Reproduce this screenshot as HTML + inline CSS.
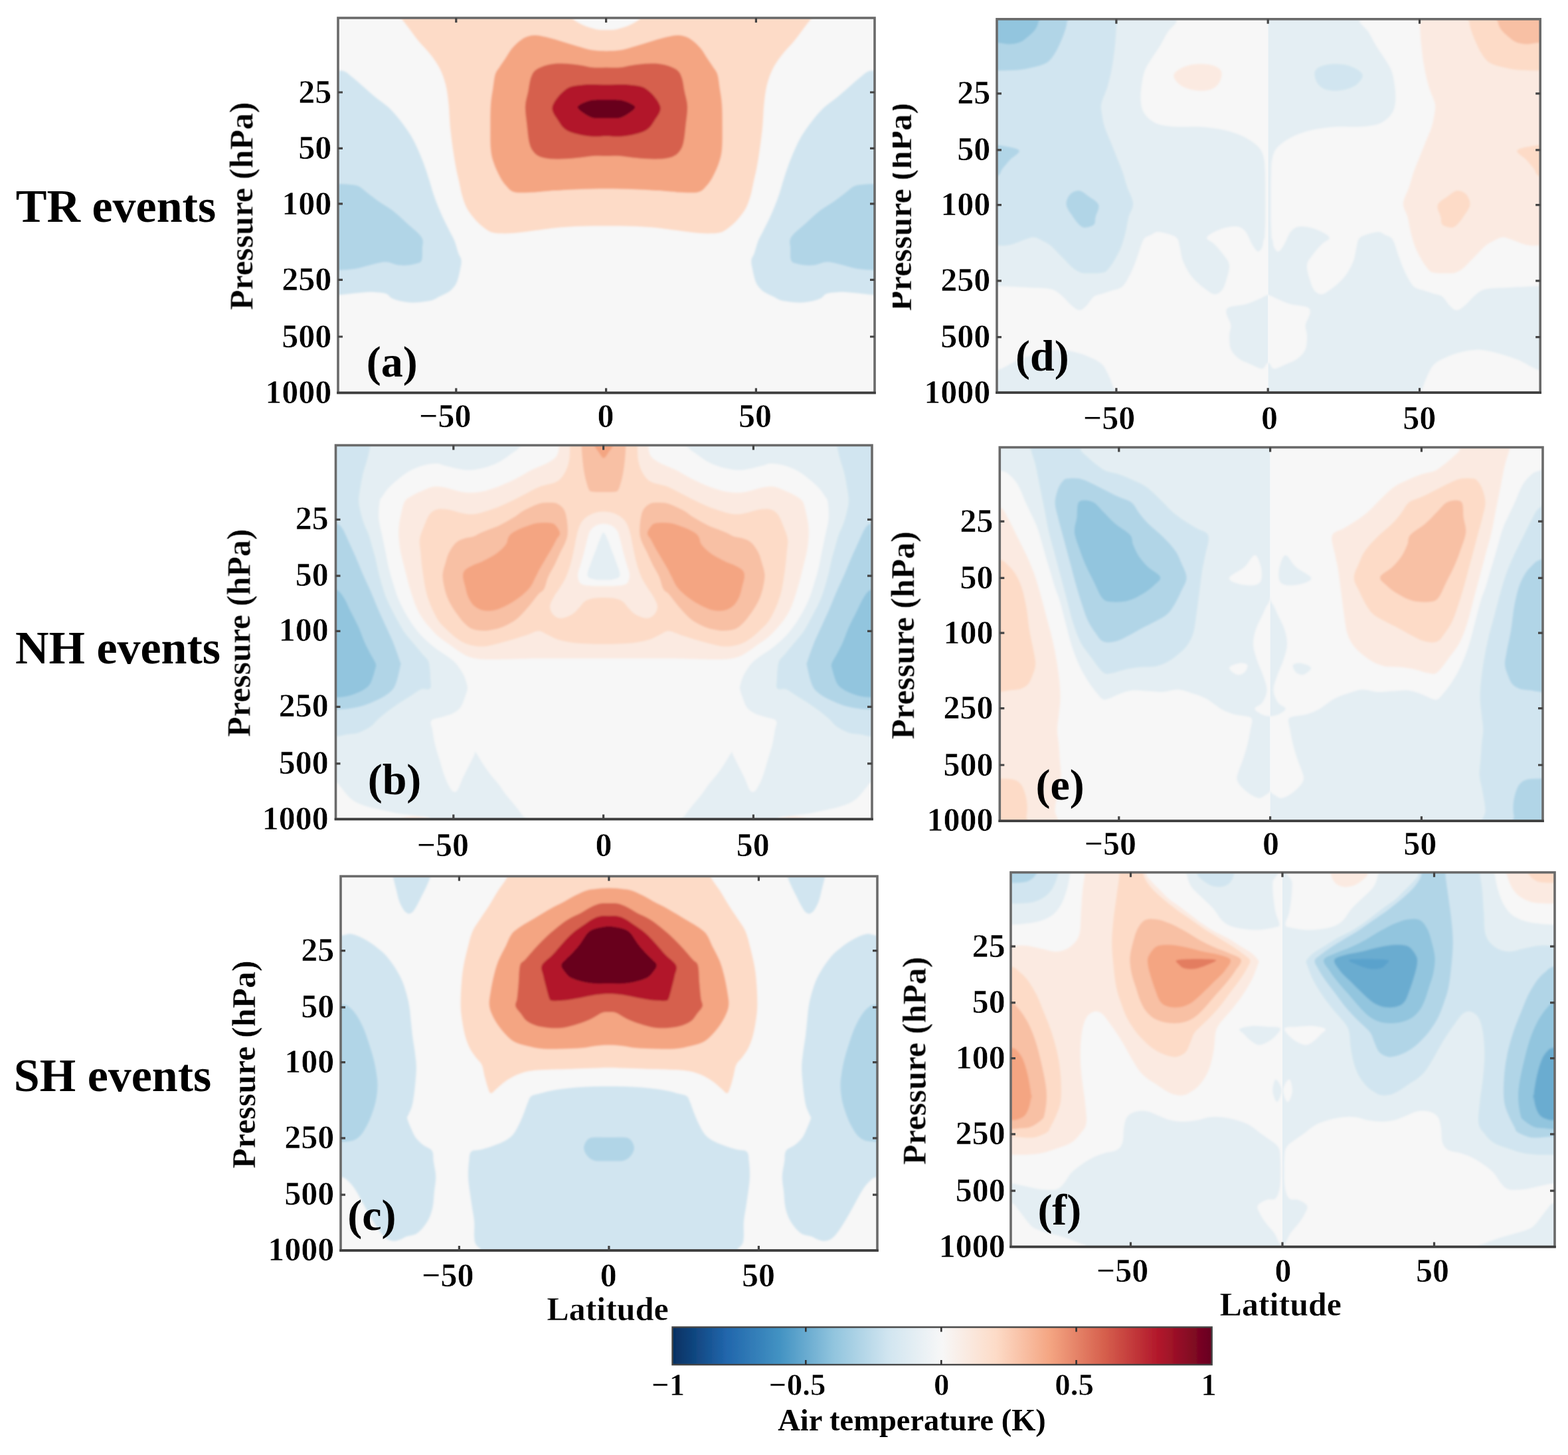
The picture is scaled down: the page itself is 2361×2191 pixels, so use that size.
<!DOCTYPE html>
<html lang="en"><head><meta charset="utf-8"><title>Figure</title>
<style>
html,body{margin:0;padding:0;background:#fff;}
body{width:2361px;height:2191px;overflow:hidden;}
svg{display:block;}
text{font-family:"Liberation Serif","DejaVu Serif",serif;font-weight:bold;fill:#000;}
.tk{font-size:50px;stroke:#fff;stroke-width:0.6px;}
.row{font-size:70px;}
.ax{font-size:50px;stroke:#fff;stroke-width:0.4px;}
.pl{font-size:66px;}
.cb{font-size:46.5px;}
.cbt{font-size:47px;stroke:#fff;stroke-width:0.6px;}
.axp{font-size:50px;stroke:#fff;stroke-width:0.4px;}
</style></head><body>
<svg width="2361" height="2191" viewBox="0 0 2361 2191">
<defs><filter id="soft" x="-5%" y="-5%" width="110%" height="110%"><feGaussianBlur stdDeviation="1.5"/></filter><filter id="tsoft" x="-5%" y="-5%" width="110%" height="110%"><feGaussianBlur stdDeviation="0.55"/></filter></defs>
<rect width="2361" height="2191" fill="#fff"/>
<g id="panel-a">
<clipPath id="cpa"><rect x="509" y="27" width="808" height="564.5"/></clipPath>
<g clip-path="url(#cpa)"><g filter="url(#soft)">
<rect x="489" y="7" width="848" height="604.5" fill="#f7f7f7"/>
<path d="M913.1,45.1C907.8,45.1 902.9,45.0 897.2,43.9C891.5,42.8 884.8,40.8 879.1,38.3C873.5,35.8 867.8,32.4 863.3,29.2C858.8,26.0 876.5,22.2 852,19C827.5,15.8 758.4,10.0 716.2,10C674.0,10.0 617.1,15.8 598.6,19C580.1,22.2 602.4,25.1 605.4,29.2C608.4,33.4 612.6,38.4 616.7,43.9C620.9,49.4 625.0,55.6 630.3,62C635.6,68.4 643.1,75.6 648.4,82.4C653.7,89.2 658.1,95.3 661.9,102.8C665.7,110.3 668.7,118.5 671,127.6C673.3,136.7 674.4,146.5 675.5,157.1C676.6,167.7 676.7,179.3 677.8,191C678.9,202.7 680.8,216.6 682.3,227.2C683.8,237.8 685.3,246.4 686.8,254.3C688.3,262.2 689.9,267.9 691.4,274.7C692.9,281.5 694.0,288.7 695.9,295.1C697.8,301.5 699.7,307.6 702.7,313.2C705.7,318.8 710.2,324.5 714,329C717.8,333.5 721.1,336.9 725.3,340.3C729.4,343.7 733.6,347.5 738.9,349.4C744.2,351.3 750.2,351.4 757,351.6C763.8,351.8 771.3,351.2 779.6,350.5C787.9,349.8 796.2,348.4 806.7,347.1C817.2,345.8 831.6,343.7 842.9,342.6C854.2,341.6 862.9,341.2 874.6,340.8C886.3,340.4 900.3,340.3 913.1,340.3C925.9,340.3 939.7,340.4 951.4,340.8C963.1,341.2 971.8,341.6 983.1,342.6C994.4,343.7 1008.8,345.8 1019.3,347.1C1029.8,348.4 1038.1,349.8 1046.4,350.5C1054.7,351.2 1062.2,351.8 1069,351.6C1075.8,351.4 1081.8,351.3 1087.1,349.4C1092.4,347.5 1096.5,343.7 1100.7,340.3C1104.9,336.9 1108.2,333.5 1112,329C1115.8,324.5 1120.3,318.8 1123.3,313.2C1126.3,307.6 1128.2,301.5 1130.1,295.1C1132.0,288.7 1133.1,281.5 1134.6,274.7C1136.1,267.9 1137.7,262.2 1139.2,254.3C1140.7,246.4 1142.2,237.8 1143.7,227.2C1145.2,216.6 1147.1,202.7 1148.2,191C1149.3,179.3 1149.4,167.7 1150.5,157.1C1151.6,146.5 1152.7,136.7 1155,127.6C1157.3,118.5 1160.3,110.3 1164.1,102.8C1167.9,95.3 1172.3,89.2 1177.6,82.4C1182.9,75.6 1190.4,68.4 1195.7,62C1201.0,55.6 1205.2,49.4 1209.3,43.9C1213.4,38.4 1217.6,33.4 1220.6,29.2C1223.6,25.1 1245.9,22.2 1227.4,19C1208.9,15.8 1152.0,10.0 1109.8,10C1067.6,10.0 998.5,15.8 974,19C949.5,22.2 967.2,26.0 962.7,29.2C958.2,32.4 952.5,35.8 946.9,38.3C941.2,40.8 934.4,42.8 928.8,43.9C923.2,45.0 918.4,45.1 913.1,45.1Z" fill="#fddbc7"/>
<path d="M913.1,76.7C906.3,76.7 899.1,76.5 892.7,75.6C886.3,74.7 881.4,73.0 874.6,71.1C867.8,69.2 859.5,66.6 852,64.3C844.5,62.0 836.9,59.4 829.4,57.5C821.9,55.6 812.7,53.4 806.7,53C800.7,52.6 797.3,53.7 793.2,55.2C789.1,56.7 785.7,59.0 781.9,62C778.1,65.0 773.9,69.1 770.5,73.3C767.1,77.5 764.5,82.4 761.5,86.9C758.5,91.4 755.0,96.3 752.4,100.5C749.8,104.7 747.4,106.5 745.7,111.8C744.0,117.1 743.4,124.6 742.3,132.2C741.2,139.8 739.6,147.3 738.9,157.1C738.2,166.9 738.2,179.7 738.2,191C738.2,202.3 738.0,215.8 738.9,224.9C739.8,234.0 741.1,238.5 743.4,245.3C745.6,252.1 749.4,260.1 752.4,265.7C755.4,271.3 757.7,275.2 761.5,279.2C765.3,283.1 767.6,287.7 775.1,289.4C782.6,291.1 796.9,289.8 806.7,289.4C816.5,289.0 822.6,287.9 833.9,287.1C845.2,286.4 861.4,285.4 874.6,284.9C887.8,284.4 900.3,284.2 913.1,284.2C925.9,284.2 938.2,284.4 951.4,284.9C964.6,285.4 980.8,286.4 992.1,287.1C1003.4,287.9 1009.5,289.0 1019.3,289.4C1029.1,289.8 1043.4,291.1 1050.9,289.4C1058.4,287.7 1060.7,283.1 1064.5,279.2C1068.3,275.2 1070.6,271.3 1073.6,265.7C1076.6,260.1 1080.3,252.1 1082.6,245.3C1084.8,238.5 1086.2,234.0 1087.1,224.9C1088.0,215.8 1087.8,202.3 1087.8,191C1087.8,179.7 1087.8,166.9 1087.1,157.1C1086.4,147.3 1084.8,139.8 1083.7,132.2C1082.6,124.6 1082.0,117.1 1080.3,111.8C1078.6,106.5 1076.2,104.7 1073.6,100.5C1071.0,96.3 1067.5,91.4 1064.5,86.9C1061.5,82.4 1058.9,77.5 1055.5,73.3C1052.1,69.1 1047.9,65.0 1044.1,62C1040.3,59.0 1036.9,56.7 1032.8,55.2C1028.7,53.7 1025.3,52.6 1019.3,53C1013.3,53.4 1004.1,55.6 996.6,57.5C989.1,59.4 981.5,62.0 974,64.3C966.5,66.6 958.2,69.2 951.4,71.1C944.6,73.0 939.7,74.7 933.3,75.6C926.9,76.5 919.9,76.7 913.1,76.7Z" fill="#f4a582"/>
<path d="M913.1,101.6C906.3,101.6 899.1,102.2 892.7,101.6C886.3,101.0 880.6,99.1 874.6,98.2C868.6,97.3 863.3,96.4 856.5,96C849.7,95.6 840.7,95.2 833.9,96C827.1,96.8 820.7,98.6 815.8,100.5C810.9,102.4 807.3,104.3 804.5,107.3C801.7,110.3 800.3,113.7 798.8,118.6C797.3,123.5 796.7,129.9 795.4,136.7C794.1,143.5 791.3,151.0 790.9,159.3C790.5,167.6 792.2,177.4 793.2,186.5C794.2,195.6 795.1,206.8 796.6,213.6C798.1,220.4 799.4,223.4 802.2,227.2C805.0,231.0 808.2,234.1 813.5,236.2C818.8,238.3 825.6,239.2 833.9,239.6C842.2,240.0 853.5,239.2 863.3,238.5C873.1,237.8 884.4,235.7 892.7,235.1C901.0,234.5 906.3,235.1 913.1,235.1C919.9,235.1 925.0,234.5 933.3,235.1C941.6,235.7 952.9,237.8 962.7,238.5C972.5,239.2 983.8,240.0 992.1,239.6C1000.4,239.2 1007.2,238.3 1012.5,236.2C1017.8,234.1 1021.0,231.0 1023.8,227.2C1026.6,223.4 1027.9,220.4 1029.4,213.6C1030.9,206.8 1031.8,195.6 1032.8,186.5C1033.8,177.4 1035.5,167.6 1035.1,159.3C1034.7,151.0 1031.9,143.5 1030.6,136.7C1029.3,129.9 1028.7,123.5 1027.2,118.6C1025.7,113.7 1024.3,110.3 1021.5,107.3C1018.7,104.3 1015.1,102.4 1010.2,100.5C1005.3,98.6 998.9,96.8 992.1,96C985.3,95.2 976.3,95.6 969.5,96C962.7,96.4 957.4,97.3 951.4,98.2C945.4,99.1 939.7,101.0 933.3,101.6C926.9,102.2 919.9,101.6 913.1,101.6Z" fill="#d6604d"/>
<path d="M913.1,127.6C901.8,127.6 889.3,126.5 879.1,127.6C868.9,128.7 859.9,128.9 852,134.4C844.1,139.9 833.5,152.6 831.6,160.5C829.7,168.4 837.3,176.1 840.7,181.9C844.1,187.7 847.1,192.1 852,195.5C856.9,198.9 863.3,200.6 870.1,202.3C876.9,204.0 885.5,205.2 892.7,205.7C899.9,206.1 906.3,205.0 913.1,205C919.9,205.0 926.2,206.1 933.3,205.7C940.4,205.2 949.1,204.0 955.9,202.3C962.7,200.6 969.1,198.9 974,195.5C978.9,192.1 981.9,187.7 985.3,181.9C988.7,176.1 996.3,168.4 994.4,160.5C992.5,152.6 981.9,139.9 974,134.4C966.1,128.9 957.0,128.7 946.9,127.6C936.8,126.5 924.4,127.6 913.1,127.6Z" fill="#b2182b"/>
<path d="M913.1,150.3C904.8,150.3 895.4,149.7 888.2,151.4C881.0,153.1 871.6,157.3 870.1,160.5C868.6,163.7 875.3,167.8 879.1,170.6C882.9,173.4 887.0,176.2 892.7,177.4C898.4,178.6 906.3,177.9 913.1,177.9C919.9,177.9 927.7,178.6 933.3,177.4C938.9,176.2 943.1,173.4 946.9,170.6C950.7,167.8 957.4,163.7 955.9,160.5C954.4,157.3 944.9,153.1 937.8,151.4C930.7,149.7 921.4,150.3 913.1,150.3Z" fill="#67001f"/>
<path d="M490,106.2C493.2,49.9 504.3,106.0 509.2,106.2C514.1,106.5 515.8,106.0 519.4,107.7C523.0,109.4 526.2,112.6 530.7,116.3C535.2,120.0 540.9,125.0 546.6,129.9C552.3,134.8 558.3,140.4 564.7,145.7C571.1,151.0 578.6,155.6 585,161.6C591.4,167.6 597.4,174.7 603.1,181.9C608.8,189.1 614.5,197.1 619,204.6C623.5,212.1 626.9,219.7 630.3,227.2C633.7,234.7 636.7,242.6 639.3,249.8C641.9,257.0 643.8,263.0 646.1,270.2C648.4,277.4 650.6,286.0 652.9,292.8C655.2,299.6 657.1,304.5 659.7,310.9C662.3,317.3 665.7,324.9 668.7,331.3C671.7,337.7 675.1,344.1 677.8,349.4C680.4,354.7 682.5,357.6 684.6,362.9C686.7,368.2 688.5,376.1 690.2,381C691.9,385.9 694.4,387.9 694.8,392.4C695.2,396.9 693.5,403.2 692.5,408.1C691.5,413.0 690.4,417.9 689.1,421.7C687.8,425.5 686.9,427.8 684.6,430.8C682.3,433.8 679.3,437.2 675.5,439.8C671.7,442.4 666.0,444.5 661.9,446.6C657.8,448.7 654.7,451.0 650.6,452.3C646.5,453.6 642.0,453.9 637.1,454.5C632.2,455.1 626.9,455.9 621.2,455.7C615.5,455.5 608.4,454.5 603.1,453.4C597.8,452.3 593.3,450.8 589.5,448.9C585.7,447.0 585.8,443.6 580.5,442.1C575.2,440.6 565.4,439.9 557.9,439.8C550.4,439.7 543.3,440.9 535.2,441.6C527.1,442.4 516.7,443.9 509.2,444.3C501.7,444.8 493.2,500.7 490,444.3C486.8,387.9 486.8,162.6 490,106.2Z" fill="#d1e5f0"/>
<path d="M1336,444.3C1332.8,500.7 1324.3,444.8 1316.8,444.3C1309.3,443.9 1298.9,442.4 1290.8,441.6C1282.7,440.9 1275.6,439.7 1268.1,439.8C1260.5,439.9 1250.8,440.6 1245.5,442.1C1240.2,443.6 1240.3,447.0 1236.5,448.9C1232.7,450.8 1228.2,452.3 1222.9,453.4C1217.6,454.5 1210.5,455.5 1204.8,455.7C1199.1,455.9 1193.8,455.1 1188.9,454.5C1184.0,453.9 1179.5,453.6 1175.4,452.3C1171.3,451.0 1168.2,448.7 1164.1,446.6C1159.9,444.5 1154.3,442.4 1150.5,439.8C1146.7,437.2 1143.7,433.8 1141.4,430.8C1139.1,427.8 1138.2,425.5 1136.9,421.7C1135.6,417.9 1134.5,413.0 1133.5,408.1C1132.5,403.2 1130.8,396.9 1131.2,392.4C1131.6,387.9 1134.1,385.9 1135.8,381C1137.5,376.1 1139.3,368.2 1141.4,362.9C1143.5,357.6 1145.6,354.7 1148.2,349.4C1150.8,344.1 1154.3,337.7 1157.3,331.3C1160.3,324.9 1163.7,317.3 1166.3,310.9C1168.9,304.5 1170.8,299.6 1173.1,292.8C1175.4,286.0 1177.6,277.4 1179.9,270.2C1182.2,263.0 1184.1,257.0 1186.7,249.8C1189.3,242.6 1192.3,234.7 1195.7,227.2C1199.1,219.7 1202.5,212.1 1207,204.6C1211.5,197.1 1217.2,189.1 1222.9,181.9C1228.6,174.7 1234.6,167.6 1241,161.6C1247.4,155.6 1254.9,151.0 1261.3,145.7C1267.7,140.4 1273.7,134.8 1279.4,129.9C1285.1,125.0 1290.8,120.0 1295.3,116.3C1299.8,112.6 1303.0,109.4 1306.6,107.7C1310.2,106.0 1311.9,106.5 1316.8,106.2C1321.7,106.0 1332.8,49.9 1336,106.2C1339.2,162.6 1339.2,387.9 1336,444.3Z" fill="#d1e5f0"/>
<path d="M490,276.9C493.2,255.2 503.6,276.8 509.2,276.9C514.9,277.0 518.8,276.8 523.9,277.4C529.0,278.0 534.9,278.1 539.8,280.3C544.7,282.5 548.0,286.5 553.3,290.5C558.6,294.5 565.0,299.6 571.4,304.1C577.8,308.6 585.0,312.3 591.8,317.6C598.6,322.9 605.0,329.1 612.2,335.7C619.4,342.3 630.8,350.8 634.8,357.2C638.8,363.6 635.9,368.3 635.9,374.2C635.9,380.1 636.5,388.4 634.8,392.3C633.1,396.2 629.5,396.1 625.7,397.3C621.9,398.5 616.7,399.2 612.2,399.5C607.7,399.8 603.9,399.9 598.6,399.1C593.3,398.3 587.3,394.6 580.5,394.6C573.7,394.6 565.4,397.4 557.9,399.1C550.4,400.8 543.3,403.5 535.2,404.8C527.1,406.1 516.7,406.6 509.2,407C501.7,407.4 493.2,428.7 490,407C486.8,385.3 486.8,298.6 490,276.9Z" fill="#b1d5e7"/>
<path d="M1336,407C1332.8,428.7 1324.3,407.4 1316.8,407C1309.3,406.6 1298.9,406.1 1290.8,404.8C1282.7,403.5 1275.6,400.8 1268.1,399.1C1260.5,397.4 1252.3,394.6 1245.5,394.6C1238.7,394.6 1232.7,398.3 1227.4,399.1C1222.1,399.9 1218.3,399.8 1213.8,399.5C1209.3,399.2 1204.1,398.5 1200.3,397.3C1196.5,396.1 1192.9,396.2 1191.2,392.3C1189.5,388.4 1190.1,380.1 1190.1,374.2C1190.1,368.3 1187.2,363.6 1191.2,357.2C1195.2,350.8 1206.6,342.3 1213.8,335.7C1221.0,329.1 1227.4,322.9 1234.2,317.6C1241.0,312.3 1248.2,308.6 1254.6,304.1C1261.0,299.6 1267.4,294.5 1272.7,290.5C1278.0,286.5 1281.3,282.5 1286.2,280.3C1291.1,278.1 1297.0,278.0 1302.1,277.4C1307.2,276.8 1311.1,277.0 1316.8,276.9C1322.5,276.8 1332.8,255.2 1336,276.9C1339.2,298.6 1339.2,385.3 1336,407Z" fill="#b1d5e7"/>
</g></g>
<g filter="url(#tsoft)">
<rect x="509" y="27" width="808" height="564.5" fill="none" stroke="#6b6b6b" stroke-width="3.6"/>
<path d="M507.2,591.5 H1318.8" stroke="#3c3c3c" stroke-width="3.6" fill="none"/>
<path d="M686.8,591.5 v-7 M686.8,27 v7 M912.6,591.5 v-7 M912.6,27 v7 M1138.4,591.5 v-7 M1138.4,27 v7 M509,139 h7 M1317,139 h-7 M509,223.3 h7 M1317,223.3 h-7 M509,306.8 h7 M1317,306.8 h-7 M509,421.3 h7 M1317,421.3 h-7 M509,507 h7 M1317,507 h-7" stroke="#444" stroke-width="3.2" fill="none"/>
<text x="709.4" y="643.1" text-anchor="end" class="tk">−50</text>
<text x="912.1" y="643.1" text-anchor="middle" class="tk">0</text>
<text x="1137" y="643.1" text-anchor="middle" class="tk">50</text>
<text x="499.2" y="154.7" text-anchor="end" class="tk">25</text>
<text x="499.2" y="239" text-anchor="end" class="tk">50</text>
<text x="499.2" y="322.5" text-anchor="end" class="tk">100</text>
<text x="499.2" y="437" text-anchor="end" class="tk">250</text>
<text x="499.2" y="522.7" text-anchor="end" class="tk">500</text>
<text x="499.2" y="606.7" text-anchor="end" class="tk">1000</text>
<text transform="translate(380.4,310.3) rotate(-90)" text-anchor="middle" class="axp">Pressure (hPa)</text>
<text x="551.8" y="566.8" class="pl">(a)</text>
</g>
</g>
<g id="panel-b">
<clipPath id="cpb"><rect x="505.5" y="670.5" width="807.5" height="563"/></clipPath>
<g clip-path="url(#cpb)"><g filter="url(#soft)">
<rect x="485.5" y="650.5" width="847.5" height="603" fill="#f7f7f7"/>
<path d="M781.6,659C832.5,661.5 783.7,669.6 781.6,673.8C779.5,677.9 774.2,680.1 769,683.9C763.8,687.7 757.5,692.8 750.2,696.4C742.9,700.0 733.5,703.3 725.1,705.2C716.7,707.1 709.0,708.3 700,707.7C691.0,707.1 678.1,703.2 671,701.6C663.9,700.0 663.0,698.1 657.4,698C651.8,697.9 643.9,699.0 637.1,700.9C630.3,702.8 623.1,705.7 616.7,709.3C610.3,712.9 603.9,718.1 598.6,722.4C593.3,726.6 588.8,730.6 585,734.8C581.2,738.9 578.2,743.9 576,747.3C573.8,750.7 572.7,749.9 571.7,755.4C570.8,760.9 569.7,772.1 570.3,780.5C570.9,788.9 573.6,797.3 575.3,805.7C577.0,814.1 578.8,822.4 580.5,830.8C582.2,839.2 583.4,847.5 585.5,855.9C587.6,864.3 590.6,874.0 592.9,881.4C595.2,888.8 596.7,893.9 599.2,900.2C601.7,906.5 604.6,912.8 608,919.1C611.4,925.4 615.3,932.0 619.3,937.9C623.3,943.8 627.6,949.4 631.8,954.2C636.0,959.0 640.0,962.8 644.4,966.8C648.8,970.8 653.4,974.5 658.2,978.1C663.0,981.7 668.7,984.8 673.3,988.1C677.9,991.5 682.4,994.9 685.8,998.2C689.1,1001.6 691.1,1004.7 693.4,1008.2C695.7,1011.8 697.9,1015.5 699.6,1019.5C701.3,1023.5 702.7,1029.0 703.4,1032.1C704.1,1035.1 704.3,1035.0 703.8,1037.8C703.3,1040.6 702.1,1044.6 700.4,1049.1C698.7,1053.6 696.6,1060.8 693.6,1064.9C690.6,1069.1 686.8,1071.5 682.3,1074C677.8,1076.5 672.0,1077.7 666.5,1079.6C661.0,1081.5 652.1,1082.1 649.5,1085.3C646.9,1088.5 650.1,1092.9 651.1,1098.9C652.1,1104.9 653.4,1114.0 655.2,1121.5C657.0,1129.0 659.6,1136.6 661.9,1144.1C664.1,1151.6 666.4,1160.3 668.7,1166.7C671.0,1173.1 673.2,1178.4 675.5,1182.6C677.8,1186.8 680.0,1191.0 682.3,1192.1C684.6,1193.2 686.8,1192.5 689.1,1189.4C691.4,1186.3 693.3,1179.2 695.9,1173.5C698.5,1167.8 701.9,1161.4 704.9,1155.4C707.9,1149.4 712.1,1141.1 714,1137.3C715.9,1133.5 713.9,1130.5 716.2,1132.8C718.5,1135.1 723.8,1145.2 727.6,1150.9C731.4,1156.6 735.1,1161.8 738.9,1166.7C742.7,1171.6 746.4,1175.4 750.2,1180.3C754.0,1185.2 757.7,1191.3 761.5,1196.2C765.3,1201.1 769.4,1205.6 772.8,1209.7C776.2,1213.8 779.3,1217.6 781.9,1221C784.5,1224.4 786.5,1227.8 788.6,1230.1C790.7,1232.4 793.3,1230.1 794.3,1234.6C795.2,1239.1 847.3,1253.4 794.3,1257.2C741.3,1261.0 529.4,1356.9 476.4,1257.2C423.4,1157.5 425.5,758.7 476.4,659C527.3,559.3 730.7,656.5 781.6,659Z" fill="#e4eef3"/>
<path d="M1341.6,659C1392.5,758.7 1394.6,1157.5 1341.6,1257.2C1288.6,1356.9 1076.7,1261.0 1023.7,1257.2C970.7,1253.4 1022.8,1239.1 1023.7,1234.6C1024.7,1230.1 1027.3,1232.4 1029.4,1230.1C1031.5,1227.8 1033.5,1224.4 1036.1,1221C1038.7,1217.6 1041.8,1213.8 1045.2,1209.7C1048.6,1205.6 1052.7,1201.1 1056.5,1196.2C1060.3,1191.3 1064.0,1185.2 1067.8,1180.3C1071.6,1175.4 1075.3,1171.6 1079.1,1166.7C1082.9,1161.8 1086.6,1156.6 1090.4,1150.9C1094.2,1145.2 1099.5,1135.1 1101.8,1132.8C1104.1,1130.5 1102.1,1133.5 1104,1137.3C1105.9,1141.1 1110.1,1149.4 1113.1,1155.4C1116.1,1161.4 1119.5,1167.8 1122.1,1173.5C1124.7,1179.2 1126.6,1186.3 1128.9,1189.4C1131.2,1192.5 1133.4,1193.2 1135.7,1192.1C1138.0,1191.0 1140.2,1186.8 1142.5,1182.6C1144.8,1178.4 1147.0,1173.1 1149.3,1166.7C1151.6,1160.3 1153.8,1151.6 1156.1,1144.1C1158.3,1136.6 1161.0,1129.0 1162.8,1121.5C1164.6,1114.0 1166.0,1104.9 1166.9,1098.9C1167.9,1092.9 1171.1,1088.5 1168.5,1085.3C1165.9,1082.1 1157.0,1081.5 1151.5,1079.6C1146.0,1077.7 1140.2,1076.5 1135.7,1074C1131.2,1071.5 1127.4,1069.1 1124.4,1064.9C1121.4,1060.8 1119.3,1053.6 1117.6,1049.1C1115.9,1044.6 1114.7,1040.6 1114.2,1037.8C1113.7,1035.0 1113.9,1035.1 1114.6,1032.1C1115.3,1029.0 1116.7,1023.5 1118.4,1019.5C1120.1,1015.5 1122.3,1011.8 1124.6,1008.2C1126.9,1004.7 1128.8,1001.6 1132.2,998.2C1135.6,994.9 1140.1,991.5 1144.7,988.1C1149.3,984.8 1155.0,981.7 1159.8,978.1C1164.6,974.5 1169.2,970.8 1173.6,966.8C1178.0,962.8 1182.0,959.0 1186.2,954.2C1190.4,949.4 1194.7,943.8 1198.7,937.9C1202.7,932.0 1206.7,925.4 1210,919.1C1213.3,912.8 1216.3,906.5 1218.8,900.2C1221.3,893.9 1222.8,888.8 1225.1,881.4C1227.4,874.0 1230.4,864.3 1232.5,855.9C1234.6,847.5 1235.8,839.2 1237.5,830.8C1239.2,822.4 1241.0,814.1 1242.7,805.7C1244.4,797.3 1247.1,788.9 1247.7,780.5C1248.3,772.1 1247.2,760.9 1246.3,755.4C1245.3,749.9 1244.2,750.7 1242,747.3C1239.8,743.9 1236.8,738.9 1233,734.8C1229.2,730.6 1224.7,726.6 1219.4,722.4C1214.1,718.1 1207.7,712.9 1201.3,709.3C1194.9,705.7 1187.7,702.8 1180.9,700.9C1174.1,699.0 1166.2,697.9 1160.6,698C1154.9,698.1 1154.1,700.0 1147,701.6C1139.9,703.2 1127.0,707.1 1118,707.7C1109.0,708.3 1101.3,707.1 1092.9,705.2C1084.5,703.3 1075.1,700.0 1067.8,696.4C1060.5,692.8 1054.2,687.7 1049,683.9C1043.8,680.1 1038.5,677.9 1036.4,673.8C1034.3,669.6 985.5,661.5 1036.4,659C1087.3,656.5 1290.7,559.3 1341.6,659Z" fill="#e4eef3"/>
<path d="M481,1175.8C485.1,1162.6 500.1,1176.6 505.4,1178.1C510.7,1179.6 509.5,1181.4 512.6,1184.8C515.7,1188.2 520.1,1194.6 523.9,1198.4C527.7,1202.2 530.3,1204.8 535.2,1207.5C540.1,1210.2 545.8,1212.5 553.3,1214.7C560.8,1217.0 572.2,1219.2 580.5,1221C588.8,1222.8 595.6,1224.4 603.1,1225.6C610.6,1226.8 618.2,1227.0 625.7,1228.3C633.2,1229.6 644.6,1228.7 648.4,1233.5C652.2,1238.3 676.3,1253.2 648.4,1257.2C620.5,1261.2 508.9,1270.8 481,1257.2C453.1,1243.6 476.9,1189.0 481,1175.8Z" fill="#f7f7f7"/>
<path d="M1337,1257.2C1309.1,1270.8 1197.5,1261.2 1169.6,1257.2C1141.7,1253.2 1165.8,1238.3 1169.6,1233.5C1173.4,1228.7 1184.8,1229.6 1192.3,1228.3C1199.8,1227.0 1207.4,1226.8 1214.9,1225.6C1222.4,1224.4 1229.2,1222.8 1237.5,1221C1245.8,1219.2 1257.2,1217.0 1264.7,1214.7C1272.2,1212.5 1277.9,1210.2 1282.8,1207.5C1287.7,1204.8 1290.3,1202.2 1294.1,1198.4C1297.9,1194.6 1302.3,1188.2 1305.4,1184.8C1308.5,1181.4 1307.3,1179.6 1312.6,1178.1C1317.9,1176.6 1332.9,1162.6 1337,1175.8C1341.1,1189.0 1364.9,1243.6 1337,1257.2Z" fill="#f7f7f7"/>
<path d="M603.1,1234.6C600.9,1232.4 608.4,1231.4 612.2,1230.5C616.0,1229.6 621.6,1229.1 625.7,1229.2C629.9,1229.3 633.7,1230.1 637.1,1231C640.5,1231.9 648.0,1232.5 646.1,1234.6C644.2,1236.7 632.9,1243.7 625.7,1243.7C618.5,1243.7 605.4,1236.8 603.1,1234.6Z" fill="#fbeae1"/>
<path d="M1192.3,1243.7C1185.1,1243.7 1173.8,1236.7 1171.9,1234.6C1170.0,1232.5 1177.5,1231.9 1180.9,1231C1184.3,1230.1 1188.2,1229.3 1192.3,1229.2C1196.4,1229.1 1202.0,1229.6 1205.8,1230.5C1209.6,1231.4 1217.2,1232.4 1214.9,1234.6C1212.7,1236.8 1199.5,1243.7 1192.3,1243.7Z" fill="#fbeae1"/>
<path d="M481,659C493.8,584.0 545.2,656.7 557.9,659C570.6,661.3 558.2,667.3 557.4,672.6C556.6,677.9 555.1,683.9 553.3,690.7C551.5,697.5 548.5,705.0 546.6,713.3C544.7,721.6 542.7,733.5 541.6,740.5C540.5,747.5 539.9,750.1 540.2,755.4C540.5,760.7 541.8,766.4 543.2,772.2C544.6,778.0 546.8,784.7 548.8,790.3C550.8,795.9 553.5,800.4 555.4,805.7C557.3,811.0 558.5,816.2 560.1,821.9C561.7,827.6 563.5,833.6 565.1,840C566.7,846.4 567.9,853.5 569.6,860.4C571.3,867.3 573.3,874.8 575.3,881.4C577.3,888.0 579.1,893.9 581.6,900.2C584.1,906.5 587.2,912.8 590.4,919.1C593.5,925.4 597.1,932.0 600.5,937.9C603.9,943.8 606.7,949.0 610.5,954.2C614.3,959.4 618.9,964.3 623.1,969.3C627.3,974.3 632.1,980.2 635.6,984.4C639.1,988.6 642.5,990.6 644.4,994.4C646.3,998.2 646.5,1001.8 647.2,1007C647.9,1012.2 648.1,1021.2 648.4,1025.8C648.7,1030.4 649.5,1032.5 648.8,1034.6C648.1,1036.7 646.7,1037.8 644.4,1038.3C642.1,1038.8 639.4,1036.0 634.8,1037.8C630.2,1039.6 622.7,1045.3 616.7,1049.1C610.7,1052.9 604.2,1056.6 598.6,1060.4C593.0,1064.2 587.7,1067.9 582.8,1071.7C577.9,1075.5 573.4,1079.2 569.2,1083C565.1,1086.8 562.8,1090.9 557.9,1094.3C553.0,1097.7 545.5,1101.5 539.8,1103.4C534.1,1105.3 529.6,1104.8 523.9,1105.7C518.2,1106.6 512.5,1108.5 505.4,1109C498.2,1109.5 485.1,1184.0 481,1109C476.9,1034.0 468.2,734.0 481,659Z" fill="#d1e5f0"/>
<path d="M1337,1109C1332.9,1184.0 1319.8,1109.5 1312.6,1109C1305.4,1108.5 1299.8,1106.6 1294.1,1105.7C1288.4,1104.8 1283.9,1105.3 1278.2,1103.4C1272.5,1101.5 1265.0,1097.7 1260.1,1094.3C1255.2,1090.9 1252.9,1086.8 1248.8,1083C1244.7,1079.2 1240.1,1075.5 1235.2,1071.7C1230.3,1067.9 1225.1,1064.2 1219.4,1060.4C1213.8,1056.6 1207.3,1052.9 1201.3,1049.1C1195.3,1045.3 1187.8,1039.6 1183.2,1037.8C1178.6,1036.0 1175.9,1038.8 1173.6,1038.3C1171.3,1037.8 1169.9,1036.7 1169.2,1034.6C1168.5,1032.5 1169.3,1030.4 1169.6,1025.8C1169.9,1021.2 1170.1,1012.2 1170.8,1007C1171.5,1001.8 1171.7,998.2 1173.6,994.4C1175.5,990.6 1178.9,988.6 1182.4,984.4C1186.0,980.2 1190.7,974.3 1194.9,969.3C1199.1,964.3 1203.7,959.4 1207.5,954.2C1211.3,949.0 1214.2,943.8 1217.5,937.9C1220.8,932.0 1224.4,925.4 1227.6,919.1C1230.8,912.8 1233.9,906.5 1236.4,900.2C1238.9,893.9 1240.7,888.0 1242.7,881.4C1244.7,874.8 1246.7,867.3 1248.4,860.4C1250.1,853.5 1251.3,846.4 1252.9,840C1254.5,833.6 1256.3,827.6 1257.9,821.9C1259.5,816.2 1260.7,811.0 1262.6,805.7C1264.5,800.4 1267.2,795.9 1269.2,790.3C1271.2,784.7 1273.4,778.0 1274.8,772.2C1276.2,766.4 1277.5,760.7 1277.8,755.4C1278.1,750.1 1277.5,747.5 1276.4,740.5C1275.3,733.5 1273.4,721.6 1271.4,713.3C1269.5,705.0 1266.5,697.5 1264.7,690.7C1262.9,683.9 1261.4,677.9 1260.6,672.6C1259.8,667.3 1247.4,661.3 1260.1,659C1272.8,656.7 1324.2,584.0 1337,659C1349.8,734.0 1341.1,1034.0 1337,1109Z" fill="#d1e5f0"/>
<path d="M481,785.7C485.1,739.0 499.8,786.5 505.4,788C511.0,789.5 511.8,790.6 514.9,794.8C518.0,798.9 520.5,805.7 523.9,812.9C527.3,820.1 531.4,829.1 535.2,837.8C539.0,846.5 542.8,856.2 546.6,864.9C550.4,873.6 554.1,881.1 557.9,889.8C561.7,898.5 565.4,908.3 569.2,917C573.0,925.7 576.7,933.6 580.5,941.9C584.3,950.2 588.1,957.7 591.8,966.7C595.4,975.8 600.5,990.4 602.4,996.2C604.3,1002.0 604.1,996.2 603.1,1001.6C602.1,1007.0 598.9,1021.9 596.3,1028.7C593.7,1035.5 591.8,1038.2 587.3,1042.3C582.8,1046.4 576.0,1050.2 569.2,1053.6C562.4,1057.0 554.2,1060.4 546.6,1062.7C539.0,1065.0 530.8,1066.3 523.9,1067.2C517.0,1068.1 512.5,1068.1 505.4,1068.3C498.2,1068.5 485.1,1115.4 481,1068.3C476.9,1021.2 476.9,832.4 481,785.7Z" fill="#b1d5e7"/>
<path d="M1337,1068.3C1332.9,1115.4 1319.8,1068.5 1312.6,1068.3C1305.4,1068.1 1301.0,1068.1 1294.1,1067.2C1287.2,1066.3 1279.0,1065.0 1271.4,1062.7C1263.9,1060.4 1255.6,1057.0 1248.8,1053.6C1242.0,1050.2 1235.2,1046.4 1230.7,1042.3C1226.2,1038.2 1224.3,1035.5 1221.7,1028.7C1219.1,1021.9 1215.9,1007.0 1214.9,1001.6C1213.9,996.2 1213.7,1002.0 1215.6,996.2C1217.5,990.4 1222.5,975.8 1226.2,966.7C1229.9,957.7 1233.7,950.2 1237.5,941.9C1241.3,933.6 1245.0,925.7 1248.8,917C1252.6,908.3 1256.3,898.5 1260.1,889.8C1263.9,881.1 1267.6,873.6 1271.4,864.9C1275.2,856.2 1279.0,846.5 1282.8,837.8C1286.6,829.1 1290.7,820.1 1294.1,812.9C1297.5,805.7 1300.0,798.9 1303.1,794.8C1306.2,790.6 1306.9,789.5 1312.6,788C1318.2,786.5 1332.9,739.0 1337,785.7C1341.1,832.4 1341.1,1021.2 1337,1068.3Z" fill="#b1d5e7"/>
<path d="M481,885.3C485.1,858.2 499.4,885.3 505.4,887.6C511.4,889.9 513.2,893.2 517.1,898.9C521.0,904.5 524.7,914.0 528.5,921.5C532.3,929.0 536.4,936.6 539.8,944.1C543.2,951.6 545.8,959.9 548.8,966.7C551.8,973.5 555.1,979.3 557.9,984.8C560.7,990.3 564.7,995.6 565.8,999.5C566.9,1003.4 566.0,1003.5 564.7,1008.4C563.4,1013.3 560.5,1023.8 557.9,1028.7C555.2,1033.6 552.6,1035.2 548.8,1037.8C545.0,1040.4 540.1,1042.7 535.2,1044.6C530.3,1046.5 524.4,1048.2 519.4,1049.1C514.4,1050.0 511.8,1050.0 505.4,1050.2C499.0,1050.4 485.1,1077.7 481,1050.2C476.9,1022.7 476.9,912.4 481,885.3Z" fill="#92c5de"/>
<path d="M1337,1050.2C1332.9,1077.7 1319.0,1050.4 1312.6,1050.2C1306.2,1050.0 1303.6,1050.0 1298.6,1049.1C1293.6,1048.2 1287.7,1046.5 1282.8,1044.6C1277.9,1042.7 1273.0,1040.4 1269.2,1037.8C1265.4,1035.2 1262.8,1033.6 1260.1,1028.7C1257.4,1023.8 1254.6,1013.3 1253.3,1008.4C1252.0,1003.5 1251.1,1003.4 1252.2,999.5C1253.3,995.6 1257.3,990.3 1260.1,984.8C1262.9,979.3 1266.2,973.5 1269.2,966.7C1272.2,959.9 1274.8,951.6 1278.2,944.1C1281.6,936.6 1285.7,929.0 1289.5,921.5C1293.3,914.0 1297.1,904.5 1300.9,898.9C1304.8,893.2 1306.6,889.9 1312.6,887.6C1318.6,885.3 1332.9,858.2 1337,885.3C1341.1,912.4 1341.1,1022.7 1337,1050.2Z" fill="#92c5de"/>
<path d="M908.6,659C886.2,659.0 852.9,656.7 841.8,659C830.7,661.3 842.4,668.0 841.8,672.6C841.2,677.2 840.9,682.4 838.2,686.4C835.5,690.4 831.8,692.8 825.5,696.4C819.2,700.0 808.8,703.5 800.4,707.7C792.0,711.9 783.7,717.3 775.3,721.5C766.9,725.7 758.6,729.7 750.2,732.8C741.8,735.9 733.5,738.8 725.1,740.3C716.7,741.8 709.0,742.6 700,741.6C691.0,740.6 678.8,735.7 671,734.2C663.2,732.7 659.1,731.9 653.1,732.8C647.1,733.7 640.5,737.0 634.8,739.4C629.1,741.8 623.3,744.6 619,747.3C614.7,750.0 611.7,751.2 609.2,755.4C606.8,759.5 605.7,766.4 604.3,772.2C602.9,778.0 601.5,784.3 600.9,790.3C600.2,796.3 600.0,801.6 600.4,808.4C600.8,815.1 601.6,822.9 603.1,830.8C604.6,838.7 607.1,847.6 609.2,855.9C611.3,864.2 613.6,873.6 615.6,880.8C617.6,888.0 619.1,892.9 621.2,898.9C623.3,904.9 625.4,911.4 628,917C630.6,922.6 633.7,927.9 637.1,932.8C640.5,937.7 644.3,941.9 648.4,946.4C652.5,950.9 657.0,955.9 661.9,960C666.8,964.1 672.5,967.5 677.8,971.3C683.1,975.1 688.7,979.6 693.6,982.6C698.5,985.6 701.5,987.7 707.2,989.4C712.9,991.1 718.6,992.2 727.6,992.8C736.6,993.4 748.3,993.0 761.5,992.8C774.7,992.6 791.6,991.8 806.7,991.6C821.8,991.4 835.0,991.6 852,991.6C869.0,991.6 889.6,991.6 908.6,991.6C927.6,991.6 948.9,991.6 966,991.6C983.1,991.6 996.2,991.4 1011.3,991.6C1026.4,991.8 1043.3,992.6 1056.5,992.8C1069.7,993.0 1081.4,993.4 1090.4,992.8C1099.5,992.2 1105.1,991.1 1110.8,989.4C1116.5,987.7 1119.5,985.6 1124.4,982.6C1129.3,979.6 1134.9,975.1 1140.2,971.3C1145.5,967.5 1151.2,964.1 1156.1,960C1161.0,955.9 1165.5,950.9 1169.6,946.4C1173.7,941.9 1177.5,937.7 1180.9,932.8C1184.3,927.9 1187.3,922.6 1190,917C1192.7,911.4 1194.7,904.9 1196.8,898.9C1198.9,892.9 1200.4,888.0 1202.4,880.8C1204.4,873.6 1206.7,864.2 1208.8,855.9C1210.9,847.6 1213.4,838.7 1214.9,830.8C1216.4,822.9 1217.2,815.1 1217.6,808.4C1218.0,801.6 1217.8,796.3 1217.1,790.3C1216.4,784.3 1215.1,778.0 1213.7,772.2C1212.3,766.4 1211.2,759.5 1208.8,755.4C1206.3,751.2 1203.3,750.0 1199,747.3C1194.7,744.6 1188.9,741.8 1183.2,739.4C1177.5,737.0 1170.9,733.7 1164.9,732.8C1158.9,731.9 1154.8,732.7 1147,734.2C1139.2,735.7 1127.0,740.6 1118,741.6C1109.0,742.6 1101.3,741.8 1092.9,740.3C1084.5,738.8 1076.2,735.9 1067.8,732.8C1059.4,729.7 1051.1,725.7 1042.7,721.5C1034.3,717.3 1026.0,711.9 1017.6,707.7C1009.2,703.5 998.8,700.0 992.5,696.4C986.2,692.8 982.5,690.4 979.8,686.4C977.1,682.4 976.8,677.2 976.2,672.6C975.6,668.0 987.5,661.3 976.2,659C964.9,656.7 931.0,659.0 908.6,659Z" fill="#fbeae1"/>
<path d="M908.6,659C891.6,659.0 866.5,656.7 858.1,659C849.7,661.3 858.3,667.0 858.1,672.6C857.9,678.2 858.2,686.3 857,692.8C855.8,699.3 853.7,706.1 850.6,711.5C847.5,716.9 844.5,721.8 838.2,725.3C832.0,728.8 821.5,729.4 813.1,732.8C804.7,736.2 796.1,741.3 787.7,745.5C779.3,749.7 771.0,754.2 762.6,757.9C754.2,761.6 745.9,765.2 737.5,767.9C729.1,770.6 719.7,773.5 712.4,774.2C705.1,774.9 699.3,773.2 693.6,772.2C687.9,771.2 683.9,768.8 678.2,767.9C672.5,767.0 664.7,765.7 659.5,766.7C654.3,767.8 650.5,769.8 647,774.2C643.5,778.6 640.7,786.7 638.2,793C635.7,799.3 632.7,805.7 631.9,812C631.1,818.3 632.6,823.5 633.2,830.8C633.8,838.1 634.5,846.5 635.7,855.9C637.0,865.3 639.0,878.8 640.7,887.1C642.4,895.4 644.1,900.0 646.1,905.7C648.1,911.4 650.3,916.2 652.9,921.5C655.5,926.8 658.1,932.4 661.9,937.3C665.7,942.2 671.0,946.8 675.5,950.9C680.0,955.0 684.2,959.0 689.1,962.2C694.0,965.5 698.5,968.5 704.9,970.4C711.3,972.3 720.0,973.7 727.6,973.5C735.2,973.3 742.7,970.8 750.2,969C757.7,967.2 765.3,965.0 772.8,962.7C780.3,960.4 789.0,957.5 795.4,955.4C801.8,953.3 806.4,950.1 811.3,950.2C816.2,950.3 819.9,953.7 824.8,955.9C829.7,958.1 834.3,961.3 840.7,963.3C847.1,965.3 855.8,966.9 863.3,967.9C870.8,968.9 878.3,969.1 885.9,969.5C893.5,969.9 900.9,970.1 908.6,970.1C916.3,970.1 924.4,969.9 932.1,969.5C939.8,969.1 947.2,968.9 954.7,967.9C962.2,966.9 970.9,965.3 977.3,963.3C983.7,961.3 988.3,958.1 993.2,955.9C998.1,953.7 1001.8,950.3 1006.7,950.2C1011.6,950.1 1016.2,953.3 1022.6,955.4C1029.0,957.5 1037.7,960.4 1045.2,962.7C1052.7,965.0 1060.3,967.2 1067.8,969C1075.3,970.8 1082.9,973.3 1090.4,973.5C1098.0,973.7 1106.7,972.3 1113.1,970.4C1119.5,968.5 1124.0,965.5 1128.9,962.2C1133.8,959.0 1138.0,955.0 1142.5,950.9C1147.0,946.8 1152.3,942.2 1156.1,937.3C1159.9,932.4 1162.5,926.8 1165.1,921.5C1167.7,916.2 1169.9,911.4 1171.9,905.7C1173.9,900.0 1175.6,895.4 1177.3,887.1C1179.0,878.8 1181.0,865.3 1182.3,855.9C1183.5,846.5 1184.2,838.1 1184.8,830.8C1185.4,823.5 1186.9,818.3 1186.1,812C1185.3,805.7 1182.3,799.3 1179.8,793C1177.3,786.7 1174.5,778.6 1171,774.2C1167.5,769.8 1163.7,767.8 1158.5,766.7C1153.3,765.7 1145.5,767.0 1139.8,767.9C1134.1,768.8 1130.1,771.2 1124.4,772.2C1118.7,773.2 1112.9,774.9 1105.6,774.2C1098.3,773.5 1088.9,770.6 1080.5,767.9C1072.1,765.2 1063.8,761.6 1055.4,757.9C1047.0,754.2 1038.7,749.7 1030.3,745.5C1021.9,741.3 1013.3,736.2 1004.9,732.8C996.5,729.4 986.0,728.8 979.8,725.3C973.5,721.8 970.5,716.9 967.4,711.5C964.3,706.1 962.2,699.3 961,692.8C959.8,686.3 960.1,678.2 959.9,672.6C959.7,667.0 968.4,661.3 959.9,659C951.4,656.7 925.6,659.0 908.6,659Z" fill="#fddbc7"/>
<path d="M825.5,756.8C829.7,756.8 834.6,756.6 838.2,757.9C841.8,759.1 844.7,761.6 847,764.3C849.3,767.0 850.8,769.8 852,774.2C853.2,778.6 854.1,785.5 854.5,790.7C854.9,796.0 855.1,801.1 854.5,805.7C853.9,810.3 852.3,814.1 850.6,818.3C848.9,822.5 846.8,825.6 844.3,830.8C841.8,836.0 838.8,843.2 835.7,849.5C832.6,855.8 828.2,862.3 825.5,868.6C822.8,874.9 821.6,882.8 819.2,887.1C816.8,891.4 814.1,891.2 811.3,894.3C808.5,897.4 805.6,901.6 802.2,905.7C798.8,909.9 795.0,914.7 790.9,919.2C786.8,923.7 782.2,929.0 777.3,932.8C772.4,936.6 766.8,939.4 761.5,941.9C756.2,944.4 751.4,946.2 745.7,947.5C740.1,948.8 733.6,950.0 727.6,949.8C721.6,949.6 714.4,948.5 709.5,946.4C704.6,944.3 701.5,940.7 698.1,937.3C694.7,933.9 692.1,930.1 689.1,926C686.1,921.9 682.6,916.9 680,912.4C677.4,907.9 675.2,903.8 673.3,898.9C671.4,894.0 669.8,888.7 668.7,883C667.6,877.3 666.1,870.9 666.5,864.9C666.9,858.9 669.5,852.1 671,846.8C672.5,841.5 673.6,837.4 675.5,833.3C677.4,829.1 680.0,824.9 682.3,821.9C684.6,818.9 686.1,817.1 689.1,815.2C692.1,813.3 696.1,811.8 700,810.6C703.9,809.4 708.2,809.6 712.4,808.1C716.6,806.6 720.9,803.7 725.1,801.8C729.3,799.9 733.3,798.4 737.5,796.8C741.7,795.1 746.0,793.8 750.2,791.9C754.4,790.0 758.4,787.8 762.6,785.5C766.8,783.2 771.1,780.8 775.3,778.1C779.5,775.4 783.5,771.7 787.7,769.2C791.9,766.7 796.2,764.8 800.4,762.9C804.6,761.0 808.9,758.9 813.1,757.9C817.3,756.9 821.3,756.8 825.5,756.8Z" fill="#f8c0a4"/>
<path d="M1004.9,757.9C1009.1,758.9 1013.4,761.0 1017.6,762.9C1021.8,764.8 1026.1,766.7 1030.3,769.2C1034.5,771.7 1038.5,775.4 1042.7,778.1C1046.9,780.8 1051.2,783.2 1055.4,785.5C1059.6,787.8 1063.6,790.0 1067.8,791.9C1072.0,793.8 1076.3,795.1 1080.5,796.8C1084.7,798.4 1088.7,799.9 1092.9,801.8C1097.1,803.7 1101.4,806.6 1105.6,808.1C1109.8,809.6 1114.1,809.4 1118,810.6C1121.9,811.8 1126.0,813.3 1128.9,815.2C1131.9,817.1 1133.4,818.9 1135.7,821.9C1138.0,824.9 1140.6,829.1 1142.5,833.3C1144.4,837.4 1145.5,841.5 1147,846.8C1148.5,852.1 1151.1,858.9 1151.5,864.9C1151.9,870.9 1150.4,877.3 1149.3,883C1148.2,888.7 1146.6,894.0 1144.7,898.9C1142.8,903.8 1140.6,907.9 1138,912.4C1135.4,916.9 1131.9,921.9 1128.9,926C1125.9,930.1 1123.3,933.9 1119.9,937.3C1116.5,940.7 1113.4,944.3 1108.5,946.4C1103.6,948.5 1096.4,949.6 1090.4,949.8C1084.4,950.0 1078.0,948.8 1072.3,947.5C1066.6,946.2 1061.8,944.4 1056.5,941.9C1051.2,939.4 1045.6,936.6 1040.7,932.8C1035.8,929.0 1031.2,923.7 1027.1,919.2C1022.9,914.7 1019.2,909.9 1015.8,905.7C1012.4,901.6 1009.5,897.4 1006.7,894.3C1003.9,891.2 1001.2,891.4 998.8,887.1C996.4,882.8 995.2,874.9 992.5,868.6C989.8,862.3 985.4,855.8 982.3,849.5C979.2,843.2 976.2,836.0 973.7,830.8C971.2,825.6 969.1,822.5 967.4,818.3C965.7,814.1 964.1,810.3 963.5,805.7C962.9,801.1 963.1,796.0 963.5,790.7C963.9,785.5 964.8,778.6 966,774.2C967.2,769.8 968.7,767.0 971,764.3C973.3,761.6 976.2,759.1 979.8,757.9C983.4,756.6 988.3,756.8 992.5,756.8C996.7,756.8 1000.7,756.9 1004.9,757.9Z" fill="#f8c0a4"/>
<path d="M819.2,786.9C823.4,786.9 828.7,787.0 831.9,788C835.1,789.0 836.3,790.5 838.2,793C840.1,795.5 843.2,800.0 843.2,803.2C843.2,806.4 839.9,808.9 838.2,812C836.5,815.1 834.7,818.8 833,821.9C831.3,825.0 830.1,827.2 828,830.8C825.9,834.4 823.0,839.2 820.5,843.4C818.0,847.6 815.4,851.7 813.1,855.9C810.8,860.1 809.0,864.1 806.7,868.6C804.4,873.1 802.3,878.7 799.3,883C796.3,887.3 792.6,890.7 788.6,894.3C784.6,897.9 780.0,901.3 775.1,904.5C770.2,907.7 764.5,911.1 759.2,913.6C753.9,916.1 748.7,918.3 743.4,919.2C738.1,920.1 732.5,920.3 727.6,919.2C722.7,918.1 717.8,915.8 714,912.4C710.2,909.0 707.2,903.8 704.9,898.9C702.6,894.0 701.7,888.1 700.4,883C699.1,877.9 697.1,872.4 697,868.3C696.9,864.2 697.4,861.3 700,858.4C702.6,855.5 708.2,853.0 712.4,850.9C716.6,848.8 720.9,847.8 725.1,845.9C729.3,844.0 733.7,841.7 737.5,839.6C741.3,837.5 744.5,835.6 747.7,833.3C750.9,831.0 754.0,828.3 756.5,825.8C759.0,823.3 761.1,821.0 762.6,818.3C764.1,815.6 764.0,812.0 765.3,809.5C766.6,807.0 767.6,805.3 770.3,803.2C773.0,801.1 777.6,798.7 781.6,796.8C785.6,794.9 789.9,793.4 794.1,791.9C798.3,790.4 802.5,788.8 806.7,788C810.9,787.2 815.0,786.9 819.2,786.9Z" fill="#f4a582"/>
<path d="M1011.3,788C1015.5,788.8 1019.7,790.4 1023.9,791.9C1028.1,793.4 1032.4,794.9 1036.4,796.8C1040.4,798.7 1045.0,801.1 1047.7,803.2C1050.4,805.3 1051.4,807.0 1052.7,809.5C1054.0,812.0 1053.9,815.6 1055.4,818.3C1056.9,821.0 1059.0,823.3 1061.5,825.8C1064.0,828.3 1067.1,831.0 1070.3,833.3C1073.5,835.6 1076.7,837.5 1080.5,839.6C1084.3,841.7 1088.7,844.0 1092.9,845.9C1097.1,847.8 1101.4,848.8 1105.6,850.9C1109.8,853.0 1115.4,855.5 1118,858.4C1120.6,861.3 1121.1,864.2 1121,868.3C1120.9,872.4 1118.9,877.9 1117.6,883C1116.3,888.1 1115.4,894.0 1113.1,898.9C1110.8,903.8 1107.8,909.0 1104,912.4C1100.2,915.8 1095.3,918.1 1090.4,919.2C1085.5,920.3 1079.9,920.1 1074.6,919.2C1069.3,918.3 1064.1,916.1 1058.8,913.6C1053.5,911.1 1047.8,907.7 1042.9,904.5C1038.0,901.3 1033.4,897.9 1029.4,894.3C1025.4,890.7 1021.7,887.3 1018.7,883C1015.7,878.7 1013.6,873.1 1011.3,868.6C1009.0,864.1 1007.2,860.1 1004.9,855.9C1002.6,851.7 1000.0,847.6 997.5,843.4C995.0,839.2 992.1,834.4 990,830.8C987.9,827.2 986.7,825.0 985,821.9C983.3,818.8 981.5,815.1 979.8,812C978.1,808.9 974.8,806.4 974.8,803.2C974.8,800.0 977.9,795.5 979.8,793C981.7,790.5 982.9,789.0 986.1,788C989.3,787.0 994.6,786.9 998.8,786.9C1003.0,786.9 1007.1,787.2 1011.3,788Z" fill="#f4a582"/>
<path d="M908.6,659C897.5,659.0 881.2,656.7 875.7,659C870.2,661.3 875.5,667.0 875.7,672.6C875.9,678.2 876.5,686.3 877.1,692.8C877.8,699.3 878.6,705.7 879.6,711.5C880.6,717.3 882.1,723.4 883.4,727.8C884.6,732.2 885.7,735.7 887.1,737.8C888.5,739.9 888.0,740.0 891.6,740.5C895.2,741.0 902.8,741.0 908.6,741C914.4,741.0 922.7,741.0 926.4,740.5C930.1,740.0 929.5,739.9 930.9,737.8C932.3,735.7 933.4,732.2 934.6,727.8C935.9,723.4 937.4,717.3 938.4,711.5C939.4,705.7 940.2,699.3 940.9,692.8C941.5,686.3 942.1,678.2 942.3,672.6C942.5,667.0 947.9,661.3 942.3,659C936.7,656.7 919.7,659.0 908.6,659Z" fill="#f8c0a4"/>
<path d="M908.6,659C903.9,659.0 897.1,656.7 895,659C892.9,661.3 894.9,669.1 895.9,672.6C896.9,676.1 899.2,677.6 900.9,680.1C902.5,682.6 904.5,686.0 905.8,687.6C907.1,689.2 907.5,689.8 908.6,689.8C909.7,689.8 910.8,689.2 912.2,687.6C913.6,686.0 915.5,682.6 917.1,680.1C918.8,677.6 921.1,676.1 922.1,672.6C923.1,669.1 925.2,661.3 923,659C920.8,656.7 913.3,659.0 908.6,659Z" fill="#f4a582"/>
<path d="M908.6,770.6C903.9,770.6 899.4,771.2 895,772.6C890.6,774.0 885.9,776.4 882.5,779C879.1,781.6 876.9,783.9 874.6,788C872.4,792.1 870.7,797.4 869,803.8C867.3,810.2 866.0,819.0 864.4,826.5C862.8,834.0 861.3,841.9 859.2,849.1C857.1,856.3 854.7,863.5 852,869.5C849.3,875.5 845.9,880.4 842.9,885.3C839.9,890.2 836.3,894.4 833.9,898.9C831.5,903.4 828.6,908.2 828.2,912.4C827.8,916.5 829.5,920.8 831.6,923.8C833.7,926.8 837.3,929.6 840.7,930.5C844.1,931.4 848.2,930.5 852,929.4C855.8,928.3 859.9,926.2 863.3,923.8C866.7,921.3 869.6,917.7 872.4,914.7C875.2,911.7 876.9,908.0 880.3,905.7C883.7,903.4 888.0,902.1 892.7,901.1C897.4,900.1 903.2,900.0 908.6,900C914.0,900.0 920.4,900.1 925.3,901.1C930.1,902.1 934.3,903.4 937.7,905.7C941.1,908.0 942.8,911.7 945.6,914.7C948.4,917.7 951.3,921.3 954.7,923.8C958.1,926.2 962.2,928.3 966,929.4C969.8,930.5 973.9,931.4 977.3,930.5C980.7,929.6 984.3,926.8 986.4,923.8C988.5,920.8 990.2,916.5 989.8,912.4C989.4,908.2 986.5,903.4 984.1,898.9C981.7,894.4 978.1,890.2 975.1,885.3C972.1,880.4 968.7,875.5 966,869.5C963.3,863.5 960.9,856.3 958.8,849.1C956.7,841.9 955.2,834.0 953.6,826.5C952.0,819.0 950.7,810.2 949,803.8C947.3,797.4 945.6,792.1 943.4,788C941.1,783.9 938.9,781.6 935.5,779C932.1,776.4 927.5,774.0 923,772.6C918.5,771.2 913.3,770.6 908.6,770.6Z" fill="#fbeae1"/>
<path d="M908.6,788.7C904.7,788.7 900.5,789.6 897.2,791.4C893.9,793.2 890.8,795.7 888.6,799.3C886.4,802.9 885.6,807.6 884.1,812.9C882.6,818.2 881.2,825.0 879.6,831C878.0,837.0 876.2,843.5 874.6,849.1C873.0,854.8 870.5,860.4 870.1,864.9C869.7,869.4 870.9,873.6 872.4,876.2C873.9,878.9 875.7,879.8 879.1,880.8C882.5,881.8 887.8,882.1 892.7,882.4C897.6,882.7 903.2,882.4 908.6,882.4C914.0,882.4 920.2,882.7 925.3,882.4C930.3,882.1 935.5,881.8 938.9,880.8C942.3,879.8 944.1,878.9 945.6,876.2C947.1,873.6 948.3,869.4 947.9,864.9C947.5,860.4 945.0,854.8 943.4,849.1C941.8,843.5 940.0,837.0 938.4,831C936.8,825.0 935.4,818.2 933.9,812.9C932.4,807.6 931.6,802.9 929.4,799.3C927.2,795.7 924.3,793.2 920.8,791.4C917.3,789.6 912.5,788.7 908.6,788.7Z" fill="#f7f7f7"/>
<path d="M908.6,802C906.6,802.0 905.0,808.1 902.9,812.9C900.8,817.7 898.4,825.0 896.1,831C893.8,837.0 891.2,843.8 889.3,849.1C887.4,854.4 885.3,859.3 884.8,862.7C884.3,866.1 884.3,867.8 886.4,869.5C888.5,871.2 893.5,872.3 897.2,872.9C900.9,873.5 904.7,873.3 908.6,873.3C912.5,873.3 917.0,873.5 920.8,872.9C924.6,872.3 929.5,871.2 931.6,869.5C933.7,867.8 933.7,866.1 933.2,862.7C932.7,859.3 930.6,854.4 928.7,849.1C926.8,843.8 924.2,837.0 921.9,831C919.6,825.0 917.3,817.7 915.1,812.9C912.9,808.1 910.6,802.0 908.6,802Z" fill="#e4eef3"/>
</g></g>
<g filter="url(#tsoft)">
<rect x="505.5" y="670.5" width="807.5" height="563" fill="none" stroke="#6b6b6b" stroke-width="3.6"/>
<path d="M503.7,1233.5 H1314.8" stroke="#3c3c3c" stroke-width="3.6" fill="none"/>
<path d="M682.8,1233.5 v-7 M682.8,670.5 v7 M908.6,1233.5 v-7 M908.6,670.5 v7 M1134.4,1233.5 v-7 M1134.4,670.5 v7 M505.5,782.4 h7 M1313,782.4 h-7 M505.5,867.2 h7 M1313,867.2 h-7 M505.5,950.4 h7 M1313,950.4 h-7 M505.5,1064.3 h7 M1313,1064.3 h-7 M505.5,1149.8 h7 M1313,1149.8 h-7" stroke="#444" stroke-width="3.2" fill="none"/>
<text x="706.1" y="1289" text-anchor="end" class="tk">−50</text>
<text x="908.9" y="1289" text-anchor="middle" class="tk">0</text>
<text x="1133.8" y="1289" text-anchor="middle" class="tk">50</text>
<text x="494.8" y="797.4" text-anchor="end" class="tk">25</text>
<text x="494.8" y="882.2" text-anchor="end" class="tk">50</text>
<text x="494.8" y="965.4" text-anchor="end" class="tk">100</text>
<text x="494.8" y="1079.3" text-anchor="end" class="tk">250</text>
<text x="494.8" y="1164.8" text-anchor="end" class="tk">500</text>
<text x="494.8" y="1248.5" text-anchor="end" class="tk">1000</text>
<text transform="translate(376.5,953.1) rotate(-90)" text-anchor="middle" class="axp">Pressure (hPa)</text>
<text x="553.7" y="1196.2" class="pl">(b)</text>
</g>
</g>
<g id="panel-c">
<clipPath id="cpc"><rect x="513" y="1319.5" width="808" height="563.5"/></clipPath>
<g clip-path="url(#cpc)"><g filter="url(#soft)">
<rect x="493" y="1299.5" width="848" height="603.5" fill="#f7f7f7"/>
<path d="M916.9,1309C865.8,1309.0 789.3,1307.1 763.8,1309C738.3,1310.9 766.1,1315.1 763.8,1320.4C761.5,1325.7 754.7,1333.6 750.2,1340.7C745.7,1347.8 741.1,1356.1 736.6,1363.3C732.1,1370.5 727.1,1377.3 723,1383.7C718.9,1390.1 714.7,1395.0 711.7,1401.8C708.7,1408.6 707.2,1415.7 704.9,1424.4C702.6,1433.1 699.8,1444.4 698.1,1453.8C696.4,1463.2 695.5,1470.8 694.8,1481C694.0,1491.2 693.4,1505.5 693.6,1514.9C693.8,1524.3 694.8,1530.0 695.9,1537.6C697.0,1545.1 698.5,1553.4 700.4,1560.2C702.3,1567.0 704.6,1573.0 707.2,1578.3C709.8,1583.6 713.2,1587.8 716.2,1591.9C719.2,1596.1 723.0,1598.3 725.3,1603.2C727.6,1608.1 728.3,1615.7 729.8,1621.3C731.3,1626.9 732.8,1632.9 734.3,1637.1C735.8,1641.2 736.6,1645.8 738.9,1646.2C741.2,1646.6 744.1,1642.4 747.9,1639.4C751.7,1636.4 756.6,1631.5 761.5,1628.1C766.4,1624.7 771.6,1621.5 777.3,1619C782.9,1616.5 788.6,1614.6 795.4,1613.3C802.2,1612.0 808.7,1611.6 818.1,1611.1C827.5,1610.5 840.7,1610.4 852,1610C863.3,1609.6 875.1,1609.2 885.9,1608.8C896.7,1608.4 906.5,1607.7 916.9,1607.7C927.3,1607.7 937.2,1608.4 948.1,1608.8C959.0,1609.2 970.7,1609.6 982,1610C993.3,1610.4 1006.5,1610.5 1015.9,1611.1C1025.3,1611.6 1031.8,1612.0 1038.6,1613.3C1045.4,1614.6 1051.0,1616.5 1056.7,1619C1062.4,1621.5 1067.6,1624.7 1072.5,1628.1C1077.4,1631.5 1082.3,1636.4 1086.1,1639.4C1089.9,1642.4 1092.8,1646.6 1095.1,1646.2C1097.4,1645.8 1098.2,1641.2 1099.7,1637.1C1101.2,1632.9 1102.7,1626.9 1104.2,1621.3C1105.7,1615.7 1106.4,1608.1 1108.7,1603.2C1111.0,1598.3 1114.8,1596.1 1117.8,1591.9C1120.8,1587.8 1124.2,1583.6 1126.8,1578.3C1129.4,1573.0 1131.7,1567.0 1133.6,1560.2C1135.5,1553.4 1137.0,1545.1 1138.1,1537.6C1139.2,1530.0 1140.2,1524.3 1140.4,1514.9C1140.6,1505.5 1140.0,1491.2 1139.2,1481C1138.5,1470.8 1137.6,1463.2 1135.9,1453.8C1134.2,1444.4 1131.4,1433.1 1129.1,1424.4C1126.8,1415.7 1125.3,1408.6 1122.3,1401.8C1119.3,1395.0 1115.2,1390.1 1111,1383.7C1106.8,1377.3 1101.9,1370.5 1097.4,1363.3C1092.9,1356.1 1088.3,1347.8 1083.8,1340.7C1079.3,1333.6 1072.5,1325.7 1070.2,1320.4C1067.9,1315.1 1095.8,1310.9 1070.2,1309C1044.7,1307.1 968.0,1309.0 916.9,1309Z" fill="#fddbc7"/>
<path d="M916.9,1337.3C911.8,1337.3 907.3,1337.4 901.8,1338C896.3,1338.6 889.7,1338.9 883.7,1340.7C877.7,1342.5 871.6,1345.6 865.6,1348.6C859.6,1351.6 853.5,1355.6 847.5,1358.8C841.5,1362.0 836.2,1364.1 829.4,1367.9C822.6,1371.7 814.2,1376.9 806.7,1381.4C799.2,1385.9 790.1,1390.8 784.1,1395C778.1,1399.2 774.3,1401.4 770.5,1406.3C766.7,1411.2 764.9,1417.6 761.5,1424.4C758.1,1431.2 753.2,1439.5 750.2,1447.1C747.2,1454.6 745.3,1462.2 743.4,1469.7C741.5,1477.2 740.0,1485.1 738.9,1492.3C737.8,1499.5 736.2,1506.7 736.6,1512.7C737.0,1518.7 738.8,1523.2 741.1,1528.5C743.4,1533.8 746.8,1539.4 750.2,1544.3C753.6,1549.2 757.4,1553.8 761.5,1557.9C765.6,1562.1 769.8,1566.4 775.1,1569.2C780.4,1572.0 786.0,1573.2 793.2,1574.9C800.4,1576.6 809.1,1578.7 818.1,1579.4C827.1,1580.2 838.1,1579.6 847.5,1579.4C856.9,1579.2 866.3,1579.0 874.6,1578.3C882.9,1577.5 890.2,1575.7 897.2,1574.9C904.2,1574.2 910.3,1573.8 916.9,1573.8C923.5,1573.8 929.7,1574.2 936.8,1574.9C943.9,1575.7 951.1,1577.5 959.4,1578.3C967.7,1579.0 977.1,1579.2 986.5,1579.4C995.9,1579.6 1006.9,1580.2 1015.9,1579.4C1025.0,1578.7 1033.6,1576.6 1040.8,1574.9C1048.0,1573.2 1053.6,1572.0 1058.9,1569.2C1064.2,1566.4 1068.3,1562.1 1072.5,1557.9C1076.7,1553.8 1080.4,1549.2 1083.8,1544.3C1087.2,1539.4 1090.6,1533.8 1092.9,1528.5C1095.2,1523.2 1097.0,1518.7 1097.4,1512.7C1097.8,1506.7 1096.2,1499.5 1095.1,1492.3C1094.0,1485.1 1092.5,1477.2 1090.6,1469.7C1088.7,1462.2 1086.8,1454.6 1083.8,1447.1C1080.8,1439.5 1075.9,1431.2 1072.5,1424.4C1069.1,1417.6 1067.3,1411.2 1063.5,1406.3C1059.7,1401.4 1055.9,1399.2 1049.9,1395C1043.9,1390.8 1034.8,1385.9 1027.3,1381.4C1019.8,1376.9 1011.4,1371.7 1004.6,1367.9C997.8,1364.1 992.5,1362.0 986.5,1358.8C980.5,1355.6 974.4,1351.6 968.4,1348.6C962.4,1345.6 956.3,1342.5 950.3,1340.7C944.3,1338.9 937.8,1338.6 932.2,1338C926.6,1337.4 922.0,1337.3 916.9,1337.3Z" fill="#f4a582"/>
<path d="M916.9,1360C912.6,1360.0 908.4,1359.7 904,1360.6C899.6,1361.5 895.4,1363.2 890.5,1365.6C885.6,1367.9 880.3,1371.7 874.6,1374.7C868.9,1377.7 862.1,1380.3 856.5,1383.7C850.9,1387.1 846.0,1390.8 840.7,1395C835.4,1399.2 830.5,1403.3 824.8,1408.6C819.1,1413.9 812.4,1420.7 806.7,1426.7C801.1,1432.7 794.9,1440.3 790.9,1444.8C786.9,1449.3 784.7,1447.8 783,1453.8C781.3,1459.8 781.5,1472.7 780.7,1481C780.0,1489.3 779.2,1497.9 778.5,1503.6C777.8,1509.2 775.3,1511.1 776.2,1514.9C777.1,1518.7 781.3,1522.4 784.1,1526.2C786.9,1530.0 789.4,1534.6 793.2,1537.6C797.0,1540.6 801.4,1542.6 806.7,1544.3C812.0,1546.0 818.0,1547.1 824.8,1547.7C831.6,1548.3 840.0,1548.6 847.5,1547.7C855.0,1546.8 863.3,1544.2 870.1,1542.1C876.9,1540.0 882.9,1537.8 888.2,1535.3C893.5,1532.8 898.4,1529.2 901.8,1527.4C905.2,1525.6 906.1,1525.0 908.6,1524.4C911.1,1523.8 914.1,1524.0 916.9,1524C919.7,1524.0 922.8,1523.8 925.4,1524.4C928.0,1525.0 928.8,1525.6 932.2,1527.4C935.6,1529.2 940.5,1532.8 945.8,1535.3C951.1,1537.8 957.1,1540.0 963.9,1542.1C970.7,1544.2 979.0,1546.8 986.5,1547.7C994.0,1548.6 1002.4,1548.3 1009.2,1547.7C1016.0,1547.1 1022.0,1546.0 1027.3,1544.3C1032.6,1542.6 1037.0,1540.6 1040.8,1537.6C1044.6,1534.6 1047.1,1530.0 1049.9,1526.2C1052.7,1522.4 1056.9,1518.7 1057.8,1514.9C1058.7,1511.1 1056.2,1509.2 1055.5,1503.6C1054.8,1497.9 1054.0,1489.3 1053.3,1481C1052.5,1472.7 1052.7,1459.8 1051,1453.8C1049.3,1447.8 1047.0,1449.3 1043.1,1444.8C1039.1,1440.3 1032.9,1432.7 1027.3,1426.7C1021.6,1420.7 1014.9,1413.9 1009.2,1408.6C1003.5,1403.3 998.6,1399.2 993.3,1395C988.0,1390.8 983.1,1387.1 977.5,1383.7C971.9,1380.3 965.1,1377.7 959.4,1374.7C953.7,1371.7 948.4,1367.9 943.5,1365.6C938.6,1363.2 934.4,1361.5 930,1360.6C925.6,1359.7 921.2,1360.0 916.9,1360Z" fill="#d6604d"/>
<path d="M916.9,1379.2C912.6,1379.2 908.0,1378.8 904,1379.6C900.0,1380.3 896.9,1381.5 892.7,1383.7C888.6,1385.9 884.0,1389.4 879.1,1392.8C874.2,1396.2 868.6,1399.6 863.3,1404.1C858.0,1408.6 852.8,1414.2 847.5,1419.9C842.2,1425.6 836.9,1432.3 831.6,1438C826.3,1443.7 818.0,1448.5 815.8,1453.8C813.5,1459.1 817.0,1464.0 818.1,1469.7C819.2,1475.4 821.1,1482.2 822.6,1487.8C824.1,1493.4 825.6,1500.4 827.1,1503.6C828.6,1506.8 827.5,1506.5 831.6,1507C835.8,1507.5 844.8,1507.0 852,1506.3C859.2,1505.5 867.1,1503.9 874.6,1502.5C882.1,1501.1 890.2,1499.0 897.2,1498C904.2,1497.0 910.3,1496.4 916.9,1496.4C923.5,1496.4 929.7,1497.0 936.8,1498C943.9,1499.0 951.9,1501.1 959.4,1502.5C966.9,1503.9 974.8,1505.5 982,1506.3C989.2,1507.0 998.2,1507.5 1002.4,1507C1006.5,1506.5 1005.4,1506.8 1006.9,1503.6C1008.4,1500.4 1009.9,1493.4 1011.4,1487.8C1012.9,1482.2 1014.8,1475.4 1015.9,1469.7C1017.0,1464.0 1020.5,1459.1 1018.2,1453.8C1016.0,1448.5 1007.7,1443.7 1002.4,1438C997.1,1432.3 991.8,1425.6 986.5,1419.9C981.2,1414.2 976.0,1408.6 970.7,1404.1C965.4,1399.6 959.8,1396.2 954.9,1392.8C950.0,1389.4 945.4,1385.9 941.3,1383.7C937.1,1381.5 934.1,1380.3 930,1379.6C925.9,1378.8 921.2,1379.2 916.9,1379.2Z" fill="#b2182b"/>
<path d="M916.9,1395C913.3,1395.0 910.3,1395.5 906.3,1396.2C902.3,1397.0 896.5,1397.8 892.7,1399.5C888.9,1401.2 886.7,1402.9 883.7,1406.3C880.7,1409.7 878.0,1415.4 874.6,1419.9C871.2,1424.4 867.1,1429.3 863.3,1433.5C859.5,1437.7 855.0,1441.4 852,1444.8C849.0,1448.2 845.2,1450.4 845.2,1453.8C845.2,1457.2 849.4,1462.0 852,1465.2C854.6,1468.4 856.5,1470.8 861,1473.1C865.5,1475.3 873.1,1477.4 879.1,1478.7C885.1,1480.0 890.9,1480.6 897.2,1481C903.5,1481.4 910.3,1481.0 916.9,1481C923.5,1481.0 930.5,1481.4 936.8,1481C943.1,1480.6 948.9,1480.0 954.9,1478.7C960.9,1477.4 968.5,1475.3 973,1473.1C977.5,1470.8 979.4,1468.4 982,1465.2C984.6,1462.0 988.8,1457.2 988.8,1453.8C988.8,1450.4 985.0,1448.2 982,1444.8C979.0,1441.4 974.5,1437.7 970.7,1433.5C966.9,1429.3 962.8,1424.4 959.4,1419.9C956.0,1415.4 953.3,1409.7 950.3,1406.3C947.3,1402.9 945.1,1401.2 941.3,1399.5C937.5,1397.8 931.8,1397.0 927.7,1396.2C923.6,1395.5 920.5,1395.0 916.9,1395Z" fill="#67001f"/>
<path d="M589.5,1309C580.1,1310.9 590.7,1315.5 591.8,1320.4C592.9,1325.3 594.8,1332.5 596.3,1338.5C597.8,1344.5 599.0,1351.3 600.9,1356.6C602.8,1361.9 605.4,1366.9 607.6,1370.1C609.9,1373.3 612.1,1375.2 614.4,1375.8C616.7,1376.4 618.9,1375.6 621.2,1373.5C623.5,1371.4 625.7,1367.2 628,1363.3C630.3,1359.3 632.5,1354.3 634.8,1349.8C637.1,1345.3 639.5,1340.7 641.6,1336.2C643.7,1331.7 646.1,1327.1 647.2,1322.6C648.3,1318.1 658.0,1311.3 648.4,1309C638.8,1306.7 598.9,1307.1 589.5,1309Z" fill="#d1e5f0"/>
<path d="M1185.6,1309C1176.0,1311.3 1185.7,1318.1 1186.8,1322.6C1187.9,1327.1 1190.3,1331.7 1192.4,1336.2C1194.5,1340.7 1196.9,1345.3 1199.2,1349.8C1201.5,1354.3 1203.7,1359.3 1206,1363.3C1208.3,1367.2 1210.5,1371.4 1212.8,1373.5C1215.1,1375.6 1217.3,1376.4 1219.6,1375.8C1221.9,1375.2 1224.2,1373.3 1226.4,1370.1C1228.7,1366.9 1231.2,1361.9 1233.1,1356.6C1235.0,1351.3 1236.2,1344.5 1237.7,1338.5C1239.2,1332.5 1241.1,1325.3 1242.2,1320.4C1243.3,1315.5 1253.9,1310.9 1244.5,1309C1235.1,1307.1 1195.2,1306.7 1185.6,1309Z" fill="#d1e5f0"/>
<path d="M481,1408.6C486.4,1348.1 505.2,1409.0 513.1,1408.6C521.0,1408.2 522.9,1405.5 528.5,1406.3C534.1,1407.0 540.6,1410.1 546.6,1413.1C552.6,1416.1 559.1,1420.2 564.7,1424.4C570.4,1428.6 575.6,1432.7 580.5,1438C585.4,1443.3 590.0,1449.7 594.1,1456.1C598.2,1462.5 602.4,1469.7 605.4,1476.5C608.4,1483.3 610.3,1490.0 612.2,1496.8C614.1,1503.6 615.6,1510.0 616.7,1517.2C617.8,1524.4 618.2,1532.6 619,1539.8C619.8,1547.0 620.3,1553.0 621.2,1560.2C622.1,1567.4 623.7,1575.3 624.6,1582.8C625.5,1590.3 626.7,1597.9 626.9,1605.4C627.1,1613.0 626.3,1620.9 625.7,1628.1C625.1,1635.3 624.4,1642.0 623.5,1648.4C622.6,1654.8 621.6,1661.2 620.1,1666.5C618.6,1671.8 615.5,1677.1 614.4,1680.1C613.3,1683.1 612.5,1681.2 613.3,1684.4C614.1,1687.6 616.9,1694.4 619,1699.1C621.1,1703.8 622.7,1708.5 625.7,1712.7C628.7,1716.9 633.0,1720.6 637.1,1724C641.2,1727.4 648.0,1728.8 650.6,1733C653.2,1737.2 652.0,1742.5 652.9,1748.9C653.8,1755.3 656.1,1764.0 656.3,1771.5C656.5,1779.0 654.8,1786.6 654,1794.1C653.2,1801.6 653.1,1809.9 651.8,1816.7C650.5,1823.5 648.5,1829.5 646.1,1834.8C643.7,1840.1 640.5,1844.4 637.1,1848.4C633.7,1852.4 629.9,1856.3 625.7,1858.6C621.6,1860.9 616.0,1860.7 612.2,1862C608.4,1863.3 606.5,1865.4 603.1,1866.5C599.7,1867.6 595.6,1869.2 591.8,1868.8C588.0,1868.4 584.3,1867.3 580.5,1864.3C576.7,1861.3 573.0,1856.0 569.2,1850.7C565.4,1845.4 561.7,1839.0 557.9,1832.6C554.1,1826.2 550.4,1819.0 546.6,1812.2C542.8,1805.4 539.0,1797.6 535.2,1791.9C531.4,1786.2 527.6,1781.5 523.9,1778.3C520.2,1775.1 520.2,1773.7 513.1,1772.6C506.0,1771.5 486.4,1832.2 481,1771.5C475.6,1710.8 475.6,1469.1 481,1408.6Z" fill="#d1e5f0"/>
<path d="M1353,1771.5C1347.7,1832.2 1328.1,1771.5 1320.9,1772.6C1313.8,1773.7 1313.8,1775.1 1310.1,1778.3C1306.4,1781.5 1302.6,1786.2 1298.8,1791.9C1295.0,1797.6 1291.2,1805.4 1287.4,1812.2C1283.6,1819.0 1279.9,1826.2 1276.1,1832.6C1272.3,1839.0 1268.6,1845.4 1264.8,1850.7C1261.0,1856.0 1257.3,1861.3 1253.5,1864.3C1249.7,1867.3 1246.0,1868.4 1242.2,1868.8C1238.4,1869.2 1234.3,1867.6 1230.9,1866.5C1227.5,1865.4 1225.6,1863.3 1221.8,1862C1218.0,1860.7 1212.4,1860.9 1208.3,1858.6C1204.2,1856.3 1200.3,1852.4 1196.9,1848.4C1193.5,1844.4 1190.4,1840.1 1187.9,1834.8C1185.5,1829.5 1183.5,1823.5 1182.2,1816.7C1180.9,1809.9 1180.8,1801.6 1180,1794.1C1179.2,1786.6 1177.5,1779.0 1177.7,1771.5C1177.9,1764.0 1180.1,1755.3 1181.1,1748.9C1182.0,1742.5 1180.8,1737.2 1183.4,1733C1186.0,1728.8 1192.8,1727.4 1196.9,1724C1201.1,1720.6 1205.3,1716.9 1208.3,1712.7C1211.3,1708.5 1212.9,1703.8 1215,1699.1C1217.1,1694.4 1219.9,1687.6 1220.7,1684.4C1221.5,1681.2 1220.7,1683.1 1219.6,1680.1C1218.5,1677.1 1215.4,1671.8 1213.9,1666.5C1212.4,1661.2 1211.4,1654.8 1210.5,1648.4C1209.6,1642.0 1208.9,1635.3 1208.3,1628.1C1207.7,1620.9 1206.9,1613.0 1207.1,1605.4C1207.3,1597.9 1208.5,1590.3 1209.4,1582.8C1210.4,1575.3 1211.9,1567.4 1212.8,1560.2C1213.7,1553.0 1214.2,1547.0 1215,1539.8C1215.8,1532.6 1216.2,1524.4 1217.3,1517.2C1218.4,1510.0 1219.9,1503.6 1221.8,1496.8C1223.7,1490.0 1225.6,1483.3 1228.6,1476.5C1231.6,1469.7 1235.8,1462.5 1239.9,1456.1C1244.1,1449.7 1248.6,1443.3 1253.5,1438C1258.4,1432.7 1263.6,1428.6 1269.3,1424.4C1275.0,1420.2 1281.4,1416.1 1287.4,1413.1C1293.4,1410.1 1299.9,1407.0 1305.5,1406.3C1311.1,1405.5 1313.0,1408.2 1320.9,1408.6C1328.8,1409.0 1347.7,1348.1 1353,1408.6C1358.3,1469.1 1358.3,1710.8 1353,1771.5Z" fill="#d1e5f0"/>
<path d="M481,1512.7C486.4,1478.2 506.0,1512.3 513.1,1512.7C520.2,1513.1 520.2,1512.7 523.9,1514.9C527.6,1517.2 531.4,1520.9 535.2,1526.2C539.0,1531.5 543.2,1539.0 546.6,1546.6C550.0,1554.1 553.0,1563.6 555.6,1571.5C558.2,1579.4 560.5,1586.6 562.4,1594.1C564.3,1601.6 565.9,1609.8 566.9,1616.7C567.9,1623.6 568.7,1628.8 568.5,1635.7C568.3,1642.7 567.6,1650.5 565.8,1658.4C564.0,1666.3 560.7,1676.1 557.9,1683.3C555.1,1690.5 551.8,1696.5 548.8,1701.4C545.8,1706.3 543.2,1709.9 539.8,1712.7C536.4,1715.5 533.0,1717.2 528.5,1718.3C524.0,1719.4 521.0,1719.3 513.1,1719.5C505.2,1719.7 486.4,1754.0 481,1719.5C475.6,1685.0 475.6,1547.2 481,1512.7Z" fill="#b1d5e7"/>
<path d="M1353,1719.5C1347.7,1754.0 1328.8,1719.7 1320.9,1719.5C1313.0,1719.3 1310.0,1719.4 1305.5,1718.3C1301.0,1717.2 1297.6,1715.5 1294.2,1712.7C1290.8,1709.9 1288.2,1706.3 1285.2,1701.4C1282.2,1696.5 1278.9,1690.5 1276.1,1683.3C1273.3,1676.1 1270.0,1666.3 1268.2,1658.4C1266.4,1650.5 1265.7,1642.7 1265.5,1635.7C1265.3,1628.8 1266.1,1623.6 1267.1,1616.7C1268.1,1609.8 1269.7,1601.6 1271.6,1594.1C1273.5,1586.6 1275.8,1579.4 1278.4,1571.5C1281.0,1563.6 1284.0,1554.1 1287.4,1546.6C1290.8,1539.0 1295.0,1531.5 1298.8,1526.2C1302.6,1520.9 1306.4,1517.2 1310.1,1514.9C1313.8,1512.7 1313.8,1513.1 1320.9,1512.7C1328.1,1512.3 1347.7,1478.2 1353,1512.7C1358.3,1547.2 1358.3,1685.0 1353,1719.5Z" fill="#b1d5e7"/>
<path d="M916.9,1635.7C902.8,1635.7 885.4,1636.3 874.6,1636.9C863.8,1637.5 859.5,1638.2 852,1639.1C844.5,1640.0 836.2,1641.2 829.4,1642.5C822.6,1643.8 816.2,1645.8 811.3,1647.1C806.4,1648.4 802.6,1648.6 800,1650.5C797.4,1652.4 797.3,1654.1 795.4,1658.4C793.5,1662.7 790.9,1670.8 788.6,1676.5C786.4,1682.2 784.5,1687.0 781.9,1692.3C779.3,1697.6 776.2,1703.9 772.8,1708.1C769.4,1712.2 766.4,1714.4 761.5,1717.2C756.6,1720.0 749.4,1722.8 743.4,1725.1C737.4,1727.4 730.9,1729.3 725.3,1730.8C719.6,1732.3 712.7,1731.2 709.5,1734.2C706.3,1737.2 706.9,1742.7 706.1,1748.9C705.3,1755.1 704.7,1764.0 704.9,1771.5C705.1,1779.0 706.2,1786.6 707.2,1794.1C708.2,1801.6 709.5,1809.2 710.6,1816.7C711.7,1824.2 713.4,1831.9 714,1839.4C714.6,1847.0 713.6,1856.3 714,1862C714.4,1867.7 714.7,1870.3 716.2,1873.3C717.7,1876.3 719.2,1877.5 723,1880.1C726.8,1882.7 706.6,1887.6 738.9,1889.1C771.2,1890.6 857.5,1889.1 916.9,1889.1C976.3,1889.1 1062.8,1890.6 1095.1,1889.1C1127.4,1887.6 1107.2,1882.7 1111,1880.1C1114.8,1877.5 1116.3,1876.3 1117.8,1873.3C1119.3,1870.3 1119.6,1867.7 1120,1862C1120.4,1856.3 1119.4,1847.0 1120,1839.4C1120.6,1831.9 1122.3,1824.2 1123.4,1816.7C1124.5,1809.2 1125.8,1801.6 1126.8,1794.1C1127.8,1786.6 1128.9,1779.0 1129.1,1771.5C1129.3,1764.0 1128.7,1755.1 1127.9,1748.9C1127.1,1742.7 1127.7,1737.2 1124.5,1734.2C1121.3,1731.2 1114.4,1732.3 1108.7,1730.8C1103.0,1729.3 1096.6,1727.4 1090.6,1725.1C1084.6,1722.8 1077.4,1720.0 1072.5,1717.2C1067.6,1714.4 1064.6,1712.2 1061.2,1708.1C1057.8,1703.9 1054.7,1697.6 1052.1,1692.3C1049.5,1687.0 1047.7,1682.2 1045.4,1676.5C1043.2,1670.8 1040.5,1662.7 1038.6,1658.4C1036.7,1654.1 1036.7,1652.4 1034,1650.5C1031.3,1648.6 1027.6,1648.4 1022.7,1647.1C1017.8,1645.8 1011.4,1643.8 1004.6,1642.5C997.8,1641.2 989.5,1640.0 982,1639.1C974.5,1638.2 970.2,1637.5 959.4,1636.9C948.5,1636.3 931.0,1635.7 916.9,1635.7Z" fill="#d1e5f0"/>
<path d="M916.9,1712.7C908.8,1712.7 898.2,1712.0 892.7,1712.7C887.2,1713.5 886.0,1714.6 883.7,1717.2C881.4,1719.8 879.1,1724.7 879.1,1728.5C879.1,1732.3 881.1,1736.6 883.7,1739.8C886.4,1743.0 889.5,1746.3 895,1747.7C900.5,1749.1 909.6,1748.4 916.9,1748.4C924.2,1748.4 933.4,1749.1 939,1747.7C944.6,1746.3 947.6,1743.0 950.3,1739.8C952.9,1736.6 954.9,1732.3 954.9,1728.5C954.9,1724.7 952.6,1719.8 950.3,1717.2C948.0,1714.6 946.9,1713.5 941.3,1712.7C935.7,1712.0 925.0,1712.7 916.9,1712.7Z" fill="#b1d5e7"/>
</g></g>
<g filter="url(#tsoft)">
<rect x="513" y="1319.5" width="808" height="563.5" fill="none" stroke="#6b6b6b" stroke-width="3.6"/>
<path d="M511.2,1883 H1322.8" stroke="#3c3c3c" stroke-width="3.6" fill="none"/>
<path d="M691.4,1883 v-7 M691.4,1319.5 v7 M916.9,1883 v-7 M916.9,1319.5 v7 M1142.4,1883 v-7 M1142.4,1319.5 v7 M513,1431.7 h7 M1321,1431.7 h-7 M513,1516.8 h7 M1321,1516.8 h-7 M513,1599.7 h7 M1321,1599.7 h-7 M513,1713.8 h7 M1321,1713.8 h-7 M513,1799.1 h7 M1321,1799.1 h-7" stroke="#444" stroke-width="3.2" fill="none"/>
<text x="713.6" y="1937" text-anchor="end" class="tk">−50</text>
<text x="916.2" y="1937" text-anchor="middle" class="tk">0</text>
<text x="1142" y="1937" text-anchor="middle" class="tk">50</text>
<text x="503.3" y="1447" text-anchor="end" class="tk">25</text>
<text x="503.3" y="1532.1" text-anchor="end" class="tk">50</text>
<text x="503.3" y="1615" text-anchor="end" class="tk">100</text>
<text x="503.3" y="1729.1" text-anchor="end" class="tk">250</text>
<text x="503.3" y="1814.4" text-anchor="end" class="tk">500</text>
<text x="503.3" y="1898.3" text-anchor="end" class="tk">1000</text>
<text transform="translate(384.1,1603) rotate(-90)" text-anchor="middle" class="axp">Pressure (hPa)</text>
<text x="523.2" y="1851.8" class="pl">(c)</text>
</g>
</g>
<g id="panel-d">
<clipPath id="cpd"><rect x="1501" y="28.8" width="818.2" height="562.5"/></clipPath>
<clipPath id="cpdl"><rect x="1501" y="28.8" width="408.5" height="562.5"/></clipPath>
<clipPath id="cpdr"><rect x="1909.5" y="28.8" width="409.7" height="562.5"/></clipPath>
<g clip-path="url(#cpdl)"><g filter="url(#soft)">
<rect x="1481" y="8.8" width="448.5" height="602.5" fill="#e4eef3"/>
<path d="M1771.9,19C1746.7,21.3 1774.2,27.7 1771.9,32.6C1769.6,37.5 1762.5,42.5 1758.3,48.5C1754.1,54.5 1751.2,62.0 1747,68.8C1742.8,75.6 1737.2,83.2 1733.4,89.2C1729.6,95.2 1726.6,99.3 1724.3,105C1722.0,110.7 1720.9,116.3 1719.8,123.1C1718.7,129.9 1717.6,138.9 1717.6,145.7C1717.6,152.5 1718.3,158.9 1719.8,163.8C1721.3,168.7 1723.6,171.8 1726.6,175.2C1729.6,178.6 1733.8,181.9 1737.9,184.2C1742.1,186.4 1745.5,187.6 1751.5,188.7C1757.5,189.8 1764.7,190.6 1774.1,191C1783.5,191.4 1796.8,190.2 1808.1,191C1819.4,191.8 1832.6,193.6 1842,195.5C1851.4,197.4 1857.8,199.7 1864.6,202.3C1871.4,205.0 1877.4,208.0 1882.7,211.4C1888.0,214.8 1893.0,218.6 1896.3,222.7C1899.6,226.8 1901.2,230.2 1902.6,236.2C1904.0,242.2 1904.5,243.8 1904.9,258.9C1905.4,274.0 1905.3,304.1 1905.3,326.7C1905.3,349.3 1901.9,383.3 1904.9,394.6C1907.9,405.9 1920.3,457.2 1923.4,394.6C1926.5,332.0 1948.7,81.6 1923.4,19C1898.2,-43.6 1797.2,16.7 1771.9,19Z" fill="#f7f7f7"/>
<path d="M1471,430.8C1476.0,401.4 1488.0,430.4 1500.8,430.8C1513.6,431.2 1534.4,432.2 1547.9,433C1561.4,433.8 1573.5,433.4 1581.8,435.3C1590.1,437.2 1592.7,440.5 1597.6,444.3C1602.5,448.1 1606.7,454.1 1611.2,457.9C1615.7,461.7 1620.7,466.6 1624.8,467C1628.9,467.4 1632.3,463.6 1636.1,460.2C1639.9,456.8 1643.2,449.6 1647.4,446.6C1651.6,443.6 1656.5,443.6 1661,442.1C1665.5,440.6 1670.1,439.1 1674.6,437.6C1679.1,436.1 1684.3,435.6 1688.1,433C1691.9,430.4 1694.2,426.6 1697.2,421.7C1700.2,416.8 1703.6,409.6 1706.2,403.6C1708.8,397.6 1710.3,392.7 1713,385.5C1715.7,378.3 1718.7,365.9 1722.1,360.6C1725.5,355.3 1730.0,355.7 1733.4,353.8C1736.8,351.9 1738.6,349.7 1742.4,349.3C1746.2,348.9 1751.1,350.1 1756,351.6C1760.9,353.1 1768.5,355.0 1771.9,358.4C1775.3,361.8 1774.9,366.2 1776.4,371.9C1777.9,377.5 1778.6,385.9 1780.9,392.3C1783.2,398.7 1786.6,405.1 1790,410.4C1793.4,415.7 1797.2,419.9 1801.3,424C1805.4,428.1 1810.3,432.1 1814.8,435.3C1819.3,438.5 1824.2,442.8 1828.4,443.2C1832.6,443.6 1836.7,441.2 1839.7,437.6C1842.7,434.0 1844.6,428.1 1846.5,421.7C1848.4,415.3 1851.8,405.5 1851,399.1C1850.2,392.7 1845.8,388.6 1842,383.3C1838.2,378.0 1832.6,371.5 1828.4,367.4C1824.2,363.2 1817.1,361.4 1817.1,358.4C1817.1,355.4 1823.5,351.9 1828.4,349.3C1833.3,346.7 1840.5,343.8 1846.5,342.5C1852.5,341.2 1859.7,340.3 1864.6,341.4C1869.5,342.5 1872.5,345.0 1875.9,349.3C1879.3,353.6 1882.0,362.5 1885,367.4C1888.0,372.3 1891.4,377.9 1894,378.7C1896.6,379.4 1899.0,375.3 1900.8,371.9C1902.6,368.5 1901.1,360.6 1904.9,358.4C1908.7,356.1 1920.3,316.9 1923.4,358.4C1926.5,399.9 1998.8,565.7 1923.4,607.2C1848.0,648.7 1546.4,636.6 1471,607.2C1395.6,577.8 1466.0,460.2 1471,430.8Z" fill="#f7f7f7"/>
<path d="M1846.5,471.5C1846.1,467.0 1846.1,464.7 1851,462.4C1855.9,460.1 1868.0,460.1 1875.9,457.9C1883.8,455.6 1893.0,451.2 1898.6,448.9C1904.1,446.6 1905.1,445.1 1909.2,444.3C1913.3,443.5 1921.0,427.0 1923.4,444.3C1925.8,461.6 1925.8,531.4 1923.4,548.4C1921.0,565.4 1913.0,545.1 1909.2,546.2C1905.4,547.3 1905.2,554.8 1900.8,555.2C1896.4,555.6 1888.7,551.0 1882.7,548.4C1876.7,545.8 1869.5,543.2 1864.6,539.4C1859.7,535.6 1855.6,531.5 1853.3,525.8C1851.0,520.1 1851.0,511.4 1851,505.4C1851.0,499.4 1854.0,495.2 1853.3,489.6C1852.5,484.0 1846.9,476.0 1846.5,471.5Z" fill="#e4eef3"/>
<path d="M1471,557.5C1476.0,550.0 1490.2,560.1 1500.8,557.5C1511.3,554.9 1522.7,546.1 1534.3,541.6C1545.9,537.1 1560.0,532.8 1570.5,530.3C1581.0,527.8 1588.2,526.5 1597.6,526.9C1607.0,527.3 1617.3,529.4 1627.1,532.6C1636.9,535.8 1649.7,541.3 1656.5,546.2C1663.3,551.1 1664.4,555.6 1667.8,562C1671.2,568.4 1674.7,577.8 1676.8,584.6C1678.9,591.4 1714.5,599.7 1680.2,602.7C1645.9,605.7 1505.9,610.2 1471,602.7C1436.1,595.2 1466.0,565.0 1471,557.5Z" fill="#e4eef3"/>
<path d="M1471,19C1506.1,-39.4 1646.3,16.7 1681.4,19C1716.5,21.3 1681.8,24.7 1681.4,32.6C1681.0,40.5 1680.2,55.3 1679.1,66.6C1678.0,77.9 1676.5,90.0 1674.6,100.5C1672.7,111.0 1670.4,120.9 1667.8,129.9C1665.2,139.0 1660.2,148.4 1658.7,154.8C1657.2,161.2 1657.9,162.4 1658.7,168.4C1659.5,174.4 1661.0,183.5 1663.3,191C1665.6,198.5 1669.3,206.1 1672.3,213.6C1675.3,221.1 1678.4,228.6 1681.4,236.2C1684.4,243.8 1687.8,251.3 1690.4,258.9C1693.0,266.4 1694.6,273.6 1697.2,281.5C1699.8,289.4 1705.8,298.9 1706.2,306.4C1706.6,313.9 1701.4,319.5 1699.5,326.7C1697.6,333.9 1696.8,341.8 1694.9,349.4C1693.0,356.9 1690.7,365.2 1688.1,372C1685.5,378.8 1682.1,384.8 1679.1,390.1C1676.1,395.4 1673.0,400.3 1670,403.7C1667.0,407.1 1666.3,409.2 1661,410.5C1655.7,411.8 1644.1,411.6 1638.4,411.6C1632.8,411.6 1630.9,411.8 1627.1,410.5C1623.3,409.2 1619.5,406.7 1615.7,403.7C1611.9,400.7 1608.2,396.2 1604.4,392.4C1600.6,388.6 1596.9,384.8 1593.1,381C1589.3,377.2 1585.6,372.7 1581.8,369.7C1578.0,366.7 1574.7,365.0 1570.5,362.9C1566.3,360.8 1561.4,357.7 1556.9,357.3C1552.4,356.9 1548.6,359.0 1543.3,360.7C1538.0,362.4 1530.1,366.0 1525.2,367.5C1520.3,369.0 1518.0,369.3 1513.9,369.7C1509.8,370.1 1508.0,369.7 1500.8,369.7C1493.6,369.7 1476.0,428.1 1471,369.7C1466.0,311.2 1435.9,77.4 1471,19Z" fill="#d1e5f0"/>
<path d="M1471,19C1493.6,4.5 1584.1,16.7 1606.7,19C1629.3,21.3 1607.1,28.5 1606.7,32.6C1606.3,36.8 1605.9,39.0 1604.4,43.9C1602.9,48.8 1600.2,56.0 1597.6,62C1595.0,68.0 1592.0,74.8 1588.6,80.1C1585.2,85.4 1582.2,90.3 1577.3,93.7C1572.4,97.1 1566.0,98.6 1559.2,100.5C1552.4,102.4 1544.1,104.0 1536.6,105C1529.0,106.0 1519.9,106.0 1513.9,106.2C1507.9,106.4 1508.0,106.2 1500.8,106.2C1493.6,106.2 1476.0,120.7 1471,106.2C1466.0,91.7 1448.4,33.5 1471,19Z" fill="#b1d5e7"/>
<path d="M1471,19C1486.5,11.4 1548.2,16.7 1563.7,19C1579.2,21.3 1564.5,28.5 1563.7,32.6C1563.0,36.8 1561.8,40.1 1559.2,43.9C1556.6,47.7 1551.7,52.0 1547.9,55.2C1544.1,58.4 1541.1,61.3 1536.6,63.2C1532.1,65.1 1526.7,66.4 1520.7,66.6C1514.7,66.8 1509.1,64.7 1500.8,64.3C1492.5,63.9 1476.0,71.8 1471,64.3C1466.0,56.8 1455.5,26.6 1471,19Z" fill="#92c5de"/>
<path d="M1471,213.6C1476.0,204.9 1490.2,216.0 1500.8,218.1C1511.3,220.2 1531.0,222.3 1534.3,226.1C1537.6,229.9 1524.8,236.1 1520.7,240.8C1516.6,245.5 1512.7,250.2 1509.4,254.3C1506.1,258.4 1507.2,263.1 1500.8,265.7C1494.4,268.3 1476.0,278.9 1471,270.2C1466.0,261.5 1466.0,222.3 1471,213.6Z" fill="#b1d5e7"/>
<path d="M1624.8,287.1C1629.3,287.5 1633.5,291.5 1638.4,295.1C1643.3,298.7 1652.3,303.3 1654.2,308.6C1656.1,313.9 1650.8,321.8 1649.7,326.7C1648.6,331.6 1649.7,335.5 1647.4,338.1C1645.1,340.8 1639.5,342.2 1636.1,342.6C1632.7,343.0 1630.5,343.0 1627.1,340.3C1623.7,337.6 1619.3,332.0 1615.7,326.7C1612.1,321.4 1606.3,314.2 1605.6,308.6C1604.8,303.0 1608.0,296.4 1611.2,292.8C1614.4,289.2 1620.3,286.7 1624.8,287.1Z" fill="#b1d5e7"/>
<path d="M1767.3,112.9C1768.0,109.1 1773.7,105.4 1778.6,102.8C1783.5,100.2 1789.9,98.0 1796.7,97.1C1803.5,96.1 1813.0,96.1 1819.4,97.1C1825.8,98.0 1831.8,100.3 1835.2,102.8C1838.6,105.2 1839.7,108.0 1839.7,111.8C1839.7,115.6 1837.8,121.6 1835.2,125.4C1832.6,129.2 1828.8,132.5 1823.9,134.4C1819.0,136.3 1811.8,136.9 1805.8,136.7C1799.8,136.5 1793.0,135.2 1787.7,133.3C1782.4,131.4 1777.5,128.8 1774.1,125.4C1770.7,122.0 1766.5,116.7 1767.3,112.9Z" fill="#fbeae1"/>
</g></g>
<g clip-path="url(#cpdr)"><g filter="url(#soft)">
<rect x="1889.5" y="8.8" width="449.7" height="602.5" fill="#f7f7f7"/>
<path d="M1895.6,19C1870.3,81.6 1892.5,332.0 1895.6,394.6C1898.7,457.2 1911.1,405.9 1914.1,394.6C1917.1,383.3 1913.7,349.3 1913.7,326.7C1913.7,304.1 1913.6,274.0 1914.1,258.9C1914.5,243.8 1915.0,242.2 1916.4,236.2C1917.8,230.2 1919.4,226.8 1922.7,222.7C1926.0,218.6 1931.0,214.8 1936.3,211.4C1941.6,208.0 1947.6,205.0 1954.4,202.3C1961.2,199.7 1967.6,197.4 1977,195.5C1986.4,193.6 1999.6,191.8 2010.9,191C2022.2,190.2 2035.5,191.4 2044.9,191C2054.3,190.6 2061.5,189.8 2067.5,188.7C2073.5,187.6 2076.9,186.4 2081.1,184.2C2085.2,181.9 2089.4,178.6 2092.4,175.2C2095.4,171.8 2097.7,168.7 2099.2,163.8C2100.7,158.9 2101.4,152.5 2101.4,145.7C2101.4,138.9 2100.3,129.9 2099.2,123.1C2098.1,116.3 2097.0,110.7 2094.7,105C2092.4,99.3 2089.4,95.2 2085.6,89.2C2081.8,83.2 2076.2,75.6 2072,68.8C2067.8,62.0 2064.8,54.5 2060.7,48.5C2056.5,42.5 2049.4,37.5 2047.1,32.6C2044.8,27.7 2072.3,21.3 2047.1,19C2021.8,16.7 1920.8,-43.6 1895.6,19Z" fill="#e4eef3"/>
<path d="M2348,607.2C2272.6,636.6 1971.0,648.7 1895.6,607.2C1820.2,565.7 1892.5,399.9 1895.6,358.4C1898.7,316.9 1910.3,356.1 1914.1,358.4C1917.9,360.6 1916.4,368.5 1918.2,371.9C1920.0,375.3 1922.4,379.4 1925,378.7C1927.6,377.9 1931.0,372.3 1934,367.4C1937.0,362.5 1939.7,353.6 1943.1,349.3C1946.5,345.0 1949.5,342.5 1954.4,341.4C1959.3,340.3 1966.5,341.2 1972.5,342.5C1978.5,343.8 1985.7,346.7 1990.6,349.3C1995.5,351.9 2001.9,355.4 2001.9,358.4C2001.9,361.4 1994.8,363.2 1990.6,367.4C1986.4,371.5 1980.8,378.0 1977,383.3C1973.2,388.6 1968.8,392.7 1968,399.1C1967.2,405.5 1970.6,415.3 1972.5,421.7C1974.4,428.1 1976.3,434.0 1979.3,437.6C1982.3,441.2 1986.4,443.6 1990.6,443.2C1994.8,442.8 1999.7,438.5 2004.2,435.3C2008.7,432.1 2013.6,428.1 2017.7,424C2021.8,419.9 2025.6,415.7 2029,410.4C2032.4,405.1 2035.8,398.7 2038.1,392.3C2040.4,385.9 2041.1,377.5 2042.6,371.9C2044.1,366.2 2043.7,361.8 2047.1,358.4C2050.5,355.0 2058.1,353.1 2063,351.6C2067.9,350.1 2072.8,348.9 2076.6,349.3C2080.4,349.7 2082.2,351.9 2085.6,353.8C2089.0,355.7 2093.5,355.3 2096.9,360.6C2100.3,365.9 2103.3,378.3 2106,385.5C2108.7,392.7 2110.2,397.6 2112.8,403.6C2115.4,409.6 2118.8,416.8 2121.8,421.7C2124.8,426.6 2127.1,430.4 2130.9,433C2134.7,435.6 2139.9,436.1 2144.4,437.6C2148.9,439.1 2153.5,440.6 2158,442.1C2162.5,443.6 2167.4,443.6 2171.6,446.6C2175.8,449.6 2179.1,456.8 2182.9,460.2C2186.7,463.6 2190.0,467.4 2194.2,467C2198.3,466.6 2203.3,461.7 2207.8,457.9C2212.3,454.1 2216.5,448.1 2221.4,444.3C2226.3,440.5 2228.9,437.2 2237.2,435.3C2245.5,433.4 2257.6,433.8 2271.1,433C2284.6,432.2 2305.4,431.2 2318.2,430.8C2331.0,430.4 2343.0,401.4 2348,430.8C2353.0,460.2 2423.4,577.8 2348,607.2Z" fill="#e4eef3"/>
<path d="M1965.7,489.6C1965.0,495.2 1968.0,499.4 1968,505.4C1968.0,511.4 1968.0,520.1 1965.7,525.8C1963.4,531.5 1959.3,535.6 1954.4,539.4C1949.5,543.2 1942.3,545.8 1936.3,548.4C1930.3,551.0 1922.6,555.6 1918.2,555.2C1913.8,554.8 1913.6,547.3 1909.8,546.2C1906.0,545.1 1898.0,565.4 1895.6,548.4C1893.2,531.4 1893.2,461.6 1895.6,444.3C1898.0,427.0 1905.7,443.5 1909.8,444.3C1913.9,445.1 1914.9,446.6 1920.4,448.9C1926.0,451.2 1935.2,455.6 1943.1,457.9C1951.0,460.1 1963.1,460.1 1968,462.4C1972.9,464.7 1972.9,467.0 1972.5,471.5C1972.1,476.0 1966.5,484.0 1965.7,489.6Z" fill="#f7f7f7"/>
<path d="M2348,602.7C2313.1,610.2 2173.1,605.7 2138.8,602.7C2104.5,599.7 2140.1,591.4 2142.2,584.6C2144.3,577.8 2147.8,568.4 2151.2,562C2154.6,555.6 2155.7,551.1 2162.5,546.2C2169.3,541.3 2182.1,535.8 2191.9,532.6C2201.7,529.4 2212.0,527.3 2221.4,526.9C2230.8,526.5 2237.9,527.8 2248.5,530.3C2259.1,532.8 2273.1,537.1 2284.7,541.6C2296.3,546.1 2307.6,554.9 2318.2,557.5C2328.8,560.1 2343.0,550.0 2348,557.5C2353.0,565.0 2382.9,595.2 2348,602.7Z" fill="#f7f7f7"/>
<path d="M2348,369.7C2343.0,428.1 2325.3,369.7 2318.2,369.7C2311.0,369.7 2309.2,370.1 2305.1,369.7C2301.0,369.3 2298.7,369.0 2293.8,367.5C2288.9,366.0 2281.0,362.4 2275.7,360.7C2270.4,359.0 2266.6,356.9 2262.1,357.3C2257.6,357.7 2252.7,360.8 2248.5,362.9C2244.3,365.0 2241.0,366.7 2237.2,369.7C2233.4,372.7 2229.7,377.2 2225.9,381C2222.1,384.8 2218.4,388.6 2214.6,392.4C2210.8,396.2 2207.1,400.7 2203.3,403.7C2199.5,406.7 2195.7,409.2 2191.9,410.5C2188.1,411.8 2186.2,411.6 2180.6,411.6C2174.9,411.6 2163.3,411.8 2158,410.5C2152.7,409.2 2152.0,407.1 2149,403.7C2146.0,400.3 2142.9,395.4 2139.9,390.1C2136.9,384.8 2133.5,378.8 2130.9,372C2128.3,365.2 2126.0,356.9 2124.1,349.4C2122.2,341.8 2121.4,333.9 2119.5,326.7C2117.6,319.5 2112.4,313.9 2112.8,306.4C2113.2,298.9 2119.2,289.4 2121.8,281.5C2124.4,273.6 2126.0,266.4 2128.6,258.9C2131.2,251.3 2134.6,243.8 2137.6,236.2C2140.6,228.6 2143.7,221.1 2146.7,213.6C2149.7,206.1 2153.4,198.5 2155.7,191C2158.0,183.5 2159.5,174.4 2160.3,168.4C2161.1,162.4 2161.8,161.2 2160.3,154.8C2158.8,148.4 2153.8,139.0 2151.2,129.9C2148.5,120.9 2146.3,111.0 2144.4,100.5C2142.5,90.0 2141.0,77.9 2139.9,66.6C2138.8,55.3 2138.0,40.5 2137.6,32.6C2137.2,24.7 2102.5,21.3 2137.6,19C2172.7,16.7 2312.9,-39.4 2348,19C2383.1,77.4 2353.0,311.2 2348,369.7Z" fill="#fbeae1"/>
<path d="M2348,106.2C2343.0,120.7 2325.3,106.2 2318.2,106.2C2311.0,106.2 2311.1,106.4 2305.1,106.2C2299.1,106.0 2289.9,106.0 2282.4,105C2274.9,104.0 2266.6,102.4 2259.8,100.5C2253.0,98.6 2246.6,97.1 2241.7,93.7C2236.8,90.3 2233.8,85.4 2230.4,80.1C2227.0,74.8 2224.0,68.0 2221.4,62C2218.8,56.0 2216.1,48.8 2214.6,43.9C2213.1,39.0 2212.7,36.8 2212.3,32.6C2211.9,28.5 2189.7,21.3 2212.3,19C2234.9,16.7 2325.4,4.5 2348,19C2370.6,33.5 2353.0,91.7 2348,106.2Z" fill="#fddbc7"/>
<path d="M2348,64.3C2343.0,71.8 2326.5,63.9 2318.2,64.3C2309.9,64.7 2304.3,66.8 2298.3,66.6C2292.3,66.4 2286.9,65.1 2282.4,63.2C2277.9,61.3 2274.9,58.4 2271.1,55.2C2267.3,52.0 2262.4,47.7 2259.8,43.9C2257.2,40.1 2256.1,36.8 2255.3,32.6C2254.6,28.5 2239.9,21.3 2255.3,19C2270.8,16.7 2332.6,11.4 2348,19C2363.4,26.6 2353.0,56.8 2348,64.3Z" fill="#f8c0a4"/>
<path d="M2348,270.2C2343.0,278.9 2324.6,268.3 2318.2,265.7C2311.8,263.1 2312.9,258.4 2309.6,254.3C2306.3,250.2 2302.5,245.5 2298.3,240.8C2294.2,236.1 2281.4,229.9 2284.7,226.1C2288.0,222.3 2307.6,220.2 2318.2,218.1C2328.8,216.0 2343.0,204.9 2348,213.6C2353.0,222.3 2353.0,261.5 2348,270.2Z" fill="#fddbc7"/>
<path d="M2207.8,292.8C2211.0,296.4 2214.2,303.0 2213.4,308.6C2212.7,314.2 2206.9,321.4 2203.3,326.7C2199.7,332.0 2195.3,337.6 2191.9,340.3C2188.5,343.0 2186.3,343.0 2182.9,342.6C2179.5,342.2 2173.9,340.8 2171.6,338.1C2169.3,335.5 2170.4,331.6 2169.3,326.7C2168.2,321.8 2162.9,313.9 2164.8,308.6C2166.7,303.3 2175.7,298.7 2180.6,295.1C2185.5,291.5 2189.7,287.5 2194.2,287.1C2198.7,286.7 2204.6,289.2 2207.8,292.8Z" fill="#fddbc7"/>
<path d="M2044.9,125.4C2041.5,128.8 2036.6,131.4 2031.3,133.3C2026.0,135.2 2019.2,136.5 2013.2,136.7C2007.2,136.9 2000.0,136.3 1995.1,134.4C1990.2,132.5 1986.4,129.2 1983.8,125.4C1981.2,121.6 1979.3,115.6 1979.3,111.8C1979.3,108.0 1980.4,105.2 1983.8,102.8C1987.2,100.3 1993.2,98.0 1999.6,97.1C2006.0,96.1 2015.5,96.1 2022.3,97.1C2029.1,98.0 2035.5,100.2 2040.4,102.8C2045.3,105.4 2050.9,109.1 2051.7,112.9C2052.4,116.7 2048.3,122.0 2044.9,125.4Z" fill="#d1e5f0"/>
</g></g>
<g filter="url(#tsoft)">
<rect x="1501" y="28.8" width="818.2" height="562.5" fill="none" stroke="#6b6b6b" stroke-width="3.6"/>
<path d="M1499.2,591.3 H2321" stroke="#3c3c3c" stroke-width="3.6" fill="none"/>
<path d="M1680.9,591.3 v-7 M1680.9,28.8 v7 M1909.2,591.3 v-7 M1909.2,28.8 v7 M2137.5,591.3 v-7 M2137.5,28.8 v7 M1501,140.8 h7 M2319.2,140.8 h-7 M1501,225.8 h7 M2319.2,225.8 h-7 M1501,308.6 h7 M2319.2,308.6 h-7 M1501,422.9 h7 M2319.2,422.9 h-7 M1501,507.7 h7 M2319.2,507.7 h-7" stroke="#444" stroke-width="3.2" fill="none"/>
<text x="1709.2" y="646.4" text-anchor="end" class="tk">−50</text>
<text x="1911.6" y="646.4" text-anchor="middle" class="tk">0</text>
<text x="2137.3" y="646.4" text-anchor="middle" class="tk">50</text>
<text x="1491.2" y="156.3" text-anchor="end" class="tk">25</text>
<text x="1491.2" y="241.3" text-anchor="end" class="tk">50</text>
<text x="1491.2" y="324.1" text-anchor="end" class="tk">100</text>
<text x="1491.2" y="438.4" text-anchor="end" class="tk">250</text>
<text x="1491.2" y="523.2" text-anchor="end" class="tk">500</text>
<text x="1491.2" y="606.5" text-anchor="end" class="tk">1000</text>
<clipPath id="pcd"><rect x="1344.5" y="28.8" width="200" height="562.5"/></clipPath>
<g clip-path="url(#pcd)"><text transform="translate(1372.1,311.7) rotate(-90)" text-anchor="middle" class="axp">Pressure (hPa)</text></g>
<text x="1529" y="557.8" class="pl">(d)</text>
</g>
</g>
<g id="panel-e">
<clipPath id="cpe"><rect x="1505.3" y="673.6" width="817.7" height="562.7"/></clipPath>
<clipPath id="cpel"><rect x="1505.3" y="673.6" width="407.3" height="562.7"/></clipPath>
<clipPath id="cper"><rect x="1912.6" y="673.6" width="410.4" height="562.7"/></clipPath>
<g clip-path="url(#cpel)"><g filter="url(#soft)">
<rect x="1485.3" y="653.6" width="447.3" height="602.7" fill="#e4eef3"/>
<path d="M1469.9,706.4C1475.9,615.0 1498.5,707.4 1506.9,708.9C1515.3,710.4 1515.8,711.6 1520.1,715.2C1524.4,718.8 1528.9,724.0 1532.7,730.3C1536.5,736.6 1539.6,746.0 1542.7,752.9C1545.8,759.8 1548.6,765.4 1551.5,771.7C1554.4,778.0 1557.8,784.3 1560.3,790.6C1562.8,796.9 1564.7,803.1 1566.6,809.4C1568.5,815.7 1570.0,821.9 1571.8,828.2C1573.6,834.5 1575.3,840.8 1577.2,847.1C1579.1,853.4 1581.0,859.6 1582.9,865.9C1584.8,872.2 1586.4,878.4 1588.5,884.7C1590.6,891.0 1592.8,895.0 1595.4,903.9C1598.1,912.8 1601.4,926.5 1604.4,937.8C1607.4,949.1 1610.1,961.1 1613.5,971.7C1616.9,982.3 1620.6,992.2 1624.8,1001.2C1629.0,1010.2 1633.9,1018.9 1638.4,1026C1642.9,1033.2 1648.1,1039.6 1651.9,1044.1C1655.7,1048.6 1657.6,1052.1 1661,1053.2C1664.4,1054.3 1667.8,1052.4 1672.3,1050.9C1676.8,1049.4 1682.4,1046.0 1688.1,1044.1C1693.8,1042.2 1699.4,1040.2 1706.2,1039.6C1713.0,1039.0 1721.4,1040.3 1728.9,1040.7C1736.5,1041.1 1744.0,1042.3 1751.5,1041.9C1759.0,1041.5 1766.6,1038.0 1774.1,1038.5C1781.6,1039.0 1789.9,1042.4 1796.7,1044.6C1803.5,1046.8 1809.5,1048.8 1814.8,1051.4C1820.1,1054.0 1823.9,1057.4 1828.4,1060.4C1832.9,1063.4 1836.7,1066.9 1842,1069.5C1847.3,1072.1 1854.4,1074.7 1860.1,1076.2C1865.8,1077.7 1871.8,1077.4 1875.9,1078.5C1880.1,1079.6 1883.9,1079.6 1885,1083C1886.1,1086.4 1883.8,1092.5 1882.7,1098.9C1881.6,1105.3 1880.1,1114.0 1878.2,1121.5C1876.3,1129.0 1873.7,1137.3 1871.4,1144.1C1869.1,1150.9 1866.1,1157.3 1864.6,1162.2C1863.1,1167.1 1861.7,1169.7 1862.4,1173.5C1863.2,1177.3 1865.7,1181.0 1869.1,1184.8C1872.5,1188.6 1878.2,1193.4 1882.7,1196.2C1887.2,1199.0 1892.2,1201.8 1896.3,1201.8C1900.4,1201.8 1903.1,1198.3 1907.6,1196.2C1912.1,1194.1 1920.8,1179.2 1923.4,1189.4C1926.0,1199.6 1998.8,1245.9 1923.4,1257.2C1848.0,1268.5 1546.6,1349.0 1471,1257.2C1395.4,1165.4 1463.9,797.8 1469.9,706.4Z" fill="#f7f7f7"/>
<path d="M1923.4,899.3C1921.2,870.9 1913.7,903.9 1909.9,908.4C1906.1,912.9 1904.0,919.7 1900.8,926.5C1897.6,933.3 1892.9,941.6 1890.6,949.1C1888.3,956.6 1886.8,964.2 1887.2,971.7C1887.6,979.2 1890.5,986.9 1892.9,994.4C1895.4,1001.9 1899.5,1009.5 1901.9,1017C1904.4,1024.5 1907.8,1032.8 1907.6,1039.6C1907.4,1046.4 1903.8,1053.5 1900.8,1058.1C1897.8,1062.7 1889.5,1064.2 1889.5,1067.2C1889.5,1070.2 1897.0,1074.3 1900.8,1076.2C1904.6,1078.1 1908.8,1078.1 1912.6,1078.5C1916.4,1078.9 1921.6,1108.4 1923.4,1078.5C1925.2,1048.6 1925.7,927.6 1923.4,899.3Z" fill="#f7f7f7"/>
<path d="M1851,869.9C1852.5,865.8 1867.3,859.8 1873.7,854.1C1880.1,848.5 1885.3,836.0 1889.5,836C1893.7,836.0 1897.1,847.7 1898.6,854.1C1900.1,860.5 1900.5,870.0 1898.6,874.5C1896.7,879.0 1892.9,880.5 1887.2,881.2C1881.5,882.0 1870.6,880.9 1864.6,879C1858.6,877.1 1849.5,874.0 1851,869.9Z" fill="#f7f7f7"/>
<path d="M1851,1005.7C1851.4,1002.9 1860.1,999.6 1864.6,998.9C1869.1,998.1 1876.7,998.9 1878.2,1001.2C1879.7,1003.5 1876.3,1010.0 1873.7,1012.5C1871.1,1015.0 1866.2,1017.0 1862.4,1015.9C1858.6,1014.8 1850.6,1008.5 1851,1005.7Z" fill="#f7f7f7"/>
<path d="M1471,754.5C1476.7,672.2 1497.4,759.1 1505.3,763.6C1513.2,768.1 1514.0,774.2 1518.5,781.7C1523.0,789.2 1527.5,799.8 1532,808.8C1536.5,817.8 1541.4,827.0 1545.6,836C1549.8,845.0 1553.5,853.7 1556.9,863.1C1560.3,872.5 1563.0,882.0 1566,892.6C1569.0,903.2 1572.0,915.2 1575,926.5C1578.0,937.8 1581.4,949.1 1584.1,960.4C1586.8,971.7 1589.0,983.1 1590.9,994.4C1592.8,1005.7 1594.5,1018.4 1595.4,1028.3C1596.3,1038.2 1596.7,1045.6 1596.5,1053.6C1596.3,1061.6 1595.0,1068.7 1594.3,1076.2C1593.5,1083.8 1592.0,1091.4 1592,1098.9C1592.0,1106.5 1593.7,1114.0 1594.3,1121.5C1594.9,1129.0 1595.2,1136.6 1595.8,1144.1C1596.3,1151.6 1597.8,1159.9 1597.6,1166.7C1597.3,1173.5 1595.4,1178.8 1594.3,1184.8C1593.2,1190.8 1591.9,1196.9 1590.9,1202.9C1590.0,1208.9 1589.0,1212.0 1588.6,1221C1588.2,1230.0 1608.2,1251.2 1588.6,1257.2C1569.0,1263.2 1490.6,1341.0 1471,1257.2C1451.4,1173.4 1465.3,836.8 1471,754.5Z" fill="#fbeae1"/>
<path d="M1471,840.5C1476.7,807.2 1497.4,840.9 1505.3,842.8C1513.2,844.7 1514.4,848.0 1518.5,851.8C1522.6,855.6 1526.4,859.7 1529.8,865.4C1533.2,871.1 1536.2,877.5 1538.8,885.8C1541.4,894.1 1543.7,904.7 1545.6,915.2C1547.5,925.8 1548.2,937.8 1550.1,949.1C1552.0,960.4 1555.4,974.4 1556.9,983.1C1558.4,991.8 1559.6,995.6 1559.2,1001.2C1558.8,1006.9 1556.6,1012.1 1554.7,1017C1552.8,1021.9 1550.9,1027.2 1547.9,1030.6C1544.9,1034.0 1541.1,1035.9 1536.6,1037.4C1532.1,1038.9 1525.9,1038.8 1520.7,1039.6C1515.5,1040.3 1513.6,1041.5 1505.3,1041.9C1497.0,1042.4 1476.7,1075.9 1471,1042.3C1465.3,1008.7 1465.3,873.8 1471,840.5Z" fill="#fddbc7"/>
<path d="M1471,1172.4C1476.7,1159.8 1496.3,1172.2 1505.3,1172.4C1514.3,1172.6 1520.0,1172.2 1525.2,1173.5C1530.4,1174.8 1533.6,1176.9 1536.6,1180.3C1539.6,1183.7 1541.6,1188.6 1543.3,1193.9C1545.0,1199.2 1546.3,1206.0 1546.7,1212C1547.1,1218.0 1546.5,1225.6 1545.6,1230.1C1544.7,1234.6 1553.5,1236.1 1541.1,1239.1C1528.7,1242.1 1482.7,1259.3 1471,1248.2C1459.3,1237.1 1465.3,1185.0 1471,1172.4Z" fill="#fddbc7"/>
<path d="M1552.4,664C1540.0,666.3 1551.3,671.6 1552.4,677.6C1553.5,683.6 1556.9,690.8 1559.2,700.2C1561.5,709.6 1563.7,722.9 1566,734.2C1568.3,745.5 1570.5,756.8 1572.8,768.1C1575.0,779.4 1576.9,790.8 1579.5,802.1C1582.1,813.4 1585.6,824.7 1588.6,836C1591.6,847.3 1594.6,858.6 1597.6,869.9C1600.6,881.2 1603.7,892.6 1606.7,903.9C1609.7,915.2 1612.3,927.2 1615.7,937.8C1619.1,948.3 1622.6,958.5 1627.1,967.2C1631.6,975.9 1637.2,982.2 1642.9,989.8C1648.6,997.3 1655.7,1008.5 1661,1012.5C1666.3,1016.5 1668.9,1014.4 1674.6,1013.6C1680.2,1012.8 1687.7,1009.4 1694.9,1007.9C1702.1,1006.4 1710.0,1005.2 1717.6,1004.5C1725.1,1003.8 1733.4,1004.7 1740.2,1003.4C1747.0,1002.1 1752.7,999.6 1758.3,996.6C1763.9,993.6 1769.2,989.4 1774.1,985.3C1779.0,981.1 1783.9,977.0 1787.7,971.7C1791.5,966.4 1794.4,961.1 1796.7,953.6C1799.0,946.1 1799.8,936.7 1801.3,926.5C1802.8,916.3 1804.3,903.9 1805.8,892.6C1807.3,881.3 1808.8,868.0 1810.3,858.6C1811.8,849.2 1813.3,844.7 1814.8,836C1816.3,827.3 1821.7,813.4 1819.4,806.6C1817.2,799.8 1807.3,799.1 1801.3,795.3C1795.3,791.5 1789.2,788.1 1783.2,784C1777.2,779.9 1770.4,774.9 1765.1,770.4C1759.8,765.9 1756.0,761.3 1751.5,756.8C1747.0,752.3 1742.4,747.4 1737.9,743.2C1733.4,739.1 1729.6,735.3 1724.3,731.9C1719.0,728.5 1713.0,725.9 1706.2,722.9C1699.4,719.9 1690.4,716.1 1683.6,713.8C1676.8,711.5 1670.8,711.6 1665.5,709.3C1660.2,707.0 1656.4,703.6 1651.9,700.2C1647.4,696.8 1642.5,692.7 1638.4,688.9C1634.3,685.1 1629.0,681.8 1627.1,677.6C1625.2,673.5 1639.5,666.3 1627.1,664C1614.6,661.7 1564.9,661.7 1552.4,664Z" fill="#d1e5f0"/>
<path d="M1606.7,720.6C1610.8,719.9 1618.8,719.5 1624.8,720.6C1630.8,721.7 1636.9,724.8 1642.9,727.4C1648.9,730.0 1654.2,733.0 1661,736.4C1667.8,739.8 1676.4,744.4 1683.6,747.8C1690.8,751.2 1698.7,752.7 1704,756.8C1709.3,760.9 1711.1,767.3 1715.3,772.6C1719.5,777.9 1722.9,782.5 1728.9,788.5C1734.9,794.5 1744.7,802.0 1751.5,808.8C1758.3,815.6 1765.1,822.8 1769.6,829.2C1774.1,835.6 1775.8,840.5 1778.6,847.3C1781.4,854.1 1786.6,862.7 1786.6,869.9C1786.6,877.1 1781.4,883.9 1778.6,890.3C1775.8,896.7 1773.0,902.8 1769.6,908.4C1766.2,914.0 1763.2,919.7 1758.3,924.2C1753.4,928.7 1747.0,931.7 1740.2,935.5C1733.4,939.3 1724.8,943.1 1717.6,946.9C1710.4,950.7 1703.6,955.0 1697.2,958.2C1690.8,961.4 1685.1,964.8 1679.1,966.1C1673.1,967.4 1665.9,968.2 1661,966.1C1656.1,964.0 1653.5,958.7 1649.7,953.6C1645.9,948.5 1641.8,942.6 1638.4,935.5C1635.0,928.4 1632.3,919.8 1629.3,910.7C1626.3,901.7 1623.3,891.8 1620.3,881.2C1617.3,870.6 1614.2,858.6 1611.2,847.3C1608.2,836.0 1605.2,824.7 1602.2,813.4C1599.2,802.1 1595.4,788.8 1593.1,779.4C1590.8,770.0 1588.6,764.0 1588.6,756.8C1588.6,749.6 1591.2,741.7 1593.1,736.4C1595.0,731.1 1597.6,727.7 1599.9,725.1C1602.2,722.5 1602.6,721.4 1606.7,720.6Z" fill="#b1d5e7"/>
<path d="M1624.8,755.7C1628.8,751.8 1639.2,753.2 1645.2,755.7C1651.2,758.2 1655.3,764.9 1661,770.4C1666.7,775.9 1672.3,782.6 1679.1,788.5C1685.9,794.4 1697.2,800.2 1701.7,805.5C1706.2,810.8 1703.9,814.7 1706.2,820.2C1708.5,825.7 1711.5,832.6 1715.3,838.3C1719.1,843.9 1723.6,849.0 1728.9,854.1C1734.2,859.2 1745.5,864.3 1747,868.8C1748.5,873.3 1742.4,876.9 1737.9,881.2C1733.4,885.5 1726.6,890.8 1719.8,894.8C1713.0,898.8 1705.5,903.1 1697.2,905C1688.9,906.9 1676.4,907.1 1670,906.1C1663.6,905.1 1662.5,904.2 1658.7,899.3C1654.9,894.4 1651.2,884.2 1647.4,876.7C1643.6,869.2 1639.5,861.6 1636.1,854.1C1632.7,846.6 1630.1,840.2 1627.1,831.5C1624.1,822.8 1619.0,810.8 1618,802.1C1617.0,793.4 1620.3,787.1 1621.4,779.4C1622.5,771.7 1620.8,759.7 1624.8,755.7Z" fill="#92c5de"/>
</g></g>
<g clip-path="url(#cper)"><g filter="url(#soft)">
<rect x="1892.6" y="653.6" width="450.4" height="602.7" fill="#f7f7f7"/>
<path d="M2354.2,1257.2C2278.6,1349.0 1977.2,1268.5 1901.8,1257.2C1826.4,1245.9 1899.2,1199.6 1901.8,1189.4C1904.4,1179.2 1913.1,1194.1 1917.6,1196.2C1922.1,1198.3 1924.8,1201.8 1928.9,1201.8C1933.1,1201.8 1938.0,1199.0 1942.5,1196.2C1947.0,1193.4 1952.7,1188.6 1956.1,1184.8C1959.5,1181.0 1962.0,1177.3 1962.8,1173.5C1963.5,1169.7 1962.1,1167.1 1960.6,1162.2C1959.1,1157.3 1956.1,1150.9 1953.8,1144.1C1951.5,1137.3 1948.9,1129.0 1947,1121.5C1945.1,1114.0 1943.6,1105.3 1942.5,1098.9C1941.4,1092.5 1939.1,1086.4 1940.2,1083C1941.3,1079.6 1945.2,1079.6 1949.3,1078.5C1953.4,1077.4 1959.4,1077.7 1965.1,1076.2C1970.8,1074.7 1977.9,1072.1 1983.2,1069.5C1988.5,1066.9 1992.3,1063.4 1996.8,1060.4C2001.3,1057.4 2005.1,1054.0 2010.4,1051.4C2015.7,1048.8 2021.7,1046.8 2028.5,1044.6C2035.3,1042.4 2043.6,1039.0 2051.1,1038.5C2058.6,1038.0 2066.2,1041.5 2073.7,1041.9C2081.2,1042.3 2088.8,1041.1 2096.3,1040.7C2103.9,1040.3 2112.2,1039.0 2119,1039.6C2125.8,1040.2 2131.4,1042.2 2137.1,1044.1C2142.8,1046.0 2148.4,1049.4 2152.9,1050.9C2157.4,1052.4 2160.8,1054.3 2164.2,1053.2C2167.6,1052.1 2169.5,1048.6 2173.3,1044.1C2177.1,1039.6 2182.3,1033.2 2186.8,1026C2191.3,1018.9 2196.2,1010.2 2200.4,1001.2C2204.6,992.2 2208.3,982.3 2211.7,971.7C2215.1,961.1 2217.8,949.1 2220.8,937.8C2223.8,926.5 2227.2,912.8 2229.8,903.9C2232.5,895.0 2234.6,891.0 2236.7,884.7C2238.8,878.4 2240.4,872.2 2242.3,865.9C2244.2,859.6 2246.2,853.4 2248,847.1C2249.8,840.8 2251.6,834.5 2253.4,828.2C2255.2,821.9 2256.7,815.7 2258.6,809.4C2260.5,803.1 2262.4,796.9 2264.9,790.6C2267.4,784.3 2270.8,778.0 2273.7,771.7C2276.6,765.4 2279.4,759.8 2282.5,752.9C2285.6,746.0 2288.7,736.6 2292.5,730.3C2296.3,724.0 2300.8,718.8 2305.1,715.2C2309.4,711.6 2309.9,710.4 2318.3,708.9C2326.7,707.4 2349.3,615.0 2355.3,706.4C2361.3,797.8 2429.8,1165.4 2354.2,1257.2Z" fill="#e4eef3"/>
<path d="M1901.8,1078.5C1903.6,1108.4 1908.8,1078.9 1912.6,1078.5C1916.4,1078.1 1920.6,1078.1 1924.4,1076.2C1928.2,1074.3 1935.7,1070.2 1935.7,1067.2C1935.7,1064.2 1927.4,1062.7 1924.4,1058.1C1921.4,1053.5 1917.8,1046.4 1917.6,1039.6C1917.4,1032.8 1920.8,1024.5 1923.3,1017C1925.8,1009.5 1929.8,1001.9 1932.3,994.4C1934.8,986.9 1937.6,979.2 1938,971.7C1938.4,964.2 1936.9,956.6 1934.6,949.1C1932.3,941.6 1927.6,933.3 1924.4,926.5C1921.2,919.7 1919.1,912.9 1915.3,908.4C1911.5,903.9 1904.0,870.9 1901.8,899.3C1899.5,927.6 1900.0,1048.6 1901.8,1078.5Z" fill="#e4eef3"/>
<path d="M1960.6,879C1954.6,880.9 1943.7,882.0 1938,881.2C1932.3,880.5 1928.5,879.0 1926.6,874.5C1924.7,870.0 1925.1,860.5 1926.6,854.1C1928.1,847.7 1931.5,836.0 1935.7,836C1939.9,836.0 1945.1,848.5 1951.5,854.1C1957.9,859.8 1972.7,865.8 1974.2,869.9C1975.7,874.0 1966.6,877.1 1960.6,879Z" fill="#e4eef3"/>
<path d="M1962.8,1015.9C1959.0,1017.0 1954.1,1015.0 1951.5,1012.5C1948.9,1010.0 1945.5,1003.5 1947,1001.2C1948.5,998.9 1956.1,998.1 1960.6,998.9C1965.1,999.6 1973.8,1002.9 1974.2,1005.7C1974.6,1008.5 1966.6,1014.8 1962.8,1015.9Z" fill="#e4eef3"/>
<path d="M2354.2,1257.2C2334.6,1341.0 2256.2,1263.2 2236.6,1257.2C2217.0,1251.2 2237.0,1230.0 2236.6,1221C2236.2,1212.0 2235.2,1208.9 2234.3,1202.9C2233.4,1196.9 2232.0,1190.8 2230.9,1184.8C2229.8,1178.8 2227.8,1173.5 2227.6,1166.7C2227.3,1159.9 2228.8,1151.6 2229.4,1144.1C2230.0,1136.6 2230.3,1129.0 2230.9,1121.5C2231.5,1114.0 2233.2,1106.5 2233.2,1098.9C2233.2,1091.4 2231.7,1083.8 2230.9,1076.2C2230.2,1068.7 2228.9,1061.6 2228.7,1053.6C2228.5,1045.6 2228.9,1038.2 2229.8,1028.3C2230.7,1018.4 2232.4,1005.7 2234.3,994.4C2236.2,983.1 2238.4,971.7 2241.1,960.4C2243.8,949.1 2247.2,937.8 2250.2,926.5C2253.2,915.2 2256.2,903.2 2259.2,892.6C2262.2,882.0 2264.9,872.5 2268.3,863.1C2271.7,853.7 2275.4,845.0 2279.6,836C2283.8,827.0 2288.7,817.8 2293.2,808.8C2297.7,799.8 2302.2,789.2 2306.7,781.7C2311.1,774.2 2312.0,768.1 2319.9,763.6C2327.8,759.1 2348.5,672.2 2354.2,754.5C2359.9,836.8 2373.8,1173.4 2354.2,1257.2Z" fill="#d1e5f0"/>
<path d="M2354.2,1042.3C2348.5,1075.9 2328.2,1042.4 2319.9,1041.9C2311.6,1041.5 2309.7,1040.3 2304.5,1039.6C2299.3,1038.8 2293.1,1038.9 2288.6,1037.4C2284.1,1035.9 2280.3,1034.0 2277.3,1030.6C2274.3,1027.2 2272.4,1021.9 2270.5,1017C2268.6,1012.1 2266.4,1006.9 2266,1001.2C2265.6,995.6 2266.8,991.8 2268.3,983.1C2269.8,974.4 2273.2,960.4 2275.1,949.1C2277.0,937.8 2277.7,925.8 2279.6,915.2C2281.5,904.7 2283.8,894.1 2286.4,885.8C2289.0,877.5 2292.0,871.1 2295.4,865.4C2298.8,859.7 2302.6,855.6 2306.7,851.8C2310.8,848.0 2312.0,844.7 2319.9,842.8C2327.8,840.9 2348.5,807.2 2354.2,840.5C2359.9,873.8 2359.9,1008.7 2354.2,1042.3Z" fill="#b1d5e7"/>
<path d="M2354.2,1248.2C2342.5,1259.3 2296.5,1242.1 2284.1,1239.1C2271.7,1236.1 2280.5,1234.6 2279.6,1230.1C2278.7,1225.6 2278.1,1218.0 2278.5,1212C2278.9,1206.0 2280.2,1199.2 2281.9,1193.9C2283.6,1188.6 2285.6,1183.7 2288.6,1180.3C2291.6,1176.9 2294.8,1174.8 2300,1173.5C2305.2,1172.2 2310.9,1172.6 2319.9,1172.4C2328.9,1172.2 2348.5,1159.8 2354.2,1172.4C2359.9,1185.0 2365.9,1237.1 2354.2,1248.2Z" fill="#b1d5e7"/>
<path d="M2198.1,664C2185.6,666.3 2200.0,673.5 2198.1,677.6C2196.2,681.8 2190.9,685.1 2186.8,688.9C2182.7,692.7 2177.8,696.8 2173.3,700.2C2168.8,703.6 2165.0,707.0 2159.7,709.3C2154.4,711.6 2148.4,711.5 2141.6,713.8C2134.8,716.1 2125.8,719.9 2119,722.9C2112.2,725.9 2106.2,728.5 2100.9,731.9C2095.6,735.3 2091.8,739.1 2087.3,743.2C2082.8,747.4 2078.2,752.3 2073.7,756.8C2069.2,761.3 2065.4,765.9 2060.1,770.4C2054.8,774.9 2048.0,779.9 2042,784C2036.0,788.1 2029.9,791.5 2023.9,795.3C2017.9,799.1 2008.0,799.8 2005.8,806.6C2003.5,813.4 2008.9,827.3 2010.4,836C2011.9,844.7 2013.4,849.2 2014.9,858.6C2016.4,868.0 2017.9,881.3 2019.4,892.6C2020.9,903.9 2022.4,916.3 2023.9,926.5C2025.4,936.7 2026.2,946.1 2028.5,953.6C2030.8,961.1 2033.7,966.4 2037.5,971.7C2041.3,977.0 2046.2,981.1 2051.1,985.3C2056.0,989.4 2061.2,993.6 2066.9,996.6C2072.6,999.6 2078.2,1002.1 2085,1003.4C2091.8,1004.7 2100.0,1003.8 2107.6,1004.5C2115.2,1005.2 2123.1,1006.4 2130.3,1007.9C2137.5,1009.4 2144.9,1012.8 2150.6,1013.6C2156.2,1014.4 2158.9,1016.5 2164.2,1012.5C2169.5,1008.5 2176.7,997.3 2182.3,989.8C2188.0,982.2 2193.6,975.9 2198.1,967.2C2202.6,958.5 2206.1,948.3 2209.5,937.8C2212.9,927.2 2215.5,915.2 2218.5,903.9C2221.5,892.6 2224.6,881.2 2227.6,869.9C2230.6,858.6 2233.6,847.3 2236.6,836C2239.6,824.7 2243.1,813.4 2245.7,802.1C2248.3,790.8 2250.2,779.4 2252.4,768.1C2254.7,756.8 2256.9,745.5 2259.2,734.2C2261.5,722.9 2263.7,709.6 2266,700.2C2268.3,690.8 2271.7,683.6 2272.8,677.6C2273.9,671.6 2285.2,666.3 2272.8,664C2260.4,661.7 2210.6,661.7 2198.1,664Z" fill="#fbeae1"/>
<path d="M2225.3,725.1C2227.6,727.7 2230.2,731.1 2232.1,736.4C2234.0,741.7 2236.6,749.6 2236.6,756.8C2236.6,764.0 2234.4,770.0 2232.1,779.4C2229.8,788.8 2226.0,802.1 2223,813.4C2220.0,824.7 2217.0,836.0 2214,847.3C2211.0,858.6 2207.9,870.6 2204.9,881.2C2201.9,891.8 2198.9,901.7 2195.9,910.7C2192.9,919.8 2190.2,928.4 2186.8,935.5C2183.4,942.6 2179.3,948.5 2175.5,953.6C2171.7,958.7 2169.1,964.0 2164.2,966.1C2159.3,968.2 2152.1,967.4 2146.1,966.1C2140.1,964.8 2134.4,961.4 2128,958.2C2121.6,955.0 2114.8,950.7 2107.6,946.9C2100.4,943.1 2091.8,939.3 2085,935.5C2078.2,931.7 2071.8,928.7 2066.9,924.2C2062.0,919.7 2059.0,914.0 2055.6,908.4C2052.2,902.8 2049.4,896.7 2046.6,890.3C2043.8,883.9 2038.6,877.1 2038.6,869.9C2038.6,862.7 2043.8,854.1 2046.6,847.3C2049.4,840.5 2051.1,835.6 2055.6,829.2C2060.1,822.8 2066.9,815.6 2073.7,808.8C2080.5,802.0 2090.3,794.5 2096.3,788.5C2102.3,782.5 2105.8,777.9 2109.9,772.6C2114.1,767.3 2115.9,760.9 2121.2,756.8C2126.5,752.7 2134.4,751.2 2141.6,747.8C2148.8,744.4 2157.4,739.8 2164.2,736.4C2171.0,733.0 2176.3,730.0 2182.3,727.4C2188.3,724.8 2194.4,721.7 2200.4,720.6C2206.4,719.5 2214.3,719.9 2218.5,720.6C2222.7,721.4 2223.0,722.5 2225.3,725.1Z" fill="#fddbc7"/>
<path d="M2203.8,779.4C2204.9,787.1 2208.1,793.4 2207.2,802.1C2206.2,810.8 2201.1,822.8 2198.1,831.5C2195.1,840.2 2192.5,846.6 2189.1,854.1C2185.7,861.6 2181.6,869.2 2177.8,876.7C2174.0,884.2 2170.3,894.4 2166.5,899.3C2162.7,904.2 2161.6,905.1 2155.2,906.1C2148.8,907.1 2136.3,906.9 2128,905C2119.7,903.1 2112.2,898.8 2105.4,894.8C2098.6,890.8 2091.8,885.5 2087.3,881.2C2082.8,876.9 2076.7,873.3 2078.2,868.8C2079.7,864.3 2091.0,859.2 2096.3,854.1C2101.6,849.0 2106.1,843.9 2109.9,838.3C2113.7,832.6 2116.7,825.7 2119,820.2C2121.3,814.7 2119.0,810.8 2123.5,805.5C2128.0,800.2 2139.3,794.4 2146.1,788.5C2152.9,782.6 2158.5,775.9 2164.2,770.4C2169.8,764.9 2174.0,758.2 2180,755.7C2186.0,753.2 2196.4,751.8 2200.4,755.7C2204.4,759.7 2202.7,771.7 2203.8,779.4Z" fill="#f8c0a4"/>
</g></g>
<g filter="url(#tsoft)">
<rect x="1505.3" y="673.6" width="817.7" height="562.7" fill="none" stroke="#6b6b6b" stroke-width="3.6"/>
<path d="M1503.5,1236.3 H2324.8" stroke="#3c3c3c" stroke-width="3.6" fill="none"/>
<path d="M1684.8,1236.3 v-7 M1684.8,673.6 v7 M1912.6,1236.3 v-7 M1912.6,673.6 v7 M2140.4,1236.3 v-7 M2140.4,673.6 v7 M1505.3,785.1 h7 M2323,785.1 h-7 M1505.3,870.4 h7 M2323,870.4 h-7 M1505.3,953.1 h7 M2323,953.1 h-7 M1505.3,1066.7 h7 M2323,1066.7 h-7 M1505.3,1152 h7 M2323,1152 h-7" stroke="#444" stroke-width="3.2" fill="none"/>
<text x="1711.1" y="1286.8" text-anchor="end" class="tk">−50</text>
<text x="1913.5" y="1286.8" text-anchor="middle" class="tk">0</text>
<text x="2138.2" y="1286.8" text-anchor="middle" class="tk">50</text>
<text x="1495.5" y="800.6" text-anchor="end" class="tk">25</text>
<text x="1495.5" y="885.9" text-anchor="end" class="tk">50</text>
<text x="1495.5" y="968.6" text-anchor="end" class="tk">100</text>
<text x="1495.5" y="1082.2" text-anchor="end" class="tk">250</text>
<text x="1495.5" y="1167.5" text-anchor="end" class="tk">500</text>
<text x="1495.5" y="1250.8" text-anchor="end" class="tk">1000</text>
<text transform="translate(1376.3,956.7) rotate(-90)" text-anchor="middle" class="axp">Pressure (hPa)</text>
<text x="1559.5" y="1203.7" class="pl">(e)</text>
</g>
</g>
<g id="panel-f">
<clipPath id="cpf"><rect x="1522" y="1313.7" width="819" height="563.8"/></clipPath>
<clipPath id="cpfl"><rect x="1522" y="1313.7" width="409" height="563.8"/></clipPath>
<clipPath id="cpfr"><rect x="1931" y="1313.7" width="410" height="563.8"/></clipPath>
<g clip-path="url(#cpfl)"><g filter="url(#soft)">
<rect x="1502" y="1293.7" width="449" height="603.8" fill="#f7f7f7"/>
<path d="M1491,1304C1511.0,1289.3 1590.9,1301.7 1610.9,1304C1630.9,1306.3 1611.7,1311.6 1610.9,1317.6C1610.1,1323.6 1608.6,1332.7 1606.3,1340.2C1604.0,1347.8 1601.1,1356.5 1597.3,1362.9C1593.5,1369.3 1589.4,1374.6 1583.7,1378.7C1578.0,1382.8 1570.5,1385.7 1563.3,1387.8C1556.1,1389.9 1547.5,1390.5 1540.7,1391.2C1533.9,1392.0 1530.5,1392.1 1522.2,1392.3C1513.9,1392.5 1496.2,1407.0 1491,1392.3C1485.8,1377.6 1471.0,1318.7 1491,1304Z" fill="#e4eef3"/>
<path d="M1491,1304C1508.0,1294.6 1575.8,1301.7 1592.8,1304C1609.8,1306.3 1593.9,1312.3 1592.8,1317.6C1591.7,1322.9 1589.0,1330.4 1586,1335.7C1583.0,1341.0 1579.6,1345.5 1574.7,1349.3C1569.8,1353.1 1563.4,1356.4 1556.6,1358.3C1549.8,1360.2 1539.6,1360.2 1533.9,1360.6C1528.2,1361.0 1529.4,1360.6 1522.2,1360.6C1515.0,1360.6 1496.2,1370.0 1491,1360.6C1485.8,1351.2 1474.0,1313.4 1491,1304Z" fill="#d1e5f0"/>
<path d="M1491,1304C1502.7,1299.8 1549.7,1301.7 1561.1,1304C1572.5,1306.3 1561.4,1313.8 1559.3,1317.6C1557.2,1321.4 1553.2,1324.7 1548.6,1326.7C1544.0,1328.7 1536.1,1329.0 1531.7,1329.4C1527.3,1329.9 1529.0,1329.4 1522.2,1329.4C1515.4,1329.4 1496.2,1333.6 1491,1329.4C1485.8,1325.2 1479.3,1308.2 1491,1304Z" fill="#b1d5e7"/>
<path d="M1787.3,1304C1765.6,1306.3 1786.2,1312.3 1787.3,1317.6C1788.4,1322.9 1789.9,1329.7 1794.1,1335.7C1798.2,1341.7 1806.5,1348.1 1812.2,1353.8C1817.9,1359.5 1823.6,1364.4 1828.1,1369.7C1832.6,1375.0 1835.3,1381.4 1839.4,1385.5C1843.5,1389.6 1847.2,1392.2 1852.9,1394.5C1858.6,1396.8 1866.1,1398.1 1873.3,1399.1C1880.5,1400.0 1888.4,1400.6 1895.9,1400.2C1903.5,1399.8 1913.5,1398.1 1918.6,1396.8C1923.7,1395.5 1926.1,1396.1 1926.5,1392.3C1926.9,1388.5 1922.3,1381.0 1920.8,1374.2C1919.3,1367.4 1918.2,1359.1 1917.4,1351.6C1916.7,1344.0 1916.3,1336.8 1916.3,1328.9C1916.3,1321.0 1938.9,1308.2 1917.4,1304C1895.9,1299.8 1809.0,1301.7 1787.3,1304Z" fill="#e4eef3"/>
<path d="M1803.2,1304C1794.2,1306.3 1801.7,1313.8 1803.2,1317.6C1804.7,1321.4 1808.8,1324.0 1812.2,1326.7C1815.6,1329.4 1819.3,1332.0 1823.5,1333.5C1827.7,1335.0 1832.9,1335.9 1837.1,1335.7C1841.2,1335.5 1845.4,1334.2 1848.4,1332.3C1851.4,1330.4 1853.7,1326.9 1855.2,1324.4C1856.7,1322.0 1857.1,1321.0 1857.5,1317.6C1857.9,1314.2 1866.5,1306.3 1857.5,1304C1848.5,1301.7 1812.2,1301.7 1803.2,1304Z" fill="#d1e5f0"/>
<path d="M1866.5,1549.5C1868.4,1547.4 1877.8,1545.6 1884.6,1545C1891.4,1544.4 1900.0,1545.5 1907.2,1546.1C1914.4,1546.7 1925.7,1545.8 1927.6,1548.4C1929.5,1551.1 1922.4,1558.2 1918.6,1562C1914.8,1565.8 1909.2,1569.1 1905,1571C1900.8,1572.9 1897.5,1574.0 1893.7,1573.3C1889.9,1572.5 1885.8,1569.2 1882.4,1566.5C1879.0,1563.8 1876.0,1560.2 1873.3,1557.4C1870.6,1554.6 1864.6,1551.6 1866.5,1549.5Z" fill="#e4eef3"/>
<path d="M1920.8,1625.3C1923.1,1624.9 1929.5,1635.5 1929.9,1641.2C1930.3,1646.9 1925.4,1658.9 1923.1,1659.3C1920.8,1659.7 1916.7,1649.1 1916.3,1643.4C1915.9,1637.7 1918.5,1625.7 1920.8,1625.3Z" fill="#e4eef3"/>
<path d="M1491,1781.9C1496.2,1777.8 1513.2,1781.2 1522.2,1781.9C1531.2,1782.7 1537.6,1784.9 1545.2,1786.4C1552.8,1787.9 1560.4,1790.2 1567.9,1790.9C1575.5,1791.7 1584.8,1792.4 1590.5,1790.9C1596.2,1789.4 1598.0,1786.1 1601.8,1781.9C1605.6,1777.8 1608.9,1770.5 1613.1,1766C1617.2,1761.5 1621.4,1758.5 1626.7,1754.7C1632.0,1750.9 1638.8,1746.4 1644.8,1743.4C1650.8,1740.4 1656.9,1738.5 1662.9,1736.6C1668.9,1734.7 1676.5,1734.7 1681,1732.1C1685.5,1729.5 1688.1,1726.5 1690,1720.8C1691.9,1715.1 1691.2,1704.5 1692.3,1698.1C1693.4,1691.7 1694.2,1686.2 1696.8,1682.3C1699.4,1678.3 1703.2,1675.9 1708.1,1674.4C1713.0,1672.9 1720.2,1672.4 1726.2,1673.3C1732.2,1674.2 1738.3,1677.8 1744.3,1680C1750.3,1682.2 1756.0,1685.3 1762.4,1686.8C1768.8,1688.3 1776.0,1689.1 1782.8,1689.1C1789.6,1689.1 1796.8,1687.9 1803.2,1686.8C1809.6,1685.7 1815.3,1683.0 1821.3,1682.3C1827.3,1681.5 1832.6,1681.5 1839.4,1682.3C1846.2,1683.0 1855.2,1684.9 1862,1686.8C1868.8,1688.7 1874.4,1690.6 1880.1,1693.6C1885.8,1696.6 1890.6,1701.1 1895.9,1704.9C1901.2,1708.7 1907.3,1712.8 1911.8,1716.2C1916.3,1719.6 1920.5,1721.5 1923.1,1725.3C1925.7,1729.1 1926.8,1729.1 1927.6,1738.9C1928.3,1748.7 1928.7,1773.2 1927.6,1784.1C1926.5,1795.0 1924.2,1800.7 1920.8,1804.5C1917.4,1808.3 1911.7,1804.8 1907.2,1806.7C1902.7,1808.6 1895.2,1812.0 1893.7,1815.8C1892.2,1819.6 1896.0,1824.9 1898.2,1829.4C1900.5,1833.9 1903.8,1838.4 1907.2,1842.9C1910.6,1847.4 1915.6,1852.0 1918.6,1856.5C1921.6,1861.0 1923.2,1866.3 1925.3,1870.1C1927.4,1873.9 1930.0,1874.6 1931,1879.1C1932.0,1883.6 1980.2,1894.2 1931,1897.2C1881.8,1900.2 1684.9,1900.5 1635.7,1897.2C1586.5,1893.9 1637.2,1881.4 1635.7,1877.3C1634.2,1873.2 1632.4,1874.7 1626.7,1872.4C1621.0,1870.1 1612.4,1866.7 1601.8,1863.3C1591.2,1859.9 1572.0,1855.4 1563.3,1852C1554.6,1848.6 1554.7,1847.8 1549.8,1842.9C1544.9,1838.0 1538.5,1827.9 1533.9,1822.6C1529.3,1817.3 1529.4,1813.9 1522.2,1811.3C1515.0,1808.7 1496.2,1811.6 1491,1806.7C1485.8,1801.8 1485.8,1786.0 1491,1781.9Z" fill="#e4eef3"/>
<path d="M1634.6,1304C1619.1,1306.3 1634.2,1311.6 1633.5,1317.6C1632.8,1323.6 1631.0,1330.8 1630.1,1340.2C1629.1,1349.6 1628.7,1362.9 1627.8,1374.2C1626.9,1385.5 1627.7,1399.4 1624.9,1408.1C1622.1,1416.8 1616.6,1422.0 1610.9,1426.2C1605.2,1430.4 1597.7,1432.6 1590.5,1433C1583.3,1433.4 1575.5,1430.0 1567.9,1428.5C1560.4,1427.0 1552.8,1424.8 1545.2,1424C1537.6,1423.2 1531.2,1424.0 1522.2,1424C1513.2,1424.0 1496.2,1371.5 1491,1424C1485.8,1476.5 1485.8,1686.4 1491,1738.9C1496.2,1791.4 1513.2,1738.9 1522.2,1738.9C1531.2,1738.9 1537.6,1739.3 1545.2,1738.9C1552.8,1738.5 1560.4,1738.1 1567.9,1736.6C1575.5,1735.1 1583.0,1732.4 1590.5,1729.8C1598.0,1727.2 1607.1,1724.6 1613.1,1720.8C1619.1,1717.0 1622.9,1712.2 1626.7,1707.2C1630.5,1702.2 1634.6,1699.3 1635.7,1690.9C1636.8,1682.5 1634.6,1668.3 1633.5,1657C1632.4,1645.7 1630.1,1634.4 1629,1623.1C1627.9,1611.8 1626.7,1600.4 1626.7,1589.1C1626.7,1577.8 1627.5,1564.6 1629,1555.2C1630.5,1545.8 1632.7,1537.9 1635.7,1532.6C1638.7,1527.3 1643.3,1524.6 1647.1,1523.5C1650.9,1522.4 1654.6,1523.2 1658.4,1525.8C1662.2,1528.4 1665.9,1534.4 1669.7,1539.3C1673.5,1544.2 1677.2,1549.5 1681,1555.2C1684.8,1560.9 1688.5,1566.9 1692.3,1573.3C1696.1,1579.7 1699.8,1587.2 1703.6,1593.6C1707.4,1600.0 1711.1,1606.8 1714.9,1611.7C1718.7,1616.6 1722.1,1619.7 1726.2,1623.1C1730.3,1626.5 1735.3,1629.1 1739.8,1632.1C1744.3,1635.1 1748.9,1638.6 1753.4,1641.2C1757.9,1643.8 1762.1,1646.6 1767,1647.9C1771.9,1649.2 1778.3,1649.8 1782.8,1649.1C1787.3,1648.3 1790.3,1645.9 1794.1,1643.4C1797.9,1641.0 1801.6,1638.6 1805.4,1634.4C1809.2,1630.2 1813.7,1624.2 1816.7,1618.5C1819.7,1612.8 1821.6,1607.2 1823.5,1600.4C1825.4,1593.6 1827.0,1585.3 1828.1,1577.8C1829.2,1570.3 1829.2,1560.8 1830.3,1555.2C1831.4,1549.6 1832.5,1547.7 1834.8,1543.9C1837.1,1540.1 1840.1,1537.1 1843.9,1532.6C1847.7,1528.1 1853.0,1522.4 1857.5,1516.7C1862.0,1511.0 1866.5,1505.4 1871,1498.6C1875.5,1491.8 1880.8,1483.5 1884.6,1476C1888.4,1468.5 1892.0,1458.3 1893.7,1453.4C1895.4,1448.5 1896.3,1449.6 1894.8,1446.6C1893.3,1443.6 1889.3,1439.1 1884.6,1435.3C1879.9,1431.5 1872.5,1427.8 1866.5,1424C1860.5,1420.2 1854.4,1416.0 1848.4,1412.6C1842.4,1409.2 1836.3,1407.0 1830.3,1403.6C1824.3,1400.2 1818.2,1396.4 1812.2,1392.3C1806.2,1388.2 1800.1,1383.2 1794.1,1378.7C1788.1,1374.2 1781.7,1369.2 1776,1365.1C1770.3,1360.9 1765.1,1357.9 1760.2,1353.8C1755.3,1349.7 1750.8,1344.3 1746.6,1340.2C1742.4,1336.1 1738.7,1332.7 1735.3,1328.9C1731.9,1325.1 1727.7,1321.8 1726.2,1317.6C1724.7,1313.4 1741.5,1306.3 1726.2,1304C1710.9,1301.7 1650.0,1301.7 1634.6,1304Z" fill="#fbeae1"/>
<path d="M1685.5,1304C1679.5,1306.3 1686.2,1309.7 1685.5,1317.6C1684.8,1325.5 1682.5,1340.3 1681,1351.6C1679.5,1362.9 1677.6,1374.2 1676.5,1385.5C1675.4,1396.8 1674.2,1408.1 1674.2,1419.4C1674.2,1430.7 1675.4,1442.1 1676.5,1453.4C1677.6,1464.7 1679.1,1477.9 1681,1487.3C1682.9,1496.7 1685.2,1502.4 1687.8,1509.9C1690.4,1517.5 1693.4,1525.8 1696.8,1532.6C1700.2,1539.4 1703.9,1545.0 1708.1,1550.7C1712.2,1556.4 1716.8,1561.6 1721.7,1566.5C1726.6,1571.4 1731.9,1576.3 1737.6,1580.1C1743.3,1583.9 1750.0,1587.2 1755.7,1589.1C1761.4,1591.0 1766.6,1592.2 1771.5,1591.4C1776.4,1590.7 1781.7,1588.0 1785.1,1584.6C1788.5,1581.2 1789.7,1575.9 1791.9,1571C1794.2,1566.1 1795.2,1560.1 1798.6,1555.2C1802.0,1550.3 1807.7,1546.1 1812.2,1541.6C1816.7,1537.1 1821.3,1532.9 1825.8,1528C1830.3,1523.1 1834.9,1517.9 1839.4,1512.2C1843.9,1506.5 1848.4,1500.1 1852.9,1494.1C1857.4,1488.1 1862.3,1482.0 1866.5,1476C1870.7,1470.0 1875.1,1462.8 1877.8,1457.9C1880.5,1453.0 1883.2,1450.0 1882.4,1446.6C1881.7,1443.2 1877.5,1440.9 1873.3,1437.5C1869.1,1434.1 1863.2,1430.0 1857.5,1426.2C1851.8,1422.4 1846.2,1419.1 1839.4,1414.9C1832.6,1410.8 1824.2,1406.2 1816.7,1401.3C1809.2,1396.4 1801.6,1390.8 1794.1,1385.5C1786.6,1380.2 1779.0,1375.4 1771.5,1369.7C1764.0,1364.0 1755.7,1357.6 1748.9,1351.6C1742.1,1345.6 1735.3,1339.2 1730.8,1333.5C1726.3,1327.8 1723.2,1322.5 1721.7,1317.6C1720.2,1312.7 1727.7,1306.3 1721.7,1304C1715.7,1301.7 1691.5,1301.7 1685.5,1304Z" fill="#fddbc7"/>
<path d="M1724,1385.5C1728.9,1383.0 1736.1,1383.7 1742.1,1384.4C1748.1,1385.2 1753.4,1387.2 1760.2,1390C1767.0,1392.8 1775.3,1397.1 1782.8,1401.3C1790.3,1405.5 1797.9,1410.8 1805.4,1414.9C1813.0,1419.1 1820.5,1422.8 1828.1,1426.2C1835.6,1429.6 1843.9,1432.1 1850.7,1435.3C1857.5,1438.5 1867.3,1441.0 1868.8,1445.5C1870.3,1450.0 1863.5,1456.6 1859.7,1462.4C1855.9,1468.2 1851.1,1474.5 1846.2,1480.5C1841.3,1486.5 1835.2,1492.9 1830.3,1498.6C1825.4,1504.3 1821.6,1509.2 1816.7,1514.5C1811.8,1519.8 1806.6,1526.2 1800.9,1530.3C1795.2,1534.4 1789.6,1537.6 1782.8,1539.3C1776.0,1541.0 1767.4,1541.2 1760.2,1540.5C1753.0,1539.8 1745.5,1537.6 1739.8,1534.8C1734.1,1532.0 1730.0,1528.0 1726.2,1523.5C1722.4,1519.0 1719.8,1513.7 1717.2,1507.7C1714.6,1501.7 1712.7,1494.5 1710.4,1487.3C1708.1,1480.1 1705.1,1472.2 1703.6,1464.7C1702.1,1457.2 1701.0,1449.6 1701.4,1442.1C1701.8,1434.5 1704.0,1426.6 1705.9,1419.4C1707.8,1412.2 1709.7,1404.8 1712.7,1399.1C1715.7,1393.4 1719.1,1388.0 1724,1385.5Z" fill="#f8c0a4"/>
<path d="M1744.3,1424C1748.8,1422.7 1755.6,1422.4 1762.4,1422.8C1769.2,1423.2 1776.8,1424.5 1785.1,1426.2C1793.4,1427.9 1803.9,1431.1 1812.2,1433C1820.5,1434.9 1828.0,1435.4 1834.8,1437.5C1841.6,1439.6 1851.4,1441.3 1852.9,1445.5C1854.4,1449.7 1848.0,1456.9 1843.9,1462.4C1839.8,1467.9 1833.4,1473.0 1828.1,1478.3C1822.8,1483.6 1817.9,1488.8 1812.2,1494.1C1806.5,1499.4 1800.1,1506.1 1794.1,1509.9C1788.1,1513.7 1782.0,1515.8 1776,1516.7C1770.0,1517.7 1762.8,1517.1 1757.9,1515.6C1753.0,1514.1 1749.6,1511.7 1746.6,1507.7C1743.6,1503.7 1742.1,1497.8 1739.8,1491.8C1737.5,1485.8 1734.9,1477.9 1733,1471.5C1731.1,1465.1 1729.2,1458.3 1728.5,1453.4C1727.8,1448.5 1727.4,1445.9 1728.5,1442.1C1729.6,1438.3 1732.7,1433.7 1735.3,1430.7C1737.9,1427.7 1739.8,1425.3 1744.3,1424Z" fill="#f4a582"/>
<path d="M1771.5,1446.1C1774.0,1444.8 1782.1,1444.6 1789.6,1444.3C1797.1,1444.0 1809.7,1444.0 1816.7,1444.3C1823.7,1444.6 1831.4,1444.6 1831.4,1446.1C1831.4,1447.6 1822.2,1451.2 1816.7,1453.4C1811.2,1455.6 1804.2,1458.2 1798.6,1459C1792.9,1459.8 1786.8,1459.0 1782.8,1457.9C1778.8,1456.8 1776.8,1454.2 1774.9,1452.2C1773.0,1450.2 1769.0,1447.4 1771.5,1446.1Z" fill="#e37d61"/>
<path d="M1491,1453.4C1496.2,1410.8 1515.0,1454.1 1522.2,1455.6C1529.4,1457.1 1529.7,1459.0 1533.9,1462.4C1538.1,1465.8 1543.0,1470.0 1547.5,1476C1552.0,1482.0 1556.9,1490.3 1561.1,1498.6C1565.2,1506.9 1568.6,1516.4 1572.4,1525.8C1576.2,1535.2 1580.3,1544.7 1583.7,1555.2C1587.1,1565.8 1590.5,1577.8 1592.8,1589.1C1595.1,1600.4 1596.5,1611.8 1597.3,1623.1C1598.0,1634.4 1598.4,1647.6 1597.3,1657C1596.2,1666.4 1593.2,1672.8 1590.5,1679.6C1587.8,1686.4 1583.7,1693.5 1581.4,1697.7C1579.1,1701.9 1581.0,1702.4 1576.9,1704.9C1572.8,1707.4 1563.8,1711.7 1556.6,1712.9C1549.4,1714.1 1539.6,1712.5 1533.9,1712.2C1528.2,1711.9 1529.4,1711.5 1522.2,1711.3C1515.0,1711.1 1496.2,1754.3 1491,1711.3C1485.8,1668.3 1485.8,1496.0 1491,1453.4Z" fill="#fddbc7"/>
<path d="M1491,1507.7C1496.2,1476.0 1515.0,1508.0 1522.2,1509.9C1529.4,1511.8 1529.7,1514.1 1533.9,1519C1538.1,1523.9 1543.3,1531.4 1547.5,1539.3C1551.7,1547.2 1555.4,1556.3 1558.8,1566.5C1562.2,1576.7 1565.2,1589.1 1567.9,1600.4C1570.6,1611.7 1573.4,1625.0 1574.7,1634.4C1576.0,1643.8 1576.2,1649.5 1575.8,1657C1575.4,1664.5 1573.7,1674.6 1572.4,1679.6C1571.1,1684.6 1571.3,1683.9 1567.9,1686.8C1564.5,1689.7 1557.7,1694.9 1552,1697C1546.3,1699.1 1538.9,1698.7 1533.9,1699.3C1528.9,1699.9 1529.4,1700.2 1522.2,1700.4C1515.0,1700.6 1496.2,1732.5 1491,1700.4C1485.8,1668.3 1485.8,1539.5 1491,1507.7Z" fill="#f8c0a4"/>
<path d="M1491,1576.7C1496.2,1558.5 1515.4,1576.9 1522.2,1577.8C1529.0,1578.7 1528.6,1579.3 1531.7,1582.3C1534.8,1585.3 1538.1,1589.9 1540.7,1595.9C1543.3,1601.9 1545.6,1610.6 1547.5,1618.5C1549.4,1626.4 1551.0,1637.0 1552,1643.4C1553.0,1649.8 1553.0,1656.2 1553.2,1657C1553.4,1657.8 1553.8,1646.8 1553.2,1648.4C1552.6,1650.0 1551.5,1661.2 1549.8,1666.5C1548.1,1671.8 1546.0,1676.8 1543,1680C1540.0,1683.2 1535.2,1684.6 1531.7,1685.7C1528.2,1686.8 1529.0,1686.6 1522.2,1686.8C1515.4,1687.0 1496.2,1705.1 1491,1686.8C1485.8,1668.5 1485.8,1594.9 1491,1576.7Z" fill="#f4a582"/>
</g></g>
<g clip-path="url(#cpfr)"><g filter="url(#soft)">
<rect x="1911" y="1293.7" width="450" height="603.8" fill="#e4eef3"/>
<path d="M2371,1392.3C2365.8,1407.0 2348.1,1392.5 2339.8,1392.3C2331.5,1392.1 2328.2,1392.0 2321.3,1391.2C2314.5,1390.5 2305.9,1389.9 2298.7,1387.8C2291.5,1385.7 2284.0,1382.8 2278.3,1378.7C2272.6,1374.6 2268.5,1369.3 2264.7,1362.9C2260.9,1356.5 2258.0,1347.8 2255.7,1340.2C2253.4,1332.7 2251.9,1323.6 2251.1,1317.6C2250.3,1311.6 2231.1,1306.3 2251.1,1304C2271.1,1301.7 2351.0,1289.3 2371,1304C2391.0,1318.7 2376.2,1377.6 2371,1392.3Z" fill="#f7f7f7"/>
<path d="M2371,1360.6C2365.8,1370.0 2347.0,1360.6 2339.8,1360.6C2332.7,1360.6 2333.8,1361.0 2328.1,1360.6C2322.4,1360.2 2312.2,1360.2 2305.4,1358.3C2298.6,1356.4 2292.2,1353.1 2287.3,1349.3C2282.4,1345.5 2279.0,1341.0 2276,1335.7C2273.0,1330.4 2270.3,1322.9 2269.2,1317.6C2268.1,1312.3 2252.2,1306.3 2269.2,1304C2286.2,1301.7 2354.0,1294.6 2371,1304C2388.0,1313.4 2376.2,1351.2 2371,1360.6Z" fill="#fbeae1"/>
<path d="M2371,1329.4C2365.8,1333.6 2346.6,1329.4 2339.8,1329.4C2333.0,1329.4 2334.7,1329.9 2330.3,1329.4C2325.9,1329.0 2318.0,1328.7 2313.4,1326.7C2308.8,1324.7 2304.8,1321.4 2302.7,1317.6C2300.6,1313.8 2289.5,1306.3 2300.9,1304C2312.3,1301.7 2359.3,1299.8 2371,1304C2382.7,1308.2 2376.2,1325.2 2371,1329.4Z" fill="#fddbc7"/>
<path d="M1944.6,1304C1923.1,1308.2 1945.7,1321.0 1945.7,1328.9C1945.7,1336.8 1945.3,1344.0 1944.6,1351.6C1943.8,1359.1 1942.7,1367.4 1941.2,1374.2C1939.7,1381.0 1935.1,1388.5 1935.5,1392.3C1935.9,1396.1 1938.3,1395.5 1943.4,1396.8C1948.5,1398.1 1958.5,1399.8 1966.1,1400.2C1973.6,1400.6 1981.5,1400.0 1988.7,1399.1C1995.9,1398.1 2003.4,1396.8 2009.1,1394.5C2014.8,1392.2 2018.5,1389.6 2022.6,1385.5C2026.7,1381.4 2029.4,1375.0 2033.9,1369.7C2038.4,1364.4 2044.1,1359.5 2049.8,1353.8C2055.5,1348.1 2063.8,1341.7 2067.9,1335.7C2072.1,1329.7 2073.6,1322.9 2074.7,1317.6C2075.8,1312.3 2096.4,1306.3 2074.7,1304C2053.0,1301.7 1966.1,1299.8 1944.6,1304Z" fill="#f7f7f7"/>
<path d="M2004.5,1304C1995.5,1306.3 2004.1,1314.2 2004.5,1317.6C2004.9,1321.0 2005.3,1322.0 2006.8,1324.4C2008.3,1326.9 2010.6,1330.4 2013.6,1332.3C2016.6,1334.2 2020.8,1335.5 2024.9,1335.7C2029.1,1335.9 2034.3,1335.0 2038.5,1333.5C2042.7,1332.0 2046.4,1329.4 2049.8,1326.7C2053.2,1324.0 2057.3,1321.4 2058.8,1317.6C2060.3,1313.8 2067.9,1306.3 2058.8,1304C2049.8,1301.7 2013.5,1301.7 2004.5,1304Z" fill="#fbeae1"/>
<path d="M1988.7,1557.4C1986.0,1560.2 1983.0,1563.8 1979.6,1566.5C1976.2,1569.2 1972.1,1572.5 1968.3,1573.3C1964.5,1574.0 1961.2,1572.9 1957,1571C1952.8,1569.1 1947.2,1565.8 1943.4,1562C1939.6,1558.2 1932.5,1551.1 1934.4,1548.4C1936.3,1545.8 1947.6,1546.7 1954.8,1546.1C1962.0,1545.5 1970.6,1544.4 1977.4,1545C1984.2,1545.6 1993.6,1547.4 1995.5,1549.5C1997.4,1551.6 1991.4,1554.6 1988.7,1557.4Z" fill="#f7f7f7"/>
<path d="M1945.7,1643.4C1945.3,1649.1 1941.2,1659.7 1938.9,1659.3C1936.6,1658.9 1931.7,1646.9 1932.1,1641.2C1932.5,1635.5 1938.9,1624.9 1941.2,1625.3C1943.5,1625.7 1946.1,1637.7 1945.7,1643.4Z" fill="#f7f7f7"/>
<path d="M2371,1806.7C2365.8,1811.6 2347.0,1808.7 2339.8,1811.3C2332.7,1813.9 2332.7,1817.3 2328.1,1822.6C2323.5,1827.9 2317.1,1838.0 2312.2,1842.9C2307.3,1847.8 2307.4,1848.6 2298.7,1852C2290.0,1855.4 2270.8,1859.9 2260.2,1863.3C2249.6,1866.7 2241.0,1870.1 2235.3,1872.4C2229.7,1874.7 2227.8,1873.2 2226.3,1877.3C2224.8,1881.4 2275.5,1893.9 2226.3,1897.2C2177.1,1900.5 1980.2,1900.2 1931,1897.2C1881.8,1894.2 1930.0,1883.6 1931,1879.1C1932.0,1874.6 1934.6,1873.9 1936.7,1870.1C1938.8,1866.3 1940.4,1861.0 1943.4,1856.5C1946.4,1852.0 1951.4,1847.4 1954.8,1842.9C1958.2,1838.4 1961.5,1833.9 1963.8,1829.4C1966.0,1824.9 1969.8,1819.6 1968.3,1815.8C1966.8,1812.0 1959.3,1808.6 1954.8,1806.7C1950.3,1804.8 1944.6,1808.3 1941.2,1804.5C1937.8,1800.7 1935.5,1795.0 1934.4,1784.1C1933.3,1773.2 1933.7,1748.7 1934.4,1738.9C1935.2,1729.1 1936.3,1729.1 1938.9,1725.3C1941.5,1721.5 1945.7,1719.6 1950.2,1716.2C1954.7,1712.8 1960.8,1708.7 1966.1,1704.9C1971.4,1701.1 1976.2,1696.6 1981.9,1693.6C1987.6,1690.6 1993.2,1688.7 2000,1686.8C2006.8,1684.9 2015.8,1683.0 2022.6,1682.3C2029.4,1681.5 2034.7,1681.5 2040.7,1682.3C2046.7,1683.0 2052.4,1685.7 2058.8,1686.8C2065.2,1687.9 2072.4,1689.1 2079.2,1689.1C2086.0,1689.1 2093.2,1688.3 2099.6,1686.8C2106.0,1685.3 2111.7,1682.2 2117.7,1680C2123.7,1677.8 2129.8,1674.2 2135.8,1673.3C2141.8,1672.4 2149.0,1672.9 2153.9,1674.4C2158.8,1675.9 2162.6,1678.3 2165.2,1682.3C2167.8,1686.2 2168.6,1691.7 2169.7,1698.1C2170.8,1704.5 2170.1,1715.1 2172,1720.8C2173.9,1726.5 2176.5,1729.5 2181,1732.1C2185.5,1734.7 2193.1,1734.7 2199.1,1736.6C2205.1,1738.5 2211.2,1740.4 2217.2,1743.4C2223.2,1746.4 2230.0,1750.9 2235.3,1754.7C2240.6,1758.5 2244.8,1761.5 2248.9,1766C2253.1,1770.5 2256.4,1777.8 2260.2,1781.9C2264.0,1786.1 2265.8,1789.4 2271.5,1790.9C2277.2,1792.4 2286.5,1791.7 2294.1,1790.9C2301.7,1790.2 2309.2,1787.9 2316.8,1786.4C2324.4,1784.9 2330.8,1782.7 2339.8,1781.9C2348.8,1781.2 2365.8,1777.8 2371,1781.9C2376.2,1786.0 2376.2,1801.8 2371,1806.7Z" fill="#f7f7f7"/>
<path d="M2135.8,1304C2120.5,1306.3 2137.3,1313.4 2135.8,1317.6C2134.3,1321.8 2130.1,1325.1 2126.7,1328.9C2123.3,1332.7 2119.6,1336.1 2115.4,1340.2C2111.2,1344.3 2106.7,1349.7 2101.8,1353.8C2096.9,1357.9 2091.7,1360.9 2086,1365.1C2080.3,1369.2 2073.9,1374.2 2067.9,1378.7C2061.9,1383.2 2055.8,1388.2 2049.8,1392.3C2043.8,1396.4 2037.7,1400.2 2031.7,1403.6C2025.7,1407.0 2019.6,1409.2 2013.6,1412.6C2007.6,1416.0 2001.5,1420.2 1995.5,1424C1989.5,1427.8 1982.1,1431.5 1977.4,1435.3C1972.7,1439.1 1968.7,1443.6 1967.2,1446.6C1965.7,1449.6 1966.6,1448.5 1968.3,1453.4C1970.0,1458.3 1973.6,1468.5 1977.4,1476C1981.2,1483.5 1986.5,1491.8 1991,1498.6C1995.5,1505.4 2000.0,1511.0 2004.5,1516.7C2009.0,1522.4 2014.3,1528.1 2018.1,1532.6C2021.9,1537.1 2024.9,1540.1 2027.2,1543.9C2029.5,1547.7 2030.6,1549.6 2031.7,1555.2C2032.8,1560.8 2032.8,1570.3 2033.9,1577.8C2035.0,1585.3 2036.6,1593.6 2038.5,1600.4C2040.4,1607.2 2042.3,1612.8 2045.3,1618.5C2048.3,1624.2 2052.8,1630.2 2056.6,1634.4C2060.4,1638.6 2064.1,1641.0 2067.9,1643.4C2071.7,1645.9 2074.7,1648.3 2079.2,1649.1C2083.7,1649.8 2090.1,1649.2 2095,1647.9C2099.9,1646.6 2104.1,1643.8 2108.6,1641.2C2113.1,1638.6 2117.7,1635.1 2122.2,1632.1C2126.7,1629.1 2131.7,1626.5 2135.8,1623.1C2140.0,1619.7 2143.3,1616.6 2147.1,1611.7C2150.9,1606.8 2154.6,1600.0 2158.4,1593.6C2162.2,1587.2 2165.9,1579.7 2169.7,1573.3C2173.5,1566.9 2177.2,1560.9 2181,1555.2C2184.8,1549.5 2188.5,1544.2 2192.3,1539.3C2196.1,1534.4 2199.8,1528.4 2203.6,1525.8C2207.4,1523.2 2211.1,1522.4 2214.9,1523.5C2218.7,1524.6 2223.3,1527.3 2226.3,1532.6C2229.3,1537.9 2231.5,1545.8 2233,1555.2C2234.5,1564.6 2235.3,1577.8 2235.3,1589.1C2235.3,1600.4 2234.1,1611.8 2233,1623.1C2231.9,1634.4 2229.6,1645.7 2228.5,1657C2227.4,1668.3 2225.2,1682.5 2226.3,1690.9C2227.4,1699.3 2231.5,1702.2 2235.3,1707.2C2239.1,1712.2 2242.9,1717.0 2248.9,1720.8C2254.9,1724.6 2264.0,1727.2 2271.5,1729.8C2279.0,1732.4 2286.5,1735.1 2294.1,1736.6C2301.7,1738.1 2309.2,1738.5 2316.8,1738.9C2324.4,1739.3 2330.8,1738.9 2339.8,1738.9C2348.8,1738.9 2365.8,1791.4 2371,1738.9C2376.2,1686.4 2376.2,1476.5 2371,1424C2365.8,1371.5 2348.8,1424.0 2339.8,1424C2330.8,1424.0 2324.4,1423.2 2316.8,1424C2309.2,1424.8 2301.7,1427.0 2294.1,1428.5C2286.5,1430.0 2278.7,1433.4 2271.5,1433C2264.3,1432.6 2256.8,1430.4 2251.1,1426.2C2245.4,1422.0 2239.9,1416.8 2237.1,1408.1C2234.3,1399.4 2235.1,1385.5 2234.2,1374.2C2233.3,1362.9 2232.8,1349.6 2231.9,1340.2C2231.0,1330.8 2229.2,1323.6 2228.5,1317.6C2227.8,1311.6 2242.8,1306.3 2227.4,1304C2212.0,1301.7 2151.1,1301.7 2135.8,1304Z" fill="#d1e5f0"/>
<path d="M2140.3,1304C2134.3,1306.3 2141.8,1312.7 2140.3,1317.6C2138.8,1322.5 2135.7,1327.8 2131.2,1333.5C2126.7,1339.2 2119.9,1345.6 2113.1,1351.6C2106.3,1357.6 2098.0,1364.0 2090.5,1369.7C2083.0,1375.4 2075.4,1380.2 2067.9,1385.5C2060.4,1390.8 2052.8,1396.4 2045.3,1401.3C2037.8,1406.2 2029.4,1410.8 2022.6,1414.9C2015.8,1419.1 2010.2,1422.4 2004.5,1426.2C1998.8,1430.0 1992.9,1434.1 1988.7,1437.5C1984.5,1440.9 1980.3,1443.2 1979.6,1446.6C1978.8,1450.0 1981.5,1453.0 1984.2,1457.9C1986.9,1462.8 1991.3,1470.0 1995.5,1476C1999.7,1482.0 2004.6,1488.1 2009.1,1494.1C2013.6,1500.1 2018.1,1506.5 2022.6,1512.2C2027.1,1517.9 2031.7,1523.1 2036.2,1528C2040.7,1532.9 2045.3,1537.1 2049.8,1541.6C2054.3,1546.1 2060.0,1550.3 2063.4,1555.2C2066.8,1560.1 2067.8,1566.1 2070.1,1571C2072.3,1575.9 2073.5,1581.2 2076.9,1584.6C2080.3,1588.0 2085.6,1590.7 2090.5,1591.4C2095.4,1592.2 2100.7,1591.0 2106.3,1589.1C2112.0,1587.2 2118.7,1583.9 2124.4,1580.1C2130.1,1576.3 2135.4,1571.4 2140.3,1566.5C2145.2,1561.6 2149.8,1556.4 2153.9,1550.7C2158.1,1545.0 2161.8,1539.4 2165.2,1532.6C2168.6,1525.8 2171.6,1517.5 2174.2,1509.9C2176.8,1502.4 2179.1,1496.7 2181,1487.3C2182.9,1477.9 2184.4,1464.7 2185.5,1453.4C2186.6,1442.1 2187.8,1430.7 2187.8,1419.4C2187.8,1408.1 2186.6,1396.8 2185.5,1385.5C2184.4,1374.2 2182.5,1362.9 2181,1351.6C2179.5,1340.3 2177.2,1325.5 2176.5,1317.6C2175.8,1309.7 2182.5,1306.3 2176.5,1304C2170.5,1301.7 2146.3,1301.7 2140.3,1304Z" fill="#b1d5e7"/>
<path d="M2149.3,1399.1C2152.3,1404.8 2154.2,1412.2 2156.1,1419.4C2158.0,1426.6 2160.2,1434.5 2160.6,1442.1C2161.0,1449.6 2159.9,1457.2 2158.4,1464.7C2156.9,1472.2 2153.9,1480.1 2151.6,1487.3C2149.3,1494.5 2147.4,1501.7 2144.8,1507.7C2142.2,1513.7 2139.6,1519.0 2135.8,1523.5C2132.0,1528.0 2127.9,1532.0 2122.2,1534.8C2116.5,1537.6 2109.0,1539.8 2101.8,1540.5C2094.6,1541.2 2086.0,1541.0 2079.2,1539.3C2072.4,1537.6 2066.8,1534.4 2061.1,1530.3C2055.4,1526.2 2050.2,1519.8 2045.3,1514.5C2040.4,1509.2 2036.6,1504.3 2031.7,1498.6C2026.8,1492.9 2020.7,1486.5 2015.8,1480.5C2010.9,1474.5 2006.1,1468.2 2002.3,1462.4C1998.5,1456.6 1991.7,1450.0 1993.2,1445.5C1994.7,1441.0 2004.5,1438.5 2011.3,1435.3C2018.1,1432.1 2026.4,1429.6 2033.9,1426.2C2041.5,1422.8 2049.1,1419.1 2056.6,1414.9C2064.1,1410.8 2071.7,1405.5 2079.2,1401.3C2086.7,1397.1 2095.0,1392.8 2101.8,1390C2108.6,1387.2 2113.9,1385.2 2119.9,1384.4C2125.9,1383.7 2133.1,1383.0 2138,1385.5C2142.9,1388.0 2146.3,1393.4 2149.3,1399.1Z" fill="#92c5de"/>
<path d="M2126.7,1430.7C2129.3,1433.7 2132.4,1438.3 2133.5,1442.1C2134.6,1445.9 2134.2,1448.5 2133.5,1453.4C2132.8,1458.3 2130.9,1465.1 2129,1471.5C2127.1,1477.9 2124.5,1485.8 2122.2,1491.8C2119.9,1497.8 2118.4,1503.7 2115.4,1507.7C2112.4,1511.7 2109.0,1514.1 2104.1,1515.6C2099.2,1517.1 2092.0,1517.7 2086,1516.7C2080.0,1515.8 2073.9,1513.7 2067.9,1509.9C2061.9,1506.1 2055.5,1499.4 2049.8,1494.1C2044.1,1488.8 2039.2,1483.6 2033.9,1478.3C2028.6,1473.0 2022.2,1467.9 2018.1,1462.4C2014.0,1456.9 2007.6,1449.7 2009.1,1445.5C2010.6,1441.3 2020.4,1439.6 2027.2,1437.5C2034.0,1435.4 2041.5,1434.9 2049.8,1433C2058.1,1431.1 2068.6,1427.9 2076.9,1426.2C2085.2,1424.5 2092.8,1423.2 2099.6,1422.8C2106.4,1422.4 2113.2,1422.7 2117.7,1424C2122.2,1425.3 2124.1,1427.7 2126.7,1430.7Z" fill="#6aacd0"/>
<path d="M2087.1,1452.2C2085.2,1454.2 2083.1,1456.8 2079.2,1457.9C2075.2,1459.0 2069.1,1459.8 2063.4,1459C2057.8,1458.2 2050.8,1455.6 2045.3,1453.4C2039.8,1451.2 2030.6,1447.6 2030.6,1446.1C2030.6,1444.6 2038.3,1444.6 2045.3,1444.3C2052.3,1444.0 2064.9,1444.0 2072.4,1444.3C2079.9,1444.6 2088.1,1444.8 2090.5,1446.1C2092.9,1447.4 2089.0,1450.2 2087.1,1452.2Z" fill="#5aa2cc"/>
<path d="M2371,1711.3C2365.8,1754.3 2347.0,1711.1 2339.8,1711.3C2332.7,1711.5 2333.8,1711.9 2328.1,1712.2C2322.4,1712.5 2312.6,1714.1 2305.4,1712.9C2298.2,1711.7 2289.2,1707.4 2285.1,1704.9C2281.0,1702.4 2282.9,1701.9 2280.6,1697.7C2278.3,1693.5 2274.2,1686.4 2271.5,1679.6C2268.8,1672.8 2265.8,1666.4 2264.7,1657C2263.6,1647.6 2263.9,1634.4 2264.7,1623.1C2265.4,1611.8 2266.9,1600.4 2269.2,1589.1C2271.5,1577.8 2274.9,1565.8 2278.3,1555.2C2281.7,1544.7 2285.8,1535.2 2289.6,1525.8C2293.4,1516.4 2296.8,1506.9 2300.9,1498.6C2305.1,1490.3 2310.0,1482.0 2314.5,1476C2319.0,1470.0 2323.9,1465.8 2328.1,1462.4C2332.3,1459.0 2332.7,1457.1 2339.8,1455.6C2347.0,1454.1 2365.8,1410.8 2371,1453.4C2376.2,1496.0 2376.2,1668.3 2371,1711.3Z" fill="#b1d5e7"/>
<path d="M2371,1700.4C2365.8,1732.5 2347.0,1700.6 2339.8,1700.4C2332.7,1700.2 2333.1,1699.9 2328.1,1699.3C2323.1,1698.7 2315.7,1699.1 2310,1697C2304.3,1694.9 2297.5,1689.7 2294.1,1686.8C2290.7,1683.9 2290.9,1684.6 2289.6,1679.6C2288.3,1674.6 2286.6,1664.5 2286.2,1657C2285.8,1649.5 2286.0,1643.8 2287.3,1634.4C2288.6,1625.0 2291.4,1611.7 2294.1,1600.4C2296.8,1589.1 2299.8,1576.7 2303.2,1566.5C2306.6,1556.3 2310.3,1547.2 2314.5,1539.3C2318.7,1531.4 2323.9,1523.9 2328.1,1519C2332.3,1514.1 2332.7,1511.8 2339.8,1509.9C2347.0,1508.0 2365.8,1476.0 2371,1507.7C2376.2,1539.5 2376.2,1668.3 2371,1700.4Z" fill="#92c5de"/>
<path d="M2371,1686.8C2365.8,1705.1 2346.6,1687.0 2339.8,1686.8C2333.0,1686.6 2333.8,1686.8 2330.3,1685.7C2326.8,1684.6 2322.0,1683.2 2319,1680C2316.0,1676.8 2313.9,1671.8 2312.2,1666.5C2310.5,1661.2 2309.4,1650.0 2308.8,1648.4C2308.2,1646.8 2308.6,1657.8 2308.8,1657C2309.0,1656.2 2309.1,1649.8 2310,1643.4C2310.9,1637.0 2312.6,1626.4 2314.5,1618.5C2316.4,1610.6 2318.7,1601.9 2321.3,1595.9C2323.9,1589.9 2327.2,1585.3 2330.3,1582.3C2333.4,1579.3 2333.0,1578.7 2339.8,1577.8C2346.6,1576.9 2365.8,1558.5 2371,1576.7C2376.2,1594.9 2376.2,1668.5 2371,1686.8Z" fill="#6aacd0"/>
</g></g>
<g filter="url(#tsoft)">
<rect x="1522" y="1313.7" width="819" height="563.8" fill="none" stroke="#6b6b6b" stroke-width="3.6"/>
<path d="M1520.2,1877.5 H2342.8" stroke="#3c3c3c" stroke-width="3.6" fill="none"/>
<path d="M1702.5,1877.5 v-7 M1702.5,1313.7 v7 M1931,1877.5 v-7 M1931,1313.7 v7 M2159.5,1877.5 v-7 M2159.5,1313.7 v7 M1522,1425.1 h7 M2341,1425.1 h-7 M1522,1509.9 h7 M2341,1509.9 h-7 M1522,1593.6 h7 M2341,1593.6 h-7 M1522,1707.9 h7 M2341,1707.9 h-7 M1522,1793.2 h7 M2341,1793.2 h-7" stroke="#444" stroke-width="3.2" fill="none"/>
<text x="1729.2" y="1929.7" text-anchor="end" class="tk">−50</text>
<text x="1931.9" y="1929.7" text-anchor="middle" class="tk">0</text>
<text x="2156.9" y="1929.7" text-anchor="middle" class="tk">50</text>
<text x="1513.7" y="1440.6" text-anchor="end" class="tk">25</text>
<text x="1513.7" y="1525.4" text-anchor="end" class="tk">50</text>
<text x="1513.7" y="1609.1" text-anchor="end" class="tk">100</text>
<text x="1513.7" y="1723.4" text-anchor="end" class="tk">250</text>
<text x="1513.7" y="1808.7" text-anchor="end" class="tk">500</text>
<text x="1513.7" y="1892.8" text-anchor="end" class="tk">1000</text>
<text transform="translate(1393.7,1597.4) rotate(-90)" text-anchor="middle" class="axp">Pressure (hPa)</text>
<text x="1562.4" y="1843.7" class="pl">(f)</text>
</g>
</g>
<g filter="url(#tsoft)">
<text x="23.8" y="334.1" class="row">TR events</text>
<text x="22.9" y="999.4" class="row">NH events</text>
<text x="20.8" y="1643.1" class="row">SH events</text>
<text x="915" y="1987.6" text-anchor="middle" class="ax">Latitude</text>
<text x="1928.3" y="1981" text-anchor="middle" class="ax">Latitude</text>
<defs><linearGradient id="rdbu" x1="0" x2="1" y1="0" y2="0"><stop offset="0" stop-color="#053061"/><stop offset="0.1" stop-color="#2166ac"/><stop offset="0.2" stop-color="#4393c3"/><stop offset="0.3" stop-color="#92c5de"/><stop offset="0.4" stop-color="#d1e5f0"/><stop offset="0.5" stop-color="#f7f7f7"/><stop offset="0.6" stop-color="#fddbc7"/><stop offset="0.7" stop-color="#f4a582"/><stop offset="0.8" stop-color="#d6604d"/><stop offset="0.9" stop-color="#b2182b"/><stop offset="1" stop-color="#67001f"/></linearGradient></defs>
<rect x="1012.5" y="1998.5" width="812.2" height="56.5" fill="url(#rdbu)" stroke="#444" stroke-width="2.4"/>
<path d="M1213.3,1998.5 v7 M1213.3,2055 v-7 M1417.3,1998.5 v7 M1417.3,2055 v-7 M1620.6,1998.5 v7 M1620.6,2055 v-7" stroke="#333" stroke-width="2.6" fill="none"/>
<text x="1031.2" y="2101.3" text-anchor="end" class="cbt">−1</text>
<text x="1243.4" y="2101.3" text-anchor="end" class="cbt">−0.5</text>
<text x="1417.8" y="2101.3" text-anchor="middle" class="cbt">0</text>
<text x="1617.7" y="2101.3" text-anchor="middle" class="cbt">0.5</text>
<text x="1820" y="2101.3" text-anchor="middle" class="cbt">1</text>
<text x="1373" y="2153.7" text-anchor="middle" class="cb">Air temperature (K)</text>
</g>
</svg>
</body></html>
